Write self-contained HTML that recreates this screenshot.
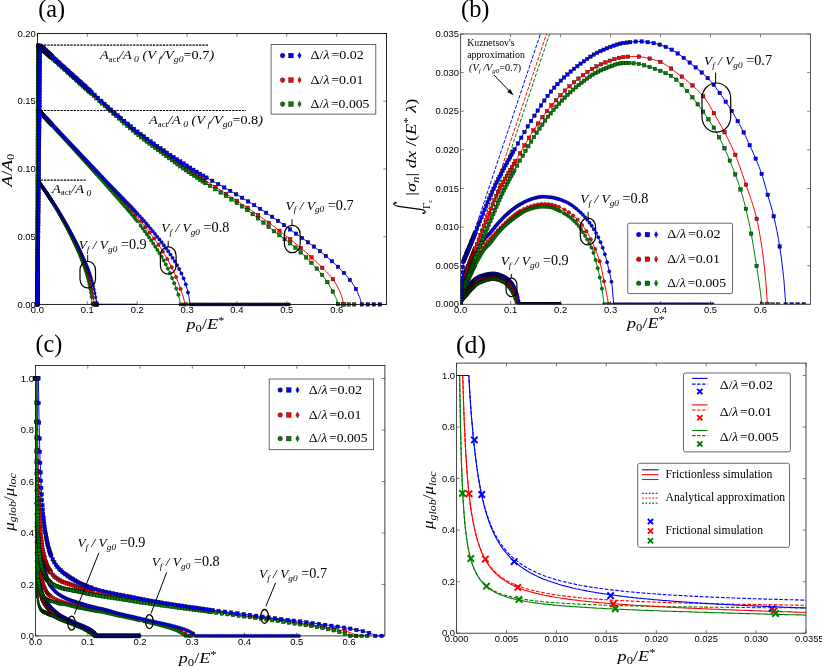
<!DOCTYPE html>
<html><head><meta charset="utf-8"><title>Figure</title>
<style>html,body{margin:0;padding:0;background:#fff;}svg{display:block;will-change:transform;}text{fill:#000;}</style>
</head><body>
<svg width="822" height="667" viewBox="0 0 822 667">
<rect width="822" height="667" fill="#fff"/>
<defs>
<marker id="sb" markerUnits="userSpaceOnUse" markerWidth="6" markerHeight="6" refX="3" refY="3" overflow="visible"><rect x="1.25" y="1.25" width="3.5" height="3.5" fill="#0000ff" stroke="#000" stroke-width="0.38"/></marker>
<marker id="cb" markerUnits="userSpaceOnUse" markerWidth="6" markerHeight="6" refX="3" refY="3" overflow="visible"><circle cx="3" cy="3" r="1.7" fill="#0000ff" stroke="#000" stroke-width="0.38"/></marker>
<marker id="db" markerUnits="userSpaceOnUse" markerWidth="6" markerHeight="6" refX="3" refY="3" overflow="visible"><path d="M3 0.85L4.2 3L3 5.15L1.8 3Z" fill="#0000ff" stroke="#000" stroke-width="0.5"/></marker>
<marker id="sr" markerUnits="userSpaceOnUse" markerWidth="6" markerHeight="6" refX="3" refY="3" overflow="visible"><rect x="1.25" y="1.25" width="3.5" height="3.5" fill="#ff0000" stroke="#000" stroke-width="0.38"/></marker>
<marker id="cr" markerUnits="userSpaceOnUse" markerWidth="6" markerHeight="6" refX="3" refY="3" overflow="visible"><circle cx="3" cy="3" r="1.7" fill="#ff0000" stroke="#000" stroke-width="0.38"/></marker>
<marker id="dr" markerUnits="userSpaceOnUse" markerWidth="6" markerHeight="6" refX="3" refY="3" overflow="visible"><path d="M3 0.85L4.2 3L3 5.15L1.8 3Z" fill="#ff0000" stroke="#000" stroke-width="0.5"/></marker>
<marker id="sg" markerUnits="userSpaceOnUse" markerWidth="6" markerHeight="6" refX="3" refY="3" overflow="visible"><rect x="1.25" y="1.25" width="3.5" height="3.5" fill="#008000" stroke="#000" stroke-width="0.38"/></marker>
<marker id="cg" markerUnits="userSpaceOnUse" markerWidth="6" markerHeight="6" refX="3" refY="3" overflow="visible"><circle cx="3" cy="3" r="1.7" fill="#008000" stroke="#000" stroke-width="0.38"/></marker>
<marker id="dg" markerUnits="userSpaceOnUse" markerWidth="6" markerHeight="6" refX="3" refY="3" overflow="visible"><path d="M3 0.85L4.2 3L3 5.15L1.8 3Z" fill="#008000" stroke="#000" stroke-width="0.5"/></marker>
<clipPath id="clipa"><rect x="37.4" y="33.5" width="349.20000000000005" height="270.9"/></clipPath>
<clipPath id="clipb"><rect x="460.6" y="34.0" width="349.9" height="270.3"/></clipPath>
<clipPath id="clipc"><rect x="35.5" y="365.4" width="349.4" height="270.5"/></clipPath>
<clipPath id="clipd"><rect x="456.6" y="363.1" width="349.4" height="270.1"/></clipPath>
</defs>
<polyline fill="none" stroke="#ff0000" stroke-width="1" stroke-linejoin="round" points="37.4,304.4 37.4,301.4 37.4,298.5 37.4,295.5 37.4,292.6 37.4,289.6 37.4,286.7 37.5,283.7 37.5,280.8 37.5,277.8 37.5,274.9 37.5,271.9 37.5,269 37.5,266 37.5,263.1 37.5,260.1 37.5,257.2 37.5,254.2 37.5,251.3 37.5,248.3 37.6,245.4 37.6,242.4 37.6,239.5 37.6,236.5 37.6,233.6 37.6,230.6 37.6,227.7 37.6,224.7 37.6,221.8 37.6,218.8 37.6,215.9 37.6,212.9 37.6,210 37.7,207 37.7,204.1 37.7,201.1 37.7,198.2 37.7,195.2 37.7,192.3 37.7,189.3 37.7,186.4 37.7,183.4 37.7,180.5 37.9,180.7 38.1,181 38.3,181.3 38.5,181.6 38.7,181.8 38.9,182.1 39.1,182.4 39.3,182.7 39.5,182.9 39.7,183.2 39.9,183.5 40.1,183.8 40.3,184.1 40.5,184.3 40.7,184.6 40.9,184.9 41.1,185.2 41.3,185.5 41.5,185.8 41.7,186 41.9,186.3 42.1,186.6 42.3,186.9 42.5,187.2 42.7,187.5 42.8,187.7 42.9,187.8 43.1,188.1 43.3,188.3 43.5,188.6 43.7,188.9 43.9,189.2 44.1,189.5 44.3,189.8 44.5,190.1 44.7,190.4 44.9,190.7 45.1,191 45.3,191.3 45.5,191.6 45.7,191.9 45.9,192.2 46.1,192.4 46.3,192.7 46.5,193 46.7,193.3 46.9,193.6 47.1,193.9 47.3,194.2 47.5,194.5 47.7,194.8 47.9,195.1 48.1,195.4 48.3,195.7 48.5,196 48.7,196.3 48.7,196.4 48.9,196.7 49.1,197 49.3,197.3 49.5,197.6 49.7,197.9 49.9,198.2 50.1,198.5 50.3,198.8 50.5,199.1 50.7,199.4 50.9,199.7 51,199.8 51.1,200 51.3,200.3 51.5,200.6 51.7,201 51.9,201.3 52.1,201.6 52.3,201.9 52.4,202 53.9,204.4 55.4,206.8 56.4,208.5 56.9,209.2 58.4,211.7 59.8,214.2 61.3,216.8 61.5,217 62.8,219.4 64.3,222.1 65.8,224.9 67.3,227.7 68.8,230.5 70,232.8 70.3,233.4 71.8,236.4 72,236.7 73.3,239.4 74.8,242.4 76.3,245.4 77.8,248.5 79.3,251.8 80.7,254.9 80.8,255.1 82.3,258.7 82.4,259 83.8,262.3 85.3,266 86.8,270.1 87.5,272.3 88.3,274.6 89.3,278 89.8,279.9 91.3,286.5 92.3,291.6 92.5,292.9 92.8,294.2 93.8,300.3 94,302.3 94.3,304.4 94.3,304.4 94.8,304.4 95.8,304.4 97.3,304.4 98.8,304.4 100.3,304.4 101.8,304.4 103.2,304.4 104.7,304.4 106.2,304.4 107.7,304.4 109.2,304.4 110.7,304.4 112.2,304.4 113.7,304.4 115.2,304.4 116.7,304.4 118.2,304.4 119.7,304.4 121.2,304.4 122.7,304.4 124.2,304.4 125.7,304.4 127.2,304.4 128.7,304.4 130.2,304.4 131.7,304.4 133.2,304.4 134.7,304.4 136.2,304.4 137.2,304.4"/>
<polyline fill="none" stroke="none" marker-start="url(#dr)" marker-mid="url(#dr)" marker-end="url(#dr)" points="37.4,304.4 37.4,301.4 37.4,298.5 37.4,295.5 37.4,292.6 37.4,289.6 37.4,286.7 37.5,283.7 37.5,280.8 37.5,277.8 37.5,274.9 37.5,271.9 37.5,269 37.5,266 37.5,263.1 37.5,260.1 37.5,257.2 37.5,254.2 37.5,251.3 37.5,248.3 37.6,245.4 37.6,242.4 37.6,239.5 37.6,236.5 37.6,233.6 37.6,230.6 37.6,227.7 37.6,224.7 37.6,221.8 37.6,218.8 37.6,215.9 37.6,212.9 37.6,210 37.7,207 37.7,204.1 37.7,201.1 37.7,198.2 37.7,195.2 37.7,192.3 37.7,189.3 37.7,186.4 37.7,183.4 37.7,180.5 37.9,180.7 38.1,180.9 38.2,181.2 38.4,181.4 38.6,181.7 38.8,181.9 38.9,182.1 39.1,182.4 39.3,182.6 39.5,182.9 39.6,183.1 39.8,183.4 40,183.6 40.2,183.9 40.3,184.1 40.7,184.6 41,185.1 41.4,185.6 41.7,186.1 42.1,186.6 42.4,187.1 42.8,187.6 43.1,188.1 43.5,188.6 43.8,189.1 44.2,189.6 44.5,190.1 44.9,190.6 45.2,191.2 45.6,191.7 45.9,192.2 46.3,192.7 46.6,193.2 47,193.8 47.3,194.3 47.7,194.8 48,195.3 48.4,195.9 48.7,196.4 49.1,196.9 49.4,197.5 49.8,198 50.1,198.5 50.5,199.1 50.8,199.6 51.2,200.1 51.5,200.7 51.9,201.2 52.2,201.8 53,202.9 53.7,204.1 54.5,205.3 55.2,206.5 56,207.7 56.7,208.9 57.5,210.2 58.2,211.4 59,212.7 59.7,213.9 60.4,215.2 61.2,216.5 61.9,217.8 62.7,219.1 63.4,220.5 64.2,221.8 64.9,223.2 65.7,224.6 66.4,226 67.2,227.4 67.9,228.8 68.7,230.2 69.4,231.7 70.2,233.1 70.9,234.6 71.7,236.1 72.4,237.6 73.2,239.1 73.9,240.6 74.7,242.1 75.4,243.6 76.2,245.1 76.9,246.7 77.7,248.2 78.4,249.8 79.2,251.4 79.9,253.1 80.7,254.8 81.4,256.5 82.1,258.3 82.9,260.1 83.6,261.9 84.4,263.8 85.1,265.7 85.9,267.6 86.6,269.7 87.4,271.8 88.1,274.1 88.9,276.6 89.6,279.3 90.4,282.4 91.1,285.8 91.9,289.5 92.6,293.4 93.4,297.7 94.1,303.1 94.9,304.4 95.6,304.4 96.4,304.4 97.1,304.4 97.9,304.4"/>
<polyline fill="none" stroke="#008000" stroke-width="1" stroke-linejoin="round" points="37.4,304.4 37.4,301.4 37.4,298.5 37.4,295.5 37.4,292.6 37.4,289.6 37.4,286.7 37.4,283.7 37.4,280.8 37.4,277.8 37.4,274.9 37.4,271.9 37.4,269 37.4,266 37.5,263.1 37.5,260.1 37.5,257.2 37.5,254.2 37.5,251.3 37.5,248.3 37.5,245.4 37.5,242.4 37.5,239.5 37.5,236.5 37.5,233.6 37.5,230.6 37.5,227.7 37.5,224.7 37.5,221.8 37.5,218.8 37.5,215.9 37.5,212.9 37.5,210 37.5,207 37.5,204.1 37.5,201.1 37.5,198.2 37.5,195.2 37.5,192.3 37.5,189.3 37.6,186.4 37.6,183.4 37.6,180.5 37.8,180.7 38,181 38.2,181.3 38.4,181.6 38.6,181.8 38.8,182.1 39,182.4 39.2,182.7 39.4,183 39.6,183.2 39.8,183.5 40,183.8 40.2,184.1 40.4,184.4 40.6,184.7 40.8,184.9 41,185.2 41.2,185.5 41.4,185.8 41.6,186.1 41.8,186.4 41.9,186.7 42.1,187 42.3,187.2 42.5,187.5 42.7,187.8 42.8,188 42.9,188.1 43.1,188.4 43.3,188.7 43.5,189 43.7,189.3 43.9,189.6 44.1,189.9 44.3,190.2 44.5,190.5 44.7,190.8 44.9,191.1 45.1,191.4 45.3,191.7 45.5,192 45.7,192.3 45.9,192.6 46.1,192.9 46.3,193.2 46.5,193.5 46.7,193.8 46.9,194.1 47.1,194.4 47.3,194.7 47.5,195 47.7,195.3 47.9,195.6 48.1,195.9 48.3,196.2 48.5,196.6 48.7,196.8 48.7,196.9 48.9,197.2 49.1,197.5 49.3,197.8 49.5,198.1 49.7,198.4 49.9,198.7 50.1,199.1 50.3,199.4 50.5,199.7 50.7,200 50.9,200.3 51,200.4 51.1,200.6 51.3,200.9 51.5,201.3 51.7,201.6 51.9,201.9 52.1,202.2 52.3,202.5 52.4,202.6 53.9,205 55.4,207.5 56.4,209.3 56.9,210 58.4,212.6 59.8,215.2 61.3,217.8 61.5,218.1 62.8,220.6 64.3,223.3 65.8,226.1 67.3,229 68.8,231.9 70,234.3 70.3,234.9 71.8,238 72,238.3 73.3,241.1 74.8,244.3 76.3,247.6 77.8,250.9 79.3,254.4 79.7,255.4 80.8,258.1 82.3,262 82.4,262.4 83.8,266.1 85.3,270.6 86.5,274.7 86.8,275.6 87.8,279.3 88.3,281.4 89.8,288.7 90.5,292.9 91.3,297.3 91.4,298 91.7,300.3 92,304.4 92.8,304.4 92.8,304.4 93.3,304.4 94.3,304.4 95.8,304.4 97.3,304.4 98.8,304.4 100.3,304.4 101.8,304.4 103.2,304.4 104.7,304.4 106.2,304.4 107.7,304.4 109.2,304.4 110.7,304.4 112.2,304.4 113.7,304.4 115.2,304.4 116.7,304.4 118.2,304.4 119.7,304.4 121.2,304.4 122.7,304.4 124.2,304.4 125.7,304.4 127.2,304.4 128.7,304.4 130.2,304.4 131.7,304.4 133.2,304.4 134.7,304.4 136.2,304.4 137.2,304.4"/>
<polyline fill="none" stroke="none" marker-start="url(#dg)" marker-mid="url(#dg)" marker-end="url(#dg)" points="37.4,304.4 37.4,301.4 37.4,298.5 37.4,295.5 37.4,292.6 37.4,289.6 37.4,286.7 37.4,283.7 37.4,280.8 37.4,277.8 37.4,274.9 37.4,271.9 37.4,269 37.4,266 37.5,263.1 37.5,260.1 37.5,257.2 37.5,254.2 37.5,251.3 37.5,248.3 37.5,245.4 37.5,242.4 37.5,239.5 37.5,236.5 37.5,233.6 37.5,230.6 37.5,227.7 37.5,224.7 37.5,221.8 37.5,218.8 37.5,215.9 37.5,212.9 37.5,210 37.5,207 37.5,204.1 37.5,201.1 37.5,198.2 37.5,195.2 37.5,192.3 37.5,189.3 37.6,186.4 37.6,183.4 37.6,180.5 37.6,180.6 37.7,180.7 37.8,180.8 37.9,180.9 38,181.1 38.1,181.2 38.2,181.3 38.3,181.4 38.3,181.5 38.4,181.7 38.5,181.8 38.6,181.9 38.7,182 38.8,182.2 38.9,182.3 39,182.4 39,182.5 39.1,182.6 39.2,182.8 39.3,182.9 39.4,183 39.7,183.5 40.1,184 40.4,184.5 40.8,185 41.1,185.5 41.5,186 41.8,186.5 42.2,187 42.5,187.5 42.9,188 43.2,188.5 43.6,189.1 43.9,189.6 44.3,190.1 44.6,190.6 45,191.1 45.3,191.7 45.7,192.2 46,192.7 46.4,193.2 46.7,193.8 47.1,194.3 47.4,194.8 47.8,195.4 48.1,195.9 48.5,196.5 48.8,197 49.2,197.5 49.5,198.1 49.9,198.6 50.2,199.2 50.6,199.7 50.9,200.3 51.3,200.8 51.6,201.4 52,202 52.3,202.5 53.1,203.7 53.8,204.9 54.6,206.2 55.3,207.4 56.1,208.7 56.8,209.9 57.6,211.2 58.3,212.5 59,213.8 59.8,215.1 60.5,216.4 61.3,217.8 62,219.1 62.8,220.5 63.5,221.8 64.3,223.2 65,224.6 65.8,226 66.5,227.4 67.3,228.9 68,230.3 68.8,231.8 69.5,233.3 70.3,234.8 71,236.3 71.8,237.9 72.5,239.4 73.3,241 74,242.6 74.8,244.2 75.5,245.8 76.3,247.4 77,249.1 77.8,250.8 78.5,252.5 79.3,254.3 80,256.1 80.7,258 81.5,259.9 82.2,261.9 83,263.9 83.7,266 84.5,268.2 85.2,270.4 86,272.8 86.7,275.4 87.5,278.2 88.2,281.2 89,284.6 89.7,288.5 90.5,292.6 91.2,296.9 92,303.7 92.7,304.4 93.5,304.4 94.2,304.4 95,304.4 95.7,304.4 96.5,304.4 97.2,304.4 98,304.4"/>
<polyline fill="none" stroke="#0000ff" stroke-width="1" stroke-linejoin="round" points="37.4,304.4 37.4,301.4 37.4,298.5 37.4,295.5 37.5,292.6 37.5,289.6 37.5,286.7 37.5,283.7 37.5,280.8 37.5,277.8 37.6,274.9 37.6,271.9 37.6,269 37.6,266 37.6,263.1 37.6,260.1 37.6,257.2 37.7,254.2 37.7,251.3 37.7,248.3 37.7,245.4 37.7,242.4 37.7,239.5 37.8,236.5 37.8,233.6 37.8,230.6 37.8,227.7 37.8,224.7 37.8,221.8 37.8,218.8 37.9,215.9 37.9,212.9 37.9,210 37.9,207 37.9,204.1 37.9,201.1 38,198.2 38,195.2 38,192.3 38,189.3 38,186.4 38,183.4 38,180.5 38.2,180.7 38.4,181 38.6,181.3 38.8,181.5 39,181.8 39.2,182.1 39.4,182.4 39.6,182.6 39.8,182.9 40,183.2 40.2,183.5 40.4,183.7 40.6,184 40.8,184.3 41,184.6 41.2,184.9 41.4,185.1 41.6,185.4 41.8,185.7 42,186 42.2,186.3 42.4,186.5 42.6,186.8 42.8,187.1 43,187.4 43.2,187.7 43.4,188 43.6,188.2 43.8,188.5 44,188.8 44.2,189.1 44.4,189.4 44.6,189.7 44.8,190 45,190.2 45.2,190.5 45.4,190.8 45.6,191.1 45.8,191.4 46,191.7 46.2,192 46.4,192.3 46.6,192.6 46.8,192.9 47,193.2 47.2,193.4 47.4,193.7 47.6,194 47.8,194.3 48,194.6 48.2,194.9 48.4,195.2 48.6,195.5 48.7,195.6 48.8,195.8 49,196.1 49.2,196.4 49.4,196.7 49.6,197 49.8,197.3 50,197.6 50.2,197.9 50.4,198.2 50.6,198.5 50.8,198.8 51,199 51,199.1 51.2,199.4 51.4,199.7 51.6,200 51.8,200.3 52,200.6 52.2,200.9 52.4,201.1 53.9,203.4 55.4,205.8 56.4,207.4 56.9,208.1 58.4,210.5 59.8,212.9 61.3,215.4 61.5,215.7 62.8,218 64.3,220.5 65.8,223.2 67.3,225.8 68.8,228.5 70,230.7 70.3,231.3 71.8,234.1 72,234.4 73.3,236.9 74.8,239.8 76.3,242.7 77.8,245.6 79.3,248.6 80.8,251.8 81.6,253.6 82.3,255 82.4,255.4 83.8,258.4 85.3,261.7 86.8,265.2 88.3,268.9 88.5,269.4 89.8,273 90.9,276.4 91.3,277.7 92.8,283.2 93.3,285.4 94.3,289.6 95,293.2 95.5,295.7 95.8,297.2 96.3,300.3 96.8,304.4 97.3,304.4 98.8,304.4 100.3,304.4 101.8,304.4 103.2,304.4 104.7,304.4 106.2,304.4 107.7,304.4 109.2,304.4 110.7,304.4 112.2,304.4 113.7,304.4 115.2,304.4 116.7,304.4 118.2,304.4 119.7,304.4 121.2,304.4 122.7,304.4 124.2,304.4 125.7,304.4 127.2,304.4 128.7,304.4 130.2,304.4 131.7,304.4 133.2,304.4 134.7,304.4 136.2,304.4 137.2,304.4"/>
<polyline fill="none" stroke="none" marker-start="url(#db)" marker-mid="url(#db)" marker-end="url(#db)" points="37.4,304.4 37.4,301.4 37.4,298.5 37.4,295.5 37.5,292.6 37.5,289.6 37.5,286.7 37.5,283.7 37.5,280.8 37.5,277.8 37.6,274.9 37.6,271.9 37.6,269 37.6,266 37.6,263.1 37.6,260.1 37.6,257.2 37.7,254.2 37.7,251.3 37.7,248.3 37.7,245.4 37.7,242.4 37.7,239.5 37.8,236.5 37.8,233.6 37.8,230.6 37.8,227.7 37.8,224.7 37.8,221.8 37.8,218.8 37.9,215.9 37.9,212.9 37.9,210 37.9,207 37.9,204.1 37.9,201.1 38,198.2 38,195.2 38,192.3 38,189.3 38,186.4 38,183.4 38,180.5 38.4,180.9 38.7,181.4 39.1,181.9 39.4,182.4 39.8,182.9 40.1,183.3 40.5,183.8 40.8,184.3 41.2,184.8 41.5,185.3 41.9,185.8 42.2,186.3 42.6,186.8 42.9,187.2 43.3,187.7 43.6,188.2 44,188.7 44.3,189.2 44.7,189.7 45,190.2 45.4,190.8 45.7,191.3 46.1,191.8 46.4,192.3 46.8,192.8 47.1,193.3 47.5,193.8 47.8,194.3 48.2,194.8 48.5,195.4 48.9,195.9 49.2,196.4 49.6,196.9 49.9,197.4 50.3,198 50.6,198.5 51,199 51.3,199.5 51.7,200.1 52,200.6 52.4,201.1 53.1,202.3 53.9,203.4 54.6,204.6 55.4,205.8 56.1,206.9 56.9,208.1 57.6,209.3 58.4,210.5 59.1,211.7 59.8,212.9 60.6,214.2 61.3,215.4 62.1,216.7 62.8,218 63.6,219.2 64.3,220.5 65.1,221.8 65.8,223.2 66.6,224.5 67.3,225.8 68.1,227.2 68.8,228.5 69.6,229.9 70.3,231.3 71.1,232.7 71.8,234.1 72.6,235.5 73.3,236.9 74.1,238.3 74.8,239.8 75.6,241.2 76.3,242.7 77.1,244.1 77.8,245.6 78.6,247.1 79.3,248.6 80.1,250.2 80.8,251.8 81.5,253.4 82.3,255 83,256.7 83.8,258.4 84.5,260 85.3,261.7 86,263.4 86.8,265.2 87.5,267 88.3,268.9 89,270.9 89.8,273 90.5,275.3 91.3,277.7 92,280.3 92.8,283.2 93.5,286.3 94.3,289.6 95,293.2 95.8,297.2 96.5,302.2 97.3,304.4"/>
<polyline fill="none" stroke="#ff0000" stroke-width="1" stroke-linejoin="round" points="37.4,304.4 37.4,301.4 37.4,298.4 37.4,295.4 37.4,292.5 37.5,289.5 37.5,286.5 37.5,283.5 37.5,280.5 37.5,277.5 37.5,274.5 37.5,271.6 37.5,268.6 37.6,265.6 37.6,262.6 37.6,259.6 37.6,256.6 37.6,253.6 37.6,250.6 37.6,247.7 37.6,244.7 37.7,241.7 37.7,238.7 37.7,235.7 37.7,232.7 37.7,229.7 37.7,226.8 37.7,223.8 37.7,220.8 37.7,217.8 37.8,214.8 37.8,211.8 37.8,208.8 37.8,205.9 37.8,202.9 37.8,199.9 37.8,196.9 37.8,193.9 37.9,190.9 37.9,187.9 37.9,185 37.9,182 37.9,179 37.9,176 37.9,173 37.9,170 38,167 38,164.1 38,161.1 38,158.1 38,155.1 38,152.1 38,149.1 38,146.1 38.1,143.1 38.1,140.2 38.1,137.2 38.1,134.2 38.1,131.2 38.1,128.2 38.1,125.2 38.1,122.2 38.1,119.3 38.2,116.3 38.2,113.3 38.2,110.3 38.4,110.5 38.6,110.7 38.8,110.9 39,111.1 39.2,111.4 39.4,111.6 39.6,111.8 39.8,112 40,112.2 40.2,112.4 40.4,112.6 40.6,112.8 40.8,113 41,113.2 41.2,113.5 41.4,113.7 41.6,113.9 41.8,114.1 42,114.3 42.2,114.5 42.4,114.7 42.6,114.9 42.8,115.1 43,115.4 43.2,115.6 43.4,115.8 43.4,115.8 43.6,116 43.8,116.2 44,116.4 44.2,116.6 44.4,116.8 44.6,117 44.8,117.2 45,117.5 45.2,117.7 45.4,117.9 45.6,118.1 45.8,118.3 46,118.5 46.2,118.7 46.4,118.9 46.6,119.1 46.8,119.4 47,119.6 47.2,119.8 47.4,120 47.6,120.2 47.8,120.4 48,120.6 48.2,120.8 48.4,121 48.6,121.3 48.8,121.5 49,121.7 49.2,121.9 49.3,122.1 49.4,122.1 49.6,122.3 49.8,122.5 50,122.7 50.2,122.9 50.4,123.2 50.6,123.4 50.8,123.6 51,123.8 51.2,124 51.4,124.2 51.6,124.4 51.8,124.6 52,124.9 52.2,125.1 52.4,125.3 52.4,125.3 53.9,126.9 55.4,128.5 56.4,129.5 56.9,130.1 58.4,131.7 59.8,133.2 61.2,134.7 61.3,134.8 62.3,135.9 62.8,136.4 64.3,138 65.8,139.6 66.8,140.7 67.3,141.2 68.8,142.8 70.3,144.4 71.8,146 73.3,147.6 74.3,148.7 74.8,149.2 76.3,150.9 77.8,152.5 79.3,154.1 80.8,155.7 81.8,156.8 82.3,157.3 83.8,158.9 85.3,160.5 86.8,162.1 88.3,163.7 89.3,164.8 89.8,165.3 90.9,166.5 91.3,166.9 92.8,168.5 94.3,170.2 95.8,171.8 96.8,172.8 97.3,173.4 98.8,175 100.3,176.6 101.8,178.2 103.2,179.8 104.2,180.9 104.7,181.4 106.2,183 107.7,184.6 109.2,186.2 110.7,187.8 111.7,188.9 112.2,189.5 113.7,191.1 113.9,191.3 115.2,192.7 116.7,194.3 118.2,195.9 119.2,197 119.7,197.5 121.2,199.1 122.7,200.7 124.2,202.3 125.7,203.9 126.7,205 127.2,205.6 128.7,207.2 130.2,208.9 131.7,210.6 133.2,212.3 134.1,213.4 134.7,214 134.9,214.3 136.2,215.8 137.7,217.6 139.2,219.4 140.7,221.2 142.2,223 143.7,224.8 143.8,225 145.2,226.7 146.6,228.6 148.1,230.5 149.6,232.5 151.1,234.4 152.6,236.5 153.5,237.7 154.1,238.5 155.6,240.6 155.9,241 157.1,242.7 158.6,244.9 160.1,247.1 161.6,249.5 163.1,251.9 163.2,252 164.3,253.9 164.6,254.4 166.1,257 167.6,259.6 169.1,262.3 170.6,265.2 171,266 172.1,268.2 173.6,271.3 174.8,273.9 175.1,274.6 176.6,278.2 176.8,278.9 178.1,282.2 179.6,286.3 180.9,290.2 181.1,290.6 181.1,290.6 182.6,294.7 183.8,299 184.1,300.1 184.9,304.4 185.6,304.4 187.1,304.4"/>
<polyline fill="none" stroke="none" marker-start="url(#cr)" marker-mid="url(#cr)" marker-end="url(#cr)" points="37.4,304.4 37.4,301.4 37.4,298.4 37.4,295.4 37.4,292.5 37.5,289.5 37.5,286.5 37.5,283.5 37.5,280.5 37.5,277.5 37.5,274.5 37.5,271.6 37.5,268.6 37.6,265.6 37.6,262.6 37.6,259.6 37.6,256.6 37.6,253.6 37.6,250.6 37.6,247.7 37.6,244.7 37.7,241.7 37.7,238.7 37.7,235.7 37.7,232.7 37.7,229.7 37.7,226.8 37.7,223.8 37.7,220.8 37.7,217.8 37.8,214.8 37.8,211.8 37.8,208.8 37.8,205.9 37.8,202.9 37.8,199.9 37.8,196.9 37.8,193.9 37.9,190.9 37.9,187.9 37.9,185 37.9,182 37.9,179 37.9,176 37.9,173 37.9,170 38,167 38,164.1 38,161.1 38,158.1 38,155.1 38,152.1 38,149.1 38,146.1 38.1,143.1 38.1,140.2 38.1,137.2 38.1,134.2 38.1,131.2 38.1,128.2 38.1,125.2 38.1,122.2 38.1,119.3 38.2,116.3 38.2,113.3 38.2,110.3 38.4,110.5 38.5,110.7 38.7,110.9 38.9,111 39.1,111.2 39.2,111.4 39.4,111.6 39.6,111.8 39.8,112 39.9,112.1 40.1,112.3 40.3,112.5 40.5,112.7 40.6,112.9 40.8,113.1 41,113.2 41.2,113.4 41.3,113.6 41.7,114 42,114.4 42.4,114.7 42.7,115.1 43.1,115.5 43.4,115.8 43.8,116.2 44.1,116.6 44.5,116.9 44.8,117.3 45.2,117.7 45.5,118 45.9,118.4 46.2,118.8 46.6,119.1 46.9,119.5 47.3,119.9 47.6,120.3 48,120.6 48.3,121 48.7,121.4 49,121.7 49.4,122.1 49.7,122.5 50.1,122.8 50.4,123.2 50.8,123.6 51.1,124 51.5,124.3 51.8,124.7 52.2,125.1 54.6,127.7 57.1,130.4 59.6,133 62.1,135.7 64.6,138.3 67.1,141 69.6,143.7 72.1,146.3 74.6,149 77.1,151.7 79.6,154.4 82.1,157.1 84.6,159.7 87.1,162.4 89.6,165.1 92.1,167.8 94.6,170.5 97,173.1 100.5,176.9 104,180.6 107.5,184.4 111,188.1 114.5,191.9 118,195.7 121.5,199.4 125,203.2 128.5,207 132,210.9 135.5,215 141,221.5 145.4,227 149.7,232.6 154.1,238.5 158.5,244.7 162.9,251.6 167.3,259.1 171.7,267.3 176.1,277 180.5,288.9 184.9,304.4"/>
<polyline fill="none" stroke="#008000" stroke-width="1" stroke-linejoin="round" points="37.4,304.4 37.4,301.4 37.4,298.4 37.4,295.4 37.4,292.5 37.4,289.5 37.4,286.5 37.4,283.5 37.4,280.5 37.5,277.5 37.5,274.5 37.5,271.6 37.5,268.6 37.5,265.6 37.5,262.6 37.5,259.6 37.5,256.6 37.5,253.6 37.5,250.6 37.5,247.7 37.5,244.7 37.5,241.7 37.5,238.7 37.5,235.7 37.5,232.7 37.5,229.7 37.6,226.8 37.6,223.8 37.6,220.8 37.6,217.8 37.6,214.8 37.6,211.8 37.6,208.8 37.6,205.9 37.6,202.9 37.6,199.9 37.6,196.9 37.6,193.9 37.6,190.9 37.6,187.9 37.6,185 37.6,182 37.7,179 37.7,176 37.7,173 37.7,170 37.7,167 37.7,164.1 37.7,161.1 37.7,158.1 37.7,155.1 37.7,152.1 37.7,149.1 37.7,146.1 37.7,143.1 37.7,140.2 37.7,137.2 37.7,134.2 37.7,131.2 37.8,128.2 37.8,125.2 37.8,122.2 37.8,119.3 37.8,116.3 37.8,113.3 37.8,110.3 38,110.5 38.2,110.7 38.4,110.9 38.6,111.1 38.8,111.3 39,111.6 39.2,111.8 39.4,112 39.6,112.2 39.8,112.4 40,112.6 40.2,112.8 40.4,113 40.6,113.2 40.8,113.4 41,113.7 41.2,113.9 41.4,114.1 41.6,114.3 41.8,114.5 42,114.7 42.2,114.9 42.4,115.1 42.6,115.3 42.8,115.5 43,115.8 43.2,116 43.4,116.2 43.4,116.2 43.6,116.4 43.8,116.6 44,116.8 44.2,117 44.4,117.2 44.6,117.4 44.8,117.7 45,117.9 45.2,118.1 45.4,118.3 45.6,118.5 45.8,118.7 46,118.9 46.2,119.1 46.4,119.3 46.6,119.6 46.8,119.8 47,120 47.2,120.2 47.4,120.4 47.6,120.6 47.8,120.8 48,121 48.2,121.2 48.4,121.5 48.6,121.7 48.8,121.9 49,122.1 49.2,122.3 49.3,122.5 49.4,122.5 49.6,122.7 49.8,122.9 50,123.2 50.2,123.4 50.4,123.6 50.6,123.8 50.8,124 51,124.2 51.2,124.4 51.4,124.6 51.6,124.9 51.8,125.1 52,125.3 52.2,125.5 52.4,125.7 52.4,125.7 53.9,127.3 55.4,128.9 56.4,130 56.9,130.5 58.4,132.1 59.8,133.7 61.2,135.3 61.3,135.4 62.3,136.4 62.8,137 64.3,138.6 65.8,140.2 66.8,141.3 67.3,141.9 68.8,143.5 70.3,145.1 71.8,146.8 73.3,148.4 74.3,149.5 74.8,150.1 76.3,151.7 77.8,153.4 79.3,155 80.8,156.7 81.8,157.8 82.3,158.3 83.8,160 85.3,161.6 86.8,163.3 88.3,165 89.3,166.1 89.8,166.6 90.9,167.9 91.3,168.3 92.8,170 94.3,171.7 95.8,173.3 96.8,174.4 97.3,175 98.8,176.7 100.3,178.4 101.8,180.1 103.2,181.7 104.2,182.9 104.7,183.4 106.2,185.1 107.7,186.8 109.2,188.5 110.7,190.2 111.7,191.4 112.2,191.9 113.7,193.6 113.9,193.9 115.2,195.4 116.7,197 118.2,198.7 119.2,199.9 119.7,200.4 121.2,202.1 122.7,203.8 124.2,205.5 125.7,207.2 126.7,208.3 127.2,208.9 128.7,210.7 130.2,212.4 131.7,214.2 133.2,216.1 134.1,217.2 134.7,217.9 134.9,218.3 136.2,219.8 137.7,221.8 139.2,223.7 140.7,225.7 142.2,227.7 143.7,229.8 143.8,230 145.2,231.8 146.6,233.9 148.1,236 149.6,238.2 151.1,240.4 152.6,242.6 153.5,244 154.1,244.9 155.6,247.2 155.9,247.6 157.1,249.5 158.6,251.9 160.1,254.3 161.6,256.8 163.1,259.4 163.2,259.6 164.6,262.1 166.1,264.9 166.4,265.5 167.6,267.9 169,271 169.1,271.1 170.6,274.5 172.1,278.1 173.6,281.7 174.3,283.5 174.8,284.8 175.1,285.5 176.6,289.4 178.1,293.7 178.6,295.5 178.8,296.2 179.6,299.8 179.8,301 180,301.8 180.5,304.4 181.1,304.4 182.6,304.4 184.1,304.4 185.6,304.4 187.1,304.4"/>
<polyline fill="none" stroke="none" marker-start="url(#cg)" marker-mid="url(#cg)" marker-end="url(#cg)" points="37.4,304.4 37.4,301.4 37.4,298.4 37.4,295.4 37.4,292.5 37.4,289.5 37.4,286.5 37.4,283.5 37.4,280.5 37.5,277.5 37.5,274.5 37.5,271.6 37.5,268.6 37.5,265.6 37.5,262.6 37.5,259.6 37.5,256.6 37.5,253.6 37.5,250.6 37.5,247.7 37.5,244.7 37.5,241.7 37.5,238.7 37.5,235.7 37.5,232.7 37.5,229.7 37.6,226.8 37.6,223.8 37.6,220.8 37.6,217.8 37.6,214.8 37.6,211.8 37.6,208.8 37.6,205.9 37.6,202.9 37.6,199.9 37.6,196.9 37.6,193.9 37.6,190.9 37.6,187.9 37.6,185 37.6,182 37.7,179 37.7,176 37.7,173 37.7,170 37.7,167 37.7,164.1 37.7,161.1 37.7,158.1 37.7,155.1 37.7,152.1 37.7,149.1 37.7,146.1 37.7,143.1 37.7,140.2 37.7,137.2 37.7,134.2 37.7,131.2 37.8,128.2 37.8,125.2 37.8,122.2 37.8,119.3 37.8,116.3 37.8,113.3 37.8,110.3 37.9,110.4 38,110.5 38.1,110.6 38.1,110.7 38.2,110.8 38.3,110.8 38.4,110.9 38.5,111 38.6,111.1 38.7,111.2 38.7,111.3 38.8,111.4 38.9,111.5 39,111.6 39.1,111.7 39.2,111.8 39.3,111.9 39.4,111.9 39.4,112 39.5,112.1 39.6,112.2 39.7,112.3 39.8,112.4 39.9,112.5 40.2,112.9 40.6,113.2 40.9,113.6 41.3,114 41.6,114.3 42,114.7 42.3,115.1 42.7,115.4 43,115.8 43.4,116.2 43.7,116.5 44.1,116.9 44.4,117.3 44.8,117.7 45.1,118 45.5,118.4 45.8,118.8 46.2,119.1 46.5,119.5 46.9,119.9 47.2,120.2 47.6,120.6 47.9,121 48.3,121.4 48.6,121.7 49,122.1 49.3,122.5 49.7,122.8 50,123.2 50.4,123.6 50.7,124 51.1,124.3 51.4,124.7 51.8,125.1 52.1,125.4 53.4,126.8 54.6,128.1 55.8,129.4 57.1,130.8 58.3,132.1 59.6,133.5 60.8,134.8 62.1,136.2 63.3,137.5 64.6,138.9 65.8,140.2 67.1,141.6 68.3,142.9 69.6,144.3 70.8,145.7 72.1,147 73.3,148.4 74.6,149.8 75.8,151.1 77,152.5 78.3,153.9 79.5,155.3 80.8,156.7 82,158 83.3,159.4 84.5,160.8 85.8,162.2 87,163.6 88.3,165 89.5,166.4 90.8,167.7 92,169.1 93.3,170.5 94.5,171.9 95.8,173.3 97,174.7 98.7,176.7 100.5,178.6 102.2,180.6 104,182.6 105.7,184.5 107.5,186.5 109.2,188.5 111,190.5 112.7,192.5 114.5,194.5 116.2,196.5 118,198.4 119.7,200.4 121.4,202.4 123.2,204.3 124.9,206.3 126.7,208.3 128.4,210.4 130.2,212.4 131.9,214.5 133.7,216.7 135.4,218.9 137.2,221.1 140.7,225.7 142.8,228.5 144.9,231.4 146.9,234.3 149,237.3 151.1,240.4 153.2,243.5 155.3,246.7 157.4,250 159.5,253.3 161.6,256.8 163.7,260.5 165.8,264.4 167.9,268.6 170,273.1 172.1,278.1 174.2,283.2 176.3,288.6 178.4,294.8 180.5,304.4 182.6,304.4 184.7,304.4 186.8,304.4"/>
<polyline fill="none" stroke="#0000ff" stroke-width="1" stroke-linejoin="round" points="37.4,304.4 37.4,301.4 37.4,298.4 37.5,295.4 37.5,292.5 37.5,289.5 37.5,286.5 37.6,283.5 37.6,280.5 37.6,277.5 37.6,274.5 37.7,271.6 37.7,268.6 37.7,265.6 37.7,262.6 37.8,259.6 37.8,256.6 37.8,253.6 37.8,250.6 37.9,247.7 37.9,244.7 37.9,241.7 37.9,238.7 37.9,235.7 38,232.7 38,229.7 38,226.8 38,223.8 38.1,220.8 38.1,217.8 38.1,214.8 38.1,211.8 38.2,208.8 38.2,205.9 38.2,202.9 38.2,199.9 38.3,196.9 38.3,193.9 38.3,190.9 38.3,187.9 38.4,185 38.4,182 38.4,179 38.4,176 38.4,173 38.5,170 38.5,167 38.5,164.1 38.5,161.1 38.6,158.1 38.6,155.1 38.6,152.1 38.6,149.1 38.7,146.1 38.7,143.1 38.7,140.2 38.7,137.2 38.8,134.2 38.8,131.2 38.8,128.2 38.8,125.2 38.9,122.2 38.9,119.3 38.9,116.3 38.9,113.3 38.9,110.3 39.1,110.5 39.3,110.7 39.5,110.9 39.7,111.1 39.9,111.4 40.1,111.6 40.3,111.8 40.5,112 40.7,112.2 40.9,112.4 41.1,112.6 41.3,112.8 41.5,113.1 41.7,113.3 41.9,113.5 42.1,113.7 42.3,113.9 42.5,114.1 42.7,114.3 42.9,114.5 43.1,114.7 43.3,115 43.4,115 43.5,115.2 43.7,115.4 43.9,115.6 44.1,115.8 44.3,116 44.5,116.2 44.7,116.4 44.9,116.7 45.1,116.9 45.3,117.1 45.5,117.3 45.7,117.5 45.9,117.7 46.1,117.9 46.3,118.1 46.5,118.3 46.7,118.6 46.9,118.8 47.1,119 47.3,119.2 47.5,119.4 47.7,119.6 47.9,119.8 48.1,120 48.3,120.3 48.5,120.5 48.7,120.7 48.9,120.9 49.1,121.1 49.3,121.3 49.3,121.3 49.5,121.5 49.7,121.7 49.9,121.9 50.1,122.2 50.3,122.4 50.5,122.6 50.7,122.8 50.9,123 51.1,123.2 51.3,123.4 51.5,123.6 51.7,123.8 51.9,124.1 52.1,124.3 52.3,124.5 52.4,124.5 53.9,126.1 55.4,127.7 56.4,128.8 56.9,129.3 58.4,130.9 59.8,132.5 61.2,133.9 61.3,134 62.3,135.1 62.8,135.6 64.3,137.2 65.8,138.8 66.8,139.8 67.3,140.4 68.8,141.9 70.3,143.5 71.8,145.1 73.3,146.7 74.3,147.7 74.8,148.3 76.3,149.8 77.8,151.4 79.3,153 80.8,154.6 81.8,155.6 82.3,156.1 83.8,157.7 85.3,159.3 86.8,160.9 88.3,162.4 89.3,163.5 89.8,164 90.9,165.2 91.3,165.6 92.8,167.1 94.3,168.7 95.8,170.3 96.8,171.3 97.3,171.9 98.8,173.4 100.3,175 101.8,176.6 103.2,178.1 104.2,179.2 104.7,179.7 106.2,181.3 107.7,182.8 109.2,184.4 110.7,185.9 111.7,187 112.2,187.5 113.7,189.1 113.9,189.3 115.2,190.6 116.7,192.1 118.2,193.7 119.2,194.7 119.7,195.2 121.2,196.7 122.7,198.2 124.2,199.7 125.7,201.3 126.7,202.3 127.2,202.8 128.7,204.3 130.2,205.9 131.7,207.5 133.2,209.1 134.1,210.1 134.7,210.7 134.9,210.9 136.2,212.3 137.7,213.9 139.2,215.6 140.7,217.2 142.2,218.9 143.7,220.6 143.8,220.7 145.2,222.2 146.6,223.9 148.1,225.7 149.6,227.4 151.1,229.2 152.6,231 153.5,232.1 154.1,232.8 155.6,234.7 155.9,235 157.1,236.6 158.6,238.5 160.1,240.4 161.6,242.3 163.1,244.3 163.2,244.4 164.6,246.3 166.1,248.4 167.6,250.5 169.1,252.6 170.6,254.9 172.1,257.1 172.7,258.1 172.9,258.5 173.6,259.5 175.1,261.9 176.6,264.4 178.1,267 179.6,269.8 180.7,272.1 181.1,272.8 181.1,272.8 182.6,276.1 184.1,279.7 185.6,283.8 185.6,283.8 186.3,286.1 187.1,288.8 188.5,295.1 188.6,295.3 188.8,296.5 190.1,303.8 190.2,304.4 191.5,304.4 193,304.4 194.5,304.4 196,304.4 197.5,304.4 199,304.4 200.5,304.4 202,304.4 203.5,304.4 205,304.4 206.5,304.4 208,304.4 209.5,304.4 211,304.4 212.5,304.4 214,304.4 215.5,304.4 217,304.4 218.5,304.4 220,304.4 221.5,304.4 223,304.4 224.5,304.4 226,304.4 227.5,304.4 229,304.4 230.5,304.4 232,304.4 233.5,304.4 234.9,304.4 236.4,304.4 237.9,304.4 239.4,304.4 240.9,304.4 242.4,304.4 243.9,304.4 245.4,304.4 246.9,304.4 248.4,304.4 249.9,304.4 251.4,304.4 252.9,304.4 254.4,304.4 255.9,304.4 257.4,304.4 258.9,304.4 260.4,304.4 261.9,304.4 263.4,304.4 264.9,304.4 266.4,304.4 267.9,304.4 269.4,304.4 270.9,304.4 272.4,304.4 273.9,304.4 275.4,304.4 276.9,304.4 278.3,304.4 279.8,304.4 281.3,304.4 282.8,304.4 284.3,304.4 285.8,304.4 287.3,304.4 288.8,304.4 289.3,304.4"/>
<polyline fill="none" stroke="none" marker-start="url(#cb)" marker-mid="url(#cb)" marker-end="url(#cb)" points="37.4,304.4 37.4,301.4 37.4,298.4 37.5,295.4 37.5,292.5 37.5,289.5 37.5,286.5 37.6,283.5 37.6,280.5 37.6,277.5 37.6,274.5 37.7,271.6 37.7,268.6 37.7,265.6 37.7,262.6 37.8,259.6 37.8,256.6 37.8,253.6 37.8,250.6 37.9,247.7 37.9,244.7 37.9,241.7 37.9,238.7 37.9,235.7 38,232.7 38,229.7 38,226.8 38,223.8 38.1,220.8 38.1,217.8 38.1,214.8 38.1,211.8 38.2,208.8 38.2,205.9 38.2,202.9 38.2,199.9 38.3,196.9 38.3,193.9 38.3,190.9 38.3,187.9 38.4,185 38.4,182 38.4,179 38.4,176 38.4,173 38.5,170 38.5,167 38.5,164.1 38.5,161.1 38.6,158.1 38.6,155.1 38.6,152.1 38.6,149.1 38.7,146.1 38.7,143.1 38.7,140.2 38.7,137.2 38.8,134.2 38.8,131.2 38.8,128.2 38.8,125.2 38.9,122.2 38.9,119.3 38.9,116.3 38.9,113.3 38.9,110.3 39.3,110.7 39.6,111 40,111.4 40.3,111.8 40.7,112.2 41,112.5 41.4,112.9 41.7,113.3 42.1,113.6 42.4,114 42.8,114.4 43.1,114.7 43.5,115.1 43.8,115.5 44.2,115.9 44.5,116.2 44.9,116.6 45.2,117 45.6,117.3 45.9,117.7 46.3,118.1 46.6,118.5 47,118.8 47.3,119.2 47.7,119.6 48,119.9 48.4,120.3 48.7,120.7 49.1,121 49.4,121.4 49.8,121.8 50.1,122.2 50.5,122.5 50.8,122.9 51.2,123.3 51.5,123.6 51.9,124 52.2,124.4 53.5,125.7 54.7,127 56,128.3 57.2,129.7 58.5,131 59.7,132.3 60.9,133.6 62.2,134.9 63.4,136.2 64.7,137.6 65.9,138.9 67.2,140.2 68.4,141.5 69.7,142.8 70.9,144.1 72.2,145.5 73.4,146.8 74.7,148.1 75.9,149.4 77.2,150.7 78.4,152 79.7,153.4 80.9,154.7 82.1,156 83.4,157.3 84.6,158.6 85.9,159.9 87.1,161.2 88.4,162.5 89.6,163.8 90.9,165.2 92.1,166.5 93.4,167.8 94.6,169.1 95.9,170.4 97.1,171.7 98.9,173.5 100.6,175.4 102.4,177.2 104.1,179 105.8,180.8 107.6,182.7 109.3,184.5 111.1,186.3 112.8,188.1 114.6,189.9 116.3,191.7 118.1,193.5 119.8,195.3 121.6,197.1 123.3,198.8 125,200.6 126.8,202.4 128.5,204.2 130.3,206 132,207.8 133.8,209.7 135.5,211.6 137.5,213.7 139.7,216.1 141.9,218.5 144.1,221 146.3,223.5 148.4,226 150.6,228.6 152.8,231.2 155,233.9 157.2,236.7 159.4,239.5 161.6,242.3 163.8,245.2 166,248.2 168.2,251.3 170.4,254.6 172.6,257.9 174.8,261.4 177,265.1 179.2,269 181.4,273.5 183.6,278.4 185.8,284.4 188,292.5 190.2,304.4 192.3,304.4 194.5,304.4 196.7,304.4 198.9,304.4 201.1,304.4 203.3,304.4 205.5,304.4 207.7,304.4 209.9,304.4 212.1,304.4 214.3,304.4 216.5,304.4 218.7,304.4 220.9,304.4 223.1,304.4 225.3,304.4 227.5,304.4 229.7,304.4 231.9,304.4 234,304.4 236.2,304.4 238.4,304.4 240.6,304.4 242.8,304.4 245,304.4 247.2,304.4 249.4,304.4 251.6,304.4 253.8,304.4 256,304.4 258.2,304.4 260.4,304.4 262.6,304.4 264.8,304.4 267,304.4 269.2,304.4 271.4,304.4 273.6,304.4 275.8,304.4 277.9,304.4 280.1,304.4 282.3,304.4 284.5,304.4 286.7,304.4 288.9,304.4"/>
<polyline fill="none" stroke="#ff0000" stroke-width="1" stroke-linejoin="round" points="37.4,304.4 37.4,301.4 37.4,298.5 37.4,295.5 37.5,292.5 37.5,289.5 37.5,286.6 37.5,283.6 37.5,280.6 37.5,277.6 37.6,274.7 37.6,271.7 37.6,268.7 37.6,265.7 37.6,262.8 37.6,259.8 37.7,256.8 37.7,253.8 37.7,250.9 37.7,247.9 37.7,244.9 37.7,242 37.7,239 37.8,236 37.8,233 37.8,230.1 37.8,227.1 37.8,224.1 37.8,221.1 37.9,218.2 37.9,215.2 37.9,212.2 37.9,209.2 37.9,206.3 37.9,203.3 38,200.3 38,197.3 38,194.4 38,191.4 38,188.4 38,185.5 38,182.5 38.1,179.5 38.1,176.5 38.1,173.6 38.1,170.6 38.1,167.6 38.1,164.6 38.2,161.7 38.2,158.7 38.2,155.7 38.2,152.7 38.2,149.8 38.2,146.8 38.3,143.8 38.3,140.8 38.3,137.9 38.3,134.9 38.3,131.9 38.3,129 38.3,126 38.4,123 38.4,120 38.4,117.1 38.4,114.1 38.4,111.1 38.4,108.1 38.5,105.2 38.5,102.2 38.5,99.2 38.5,96.2 38.5,93.3 38.5,90.3 38.6,87.3 38.6,84.3 38.6,81.4 38.6,78.4 38.6,75.4 38.6,72.5 38.6,69.5 38.7,66.5 38.7,63.5 38.7,60.6 38.7,57.6 38.7,54.6 38.7,51.6 38.8,48.7 38.8,45.7 39,45.9 39.2,46 39.4,46.2 39.6,46.4 39.8,46.6 40,46.7 40.2,46.9 40.4,47.1 40.6,47.3 40.8,47.4 41,47.6 41.2,47.8 41.4,48 41.6,48.1 41.8,48.3 42,48.5 42.2,48.7 42.4,48.8 42.6,49 42.8,49.2 43,49.4 43.2,49.5 43.4,49.7 43.6,49.9 43.8,50.1 44,50.2 44.2,50.4 44.4,50.6 44.6,50.8 44.8,50.9 45,51.1 45.2,51.3 45.4,51.5 45.6,51.6 45.8,51.8 46,52 46.2,52.2 46.4,52.3 46.6,52.5 46.8,52.7 47,52.9 47.2,53 47.4,53.2 47.6,53.4 47.8,53.6 48,53.8 48.2,53.9 48.3,54.1 48.5,54.3 48.7,54.5 48.9,54.6 49.1,54.8 49.3,55 49.5,55.2 49.7,55.3 49.9,55.5 50.1,55.7 50.3,55.9 50.5,56 50.7,56.2 50.9,56.4 51.1,56.6 51.3,56.8 51.5,56.9 51.7,57.1 51.9,57.3 52.1,57.5 52.3,57.6 52.4,57.7 53.9,59 55.4,60.3 56.9,61.6 58.4,63 59.3,63.9 59.8,64.3 61.3,65.7 62.3,66.5 62.8,67 64.3,68.3 65.8,69.7 67.3,71 68.8,72.4 70.3,73.8 71.8,75.1 73.3,76.5 74.8,77.8 75.7,78.7 76.3,79.2 77.8,80.6 79.3,81.9 80.8,83.3 82.3,84.6 83.8,86 85.3,87.4 86.8,88.7 87.3,89.2 88.3,90.1 89.8,91.4 91.3,92.8 92.7,94.1 92.8,94.2 94.3,95.5 95.8,96.9 97.3,98.2 98.8,99.6 100.3,101 101.8,102.3 103.2,103.7 104.7,105 106.2,106.4 107.7,107.7 109.2,109 110.7,110.3 111.5,111 112.1,111.5 112.2,111.6 113.7,112.9 115.2,114.2 116.7,115.5 118.2,116.8 119.7,118.1 121.2,119.4 122.7,120.7 124.2,122 125.7,123.2 127.2,124.5 128.7,125.7 129.1,126.1 130.2,127 131.7,128.2 133.2,129.4 134.7,130.7 136.2,131.9 137.2,132.6 137.7,133 139.2,134.2 140.7,135.4 142.2,136.6 143.7,137.7 145.2,138.8 146.6,140 148.1,141.1 149.6,142.2 151.1,143.3 152.6,144.5 153.4,145 154.1,145.6 155.6,146.6 157.1,147.7 158.6,148.8 160.1,149.9 161.6,151 162.1,151.3 163.1,152.1 164.6,153.1 166.1,154.2 167.6,155.2 169.1,156.3 170.6,157.3 172.1,158.4 173.6,159.4 175.1,160.4 176.6,161.5 177.7,162.2 178.1,162.5 179.6,163.5 181.1,164.5 182.6,165.5 184.1,166.5 185.6,167.5 187.1,168.5 187.1,168.5 188.6,169.5 190.1,170.5 191.5,171.5 193,172.5 194.5,173.5 196,174.5 197.5,175.5 199,176.4 200,177.1 200.5,177.4 201.9,178.3 202,178.4 203.5,179.3 205,180.3 206.5,181.3 208,182.2 209.5,183.2 211,184.1 211.6,184.5 212.5,185.1 214,186.1 215.5,187 217,188 218.5,188.9 220,189.9 221.5,190.9 223,191.8 224.5,192.8 224.5,192.8 226,193.8 227.5,194.7 229,195.7 230.5,196.7 232,197.6 233.1,198.3 233.5,198.6 234.9,199.6 236.4,200.5 237.9,201.5 239.4,202.5 240.9,203.5 242.4,204.5 243.9,205.4 245.4,206.4 246.9,207.5 248.4,208.5 248.7,208.6 249.9,209.5 251.4,210.5 252.9,211.5 254.4,212.6 255.9,213.6 256.1,213.7 257.4,214.6 258.9,215.7 260.4,216.7 261.9,217.8 263.4,218.9 264.9,219.9 266.4,221 267.9,222.1 269.4,223.2 270.9,224.3 272.4,225.4 273,225.8 273.9,226.5 273.9,226.5 275.4,227.6 276.9,228.8 278.3,229.9 279.8,231.1 281.3,232.2 282.8,233.4 282.8,233.4 284.3,234.6 285.8,235.8 287.3,237 288.8,238.2 290.3,239.4 291.8,240.6 292,240.7 292,240.8 293.3,241.8 294.8,243.1 296.3,244.3 297.8,245.5 299.3,246.8 300.8,248 301.5,248.6 302.3,249.3 303.8,250.5 305.3,251.8 306.8,253.1 308.3,254.4 309.8,255.8 311.3,257.1 311.3,257.1 312,257.8 312.8,258.5 314.3,259.9 315.8,261.4 317.3,262.8 318.8,264.3 320.3,265.8 321.7,267.3 322,267.6 322.4,268 323.2,268.8 324.7,270.3 326.2,271.7 327.7,273.2 329.2,274.7 330.7,276.4 332.2,278.2 332.9,279.1 333.1,279.3 333.7,280.3 335.2,282.6 336.7,285.2 338.2,288.1 338.7,289.1 339.2,290.2 339.7,291.3 341.2,295.1 342,297.5 342.2,298.3 342.7,300.3 343.5,304.4 343.9,304.4"/>
<polyline fill="none" stroke="none" marker-start="url(#sr)" marker-mid="url(#sr)" marker-end="url(#sr)" points="37.4,304.4 37.4,301.4 37.4,298.5 37.4,295.5 37.5,292.5 37.5,289.5 37.5,286.6 37.5,283.6 37.5,280.6 37.5,277.6 37.6,274.7 37.6,271.7 37.6,268.7 37.6,265.7 37.6,262.8 37.6,259.8 37.7,256.8 37.7,253.8 37.7,250.9 37.7,247.9 37.7,244.9 37.7,242 37.7,239 37.8,236 37.8,233 37.8,230.1 37.8,227.1 37.8,224.1 37.8,221.1 37.9,218.2 37.9,215.2 37.9,212.2 37.9,209.2 37.9,206.3 37.9,203.3 38,200.3 38,197.3 38,194.4 38,191.4 38,188.4 38,185.5 38,182.5 38.1,179.5 38.1,176.5 38.1,173.6 38.1,170.6 38.1,167.6 38.1,164.6 38.2,161.7 38.2,158.7 38.2,155.7 38.2,152.7 38.2,149.8 38.2,146.8 38.3,143.8 38.3,140.8 38.3,137.9 38.3,134.9 38.3,131.9 38.3,129 38.3,126 38.4,123 38.4,120 38.4,117.1 38.4,114.1 38.4,111.1 38.4,108.1 38.5,105.2 38.5,102.2 38.5,99.2 38.5,96.2 38.5,93.3 38.5,90.3 38.6,87.3 38.6,84.3 38.6,81.4 38.6,78.4 38.6,75.4 38.6,72.5 38.6,69.5 38.7,66.5 38.7,63.5 38.7,60.6 38.7,57.6 38.7,54.6 38.7,51.6 38.8,48.7 38.8,45.7 38.9,45.8 39.1,46 39.3,46.1 39.5,46.3 39.6,46.5 39.8,46.6 40,46.8 40.2,46.9 40.3,47.1 40.5,47.2 40.7,47.4 40.9,47.5 41,47.7 41.2,47.8 41.4,48 41.6,48.1 41.7,48.3 41.9,48.4 42.1,48.6 42.3,48.7 42.6,49.1 43,49.4 43.3,49.7 43.7,50 44,50.3 44.4,50.6 44.7,50.9 45.1,51.2 45.4,51.5 45.8,51.8 46.1,52.1 46.5,52.4 46.8,52.7 47.2,53 47.5,53.4 47.9,53.7 48.2,54 48.5,54.3 48.9,54.6 49.2,54.9 49.6,55.2 49.9,55.5 50.3,55.8 50.6,56.1 51,56.4 51.3,56.8 51.7,57.1 52,57.4 53.8,58.9 55.5,60.5 57.3,62 59,63.6 60.8,65.1 62.5,66.7 64.3,68.3 66,69.8 67.8,71.4 69.5,73 71.2,74.6 73,76.2 74.7,77.8 76.5,79.4 78.2,80.9 80,82.5 81.7,84.1 83.5,85.7 85.2,87.3 87,88.9 88.7,90.5 90.5,92 92.2,93.6 96.7,97.7 101.2,101.8 105.7,105.8 110.2,109.8 114.6,113.7 119.1,117.6 123.6,121.5 128.1,125.3 132.6,129 137.1,132.6 141.6,136.1 146.1,139.5 150.6,142.9 155.1,146.2 159.5,149.5 164,152.7 168.5,155.9 173,159 177.5,162.1 182,165.1 186.5,168.2 191,171.2 195.5,174.1 200,177 204.4,179.9 215.4,187 226.1,193.9 236.8,200.8 247.5,207.8 258.1,215.2 268.8,222.8 279.5,230.8 290.2,239.3 300.8,248 311.5,257.4 322.2,267.8 332.9,279.1 343.5,304.4"/>
<polyline fill="none" stroke="#008000" stroke-width="1" stroke-linejoin="round" points="37.4,304.4 37.4,301.4 37.4,298.5 37.4,295.5 37.4,292.5 37.4,289.5 37.4,286.6 37.5,283.6 37.5,280.6 37.5,277.6 37.5,274.7 37.5,271.7 37.5,268.7 37.5,265.7 37.5,262.8 37.5,259.8 37.5,256.8 37.5,253.8 37.5,250.9 37.5,247.9 37.6,244.9 37.6,242 37.6,239 37.6,236 37.6,233 37.6,230.1 37.6,227.1 37.6,224.1 37.6,221.1 37.6,218.2 37.6,215.2 37.6,212.2 37.7,209.2 37.7,206.3 37.7,203.3 37.7,200.3 37.7,197.3 37.7,194.4 37.7,191.4 37.7,188.4 37.7,185.5 37.7,182.5 37.7,179.5 37.7,176.5 37.7,173.6 37.8,170.6 37.8,167.6 37.8,164.6 37.8,161.7 37.8,158.7 37.8,155.7 37.8,152.7 37.8,149.8 37.8,146.8 37.8,143.8 37.8,140.8 37.8,137.9 37.8,134.9 37.9,131.9 37.9,129 37.9,126 37.9,123 37.9,120 37.9,117.1 37.9,114.1 37.9,111.1 37.9,108.1 37.9,105.2 37.9,102.2 37.9,99.2 37.9,96.2 38,93.3 38,90.3 38,87.3 38,84.3 38,81.4 38,78.4 38,75.4 38,72.5 38,69.5 38,66.5 38,63.5 38,60.6 38.1,57.6 38.1,54.6 38.1,51.6 38.1,48.7 38.1,45.7 38.3,45.9 38.5,46 38.7,46.2 38.9,46.4 39.1,46.6 39.3,46.7 39.5,46.9 39.7,47.1 39.9,47.3 40.1,47.4 40.3,47.6 40.5,47.8 40.7,47.9 40.9,48.1 41.1,48.3 41.3,48.5 41.5,48.6 41.7,48.8 41.9,49 42.1,49.2 42.3,49.3 42.5,49.5 42.7,49.7 42.9,49.9 43.1,50 43.3,50.2 43.5,50.4 43.7,50.6 43.9,50.7 44.1,50.9 44.3,51.1 44.5,51.3 44.7,51.4 44.9,51.6 45.1,51.8 45.3,52 45.5,52.1 45.7,52.3 45.9,52.5 46.1,52.7 46.3,52.8 46.5,53 46.7,53.2 46.9,53.4 47.1,53.5 47.3,53.7 47.5,53.9 47.7,54.1 47.9,54.2 48.1,54.4 48.3,54.6 48.5,54.8 48.7,54.9 48.9,55.1 49.1,55.3 49.3,55.5 49.5,55.6 49.7,55.8 49.9,56 50.1,56.2 50.3,56.3 50.5,56.5 50.7,56.7 50.9,56.9 51.1,57 51.3,57.2 51.5,57.4 51.7,57.6 51.9,57.7 52.1,57.9 52.3,58.1 52.4,58.2 53.9,59.5 55.4,60.9 56.9,62.2 58.4,63.5 59.8,64.9 61.3,66.2 62.3,67.1 62.8,67.5 63.3,68 64.3,68.9 65.8,70.2 67.3,71.6 68.8,73 70.3,74.3 71.8,75.7 73.3,77.1 74.8,78.4 76.3,79.8 77.8,81.2 79.3,82.5 80.6,83.7 80.8,83.9 82.3,85.3 83.8,86.7 85.3,88 86.8,89.4 87.3,89.8 88.3,90.8 89.8,92.1 91.3,93.5 92.7,94.8 92.8,94.9 94.3,96.2 95.8,97.6 97.3,99 98.8,100.3 100.3,101.7 101.8,103 103.2,104.4 104.7,105.8 106.2,107.1 107.7,108.5 109.2,109.8 110.7,111.1 111.5,111.8 112.1,112.4 112.2,112.5 113.7,113.8 115.2,115.1 116.7,116.4 118.2,117.8 119.7,119.1 121.2,120.4 122.7,121.7 124.2,123 125.7,124.3 127.2,125.6 128.7,126.9 129.1,127.3 130.2,128.2 131.7,129.5 133.2,130.7 134.7,132 136.2,133.2 137.2,134 137.7,134.4 139.2,135.6 140.7,136.8 142.2,138 143.7,139.1 145.2,140.3 146.6,141.4 148.1,142.6 149.6,143.7 151.1,144.8 152.6,145.9 153.4,146.5 154.1,147.1 155.6,148.2 157.1,149.3 158.6,150.4 160.1,151.5 161.6,152.6 162.1,153 163.1,153.7 164.6,154.8 166.1,155.9 167.6,157 169.1,158.1 170.6,159.2 172.1,160.3 173.6,161.4 175.1,162.5 176.6,163.6 177.7,164.4 178.1,164.6 179.6,165.7 181.1,166.8 182.6,167.8 184.1,168.9 185.6,169.9 187.1,171 187.1,171 188.6,172 190.1,173 191.5,174 193,175.1 194.5,176 196,177 197.5,178 199,179 200,179.7 200.5,180 201.9,180.9 202,180.9 203.5,181.9 205,182.8 206.5,183.8 208,184.7 209.5,185.6 211,186.5 211.6,186.9 212.5,187.5 214,188.4 215.5,189.3 217,190.2 218.5,191.2 220,192.1 221.5,193 223,194 224.5,195 224.5,195 226,195.9 227.5,196.9 229,197.8 230.5,198.8 232,199.8 233.1,200.5 233.5,200.7 234.9,201.7 236.4,202.7 237.9,203.7 239.4,204.7 240.9,205.7 242.4,206.7 243.9,207.7 245.4,208.8 246.9,209.8 248.4,210.9 248.7,211.1 248.8,211.2 249.9,212 251.4,213.1 252.9,214.2 254.4,215.4 255.9,216.6 257.4,217.8 258.9,219 260.4,220.2 261.9,221.4 263.4,222.6 264.9,223.8 265.8,224.5 266.4,225 267.9,226.2 269.4,227.5 270.9,228.7 272.4,229.8 273,230.3 273.9,231 275.4,232.2 276.9,233.3 277.9,234.1 278.3,234.4 279.8,235.6 281.3,236.7 282.8,237.8 284.3,238.9 285.8,240 287.3,241.2 287.6,241.4 288.8,242.3 290.3,243.5 291.8,244.7 293.3,245.9 294.8,247.1 296.3,248.4 296.6,248.7 297.3,249.3 297.8,249.7 299.3,251 300.8,252.4 302.3,253.8 303.8,255.2 305.3,256.6 306.4,257.7 306.8,258.1 308.3,259.6 309.8,261.1 311.3,262.7 311.5,262.9 312.8,264.3 314.3,265.9 315.8,267.5 316.8,268.6 317.3,269.2 318.8,270.9 320.3,272.7 321.7,274.5 322,274.8 323.2,276.3 324.7,278.3 326.2,280.4 327.2,281.8 327.7,282.6 327.7,282.6 329.2,285 330.7,287.7 332.2,290.6 332.9,291.9 333.1,292.2 333.7,293.4 335.2,296.3 336.2,298.4 336.7,299.7 336.7,299.7 338.1,304.1 338.2,304.4 338.2,304.4 339.7,304.4 341.2,304.4 342.7,304.4 344.2,304.4 345.7,304.4 347.2,304.4 348.7,304.4 350.2,304.4 351.7,304.4 353.2,304.4 354.7,304.4 356.2,304.4 357.2,304.4"/>
<polyline fill="none" stroke="none" marker-start="url(#sg)" marker-mid="url(#sg)" marker-end="url(#sg)" points="37.4,304.4 37.4,301.4 37.4,298.5 37.4,295.5 37.4,292.5 37.4,289.5 37.4,286.6 37.5,283.6 37.5,280.6 37.5,277.6 37.5,274.7 37.5,271.7 37.5,268.7 37.5,265.7 37.5,262.8 37.5,259.8 37.5,256.8 37.5,253.8 37.5,250.9 37.5,247.9 37.6,244.9 37.6,242 37.6,239 37.6,236 37.6,233 37.6,230.1 37.6,227.1 37.6,224.1 37.6,221.1 37.6,218.2 37.6,215.2 37.6,212.2 37.7,209.2 37.7,206.3 37.7,203.3 37.7,200.3 37.7,197.3 37.7,194.4 37.7,191.4 37.7,188.4 37.7,185.5 37.7,182.5 37.7,179.5 37.7,176.5 37.7,173.6 37.8,170.6 37.8,167.6 37.8,164.6 37.8,161.7 37.8,158.7 37.8,155.7 37.8,152.7 37.8,149.8 37.8,146.8 37.8,143.8 37.8,140.8 37.8,137.9 37.8,134.9 37.9,131.9 37.9,129 37.9,126 37.9,123 37.9,120 37.9,117.1 37.9,114.1 37.9,111.1 37.9,108.1 37.9,105.2 37.9,102.2 37.9,99.2 37.9,96.2 38,93.3 38,90.3 38,87.3 38,84.3 38,81.4 38,78.4 38,75.4 38,72.5 38,69.5 38,66.5 38,63.5 38,60.6 38.1,57.6 38.1,54.6 38.1,51.6 38.1,48.7 38.1,45.7 38.2,45.8 38.3,45.8 38.3,45.9 38.4,46 38.5,46.1 38.6,46.1 38.7,46.2 38.8,46.3 38.9,46.4 39,46.4 39,46.5 39.1,46.6 39.2,46.7 39.3,46.8 39.4,46.8 39.5,46.9 39.6,47 39.7,47.1 39.7,47.1 39.8,47.2 39.9,47.3 40,47.4 40.1,47.4 40.2,47.5 40.3,47.6 40.4,47.7 40.4,47.7 40.5,47.8 40.6,47.9 40.7,48 40.8,48 40.9,48.1 41.2,48.4 41.6,48.7 41.9,49 42.3,49.3 42.6,49.6 43,49.9 43.3,50.3 43.7,50.6 44,50.9 44.4,51.2 44.7,51.5 45.1,51.8 45.4,52.1 45.8,52.4 46.1,52.7 46.5,53 46.8,53.3 47.2,53.6 47.5,53.9 47.9,54.2 48.2,54.5 48.6,54.8 48.9,55.2 49.3,55.5 49.6,55.8 50,56.1 50.3,56.4 50.7,56.7 51,57 51.4,57.3 51.7,57.6 52.1,57.9 53.5,59.3 55,60.6 56.5,61.9 58,63.2 59.5,64.6 61,65.9 62.5,67.3 64,68.6 65.5,70 67,71.3 68.5,72.7 70,74 71.5,75.4 73,76.8 74.5,78.1 76,79.5 77.5,80.9 79,82.3 80.5,83.6 82,85 83.5,86.4 85,87.7 86.5,89.1 88,90.5 89.5,91.8 91,93.2 93.8,95.8 96.5,98.3 99.3,100.9 102.1,103.4 104.9,105.9 107.7,108.4 110.5,110.9 113.3,113.4 116.1,115.9 118.9,118.4 121.7,120.8 124.5,123.3 127.3,125.7 130.1,128.1 132.9,130.5 135.7,132.8 138.5,135 141.2,137.3 144,139.4 146.8,141.6 149.6,143.7 152.4,145.8 155.2,147.9 158,149.9 160.8,152 163.6,154.1 166.4,156.1 169.2,158.2 172,160.2 174.8,162.3 177.6,164.3 180.4,166.3 183.2,168.3 185.9,170.2 188.7,172.1 191.5,174 194.3,175.9 197.1,177.8 199.9,179.6 202.7,181.4 205.5,183.1 210,185.9 215.3,189.2 220.7,192.5 226,196 231.4,199.4 236.7,202.9 242,206.4 247.4,210.1 252.7,214.1 258,218.3 263.4,222.6 268.7,226.9 274.1,231.2 279.4,235.2 284.7,239.2 290.1,243.3 295.4,247.6 300.7,252.4 306.1,257.4 311.4,262.8 316.8,268.6 322.1,274.9 327.4,282.1 332.8,291.6 338.1,304.1 343.4,304.4 348.8,304.4 354.1,304.4"/>
<polyline fill="none" stroke="#0000ff" stroke-width="1" stroke-linejoin="round" points="37.4,304.4 37.4,301.4 37.5,298.5 37.5,295.5 37.5,292.5 37.6,289.5 37.6,286.6 37.6,283.6 37.7,280.6 37.7,277.6 37.7,274.7 37.7,271.7 37.8,268.7 37.8,265.7 37.8,262.8 37.9,259.8 37.9,256.8 37.9,253.8 38,250.9 38,247.9 38,244.9 38.1,242 38.1,239 38.1,236 38.2,233 38.2,230.1 38.2,227.1 38.3,224.1 38.3,221.1 38.3,218.2 38.3,215.2 38.4,212.2 38.4,209.2 38.4,206.3 38.5,203.3 38.5,200.3 38.5,197.3 38.6,194.4 38.6,191.4 38.6,188.4 38.7,185.5 38.7,182.5 38.7,179.5 38.8,176.5 38.8,173.6 38.8,170.6 38.9,167.6 38.9,164.6 38.9,161.7 38.9,158.7 39,155.7 39,152.7 39,149.8 39.1,146.8 39.1,143.8 39.1,140.8 39.2,137.9 39.2,134.9 39.2,131.9 39.3,129 39.3,126 39.3,123 39.4,120 39.4,117.1 39.4,114.1 39.4,111.1 39.5,108.1 39.5,105.2 39.5,102.2 39.6,99.2 39.6,96.2 39.6,93.3 39.7,90.3 39.7,87.3 39.7,84.3 39.8,81.4 39.8,78.4 39.8,75.4 39.9,72.5 39.9,69.5 39.9,66.5 40,63.5 40,60.6 40,57.6 40,54.6 40.1,51.6 40.1,48.7 40.1,45.7 40.3,45.9 40.5,46.1 40.7,46.2 40.9,46.4 41.1,46.6 41.3,46.8 41.5,47 41.7,47.1 41.9,47.3 42.1,47.5 42.3,47.7 42.5,47.9 42.7,48 42.9,48.2 43.1,48.4 43.3,48.6 43.5,48.8 43.7,48.9 43.9,49.1 44.1,49.3 44.3,49.5 44.5,49.7 44.7,49.8 44.9,50 45.1,50.2 45.3,50.4 45.5,50.6 45.7,50.7 45.9,50.9 46.1,51.1 46.3,51.3 46.5,51.5 46.7,51.6 46.9,51.8 47.1,52 47.3,52.2 47.5,52.4 47.7,52.5 47.9,52.7 48.1,52.9 48.3,53.1 48.5,53.3 48.7,53.4 48.9,53.6 49.1,53.8 49.3,54 49.5,54.2 49.7,54.3 49.9,54.5 50.1,54.7 50.3,54.9 50.5,55.1 50.7,55.2 50.9,55.4 51.1,55.6 51.3,55.8 51.5,56 51.7,56.1 51.9,56.3 52.1,56.5 52.3,56.7 52.4,56.7 53.3,57.5 53.9,58.1 55.4,59.4 56.9,60.8 58.4,62.1 59.8,63.5 61.3,64.8 62.3,65.7 62.8,66.2 64.3,67.5 65.8,68.9 67.3,70.2 68.8,71.6 69.6,72.3 70.3,72.9 71.8,74.3 73.3,75.6 74.8,77 76.3,78.3 77.8,79.7 79.3,81 80.8,82.4 82.3,83.7 83.8,85.1 85.3,86.4 86.8,87.8 87.3,88.2 88.3,89.1 89.8,90.5 91.3,91.8 92.7,93.1 92.8,93.2 94.3,94.6 95.8,95.9 97.3,97.3 98.8,98.7 100.3,100 101.8,101.4 103.2,102.7 104.7,104.1 106.2,105.4 107.7,106.8 109.2,108.1 110.7,109.4 111.5,110 112.1,110.6 112.2,110.7 113.7,112 115.2,113.3 116.7,114.6 118.2,115.8 119.7,117.1 121.2,118.4 122.7,119.7 124.2,120.9 125.7,122.2 127.2,123.4 128.7,124.7 129.1,125 130.2,125.9 131.7,127.1 133.2,128.3 134.7,129.5 136.2,130.7 137.2,131.4 137.7,131.8 139.2,133 140.7,134.1 142.2,135.2 143.7,136.3 145.2,137.4 146.6,138.5 148.1,139.6 149.6,140.6 151.1,141.7 152.6,142.7 153.4,143.3 154.1,143.8 155.6,144.8 157.1,145.9 158.6,146.9 160.1,147.9 161.6,149 162.1,149.3 163.1,150 164.6,151 166.1,152 167.6,153.1 169.1,154.1 170.6,155.1 172.1,156.1 173.6,157.1 175.1,158.1 176.6,159.1 177.7,159.8 178.1,160 179.6,161 181.1,162 182.6,163 184.1,163.9 185.6,164.9 187.1,165.8 187.1,165.8 188.6,166.8 190.1,167.7 191.5,168.7 193,169.6 194.5,170.5 196,171.4 197.5,172.3 199,173.2 200,173.8 200.5,174.1 201.9,174.9 202,175 203.5,175.9 205,176.7 206.5,177.6 208,178.4 209.5,179.3 211,180.1 212.5,180.9 214,181.8 215.5,182.6 216.5,183.1 217,183.4 218.5,184.3 220,185.1 221.5,185.9 223,186.8 224.5,187.6 224.5,187.6 226,188.5 227.5,189.4 229,190.2 230.5,191.1 231.6,191.7 232,191.9 233.5,192.8 234.9,193.6 236.4,194.5 237.9,195.4 239.4,196.2 240.9,197.1 242.4,198 243.9,198.9 245.2,199.6 245.4,199.8 246.9,200.7 248.4,201.6 248.7,201.7 249.9,202.5 251.4,203.4 252.9,204.4 254.4,205.3 255.9,206.2 257.4,207.2 258.9,208.2 260.4,209.1 261.9,210.1 263.4,211.1 264.9,212.1 266.4,213 267.9,214 269.4,215 269.5,215.1 270.9,216 272.4,217 273,217.4 273.9,218 275.4,219.1 276.9,220.1 278.3,221.1 279.8,222.2 281.3,223.2 282.8,224.3 284.3,225.3 285.8,226.4 286.4,226.8 287.3,227.5 288.8,228.5 290.3,229.6 291.8,230.7 293.3,231.8 294.8,232.8 296.3,233.9 297.3,234.6 297.8,235 299.3,236.1 300.8,237.1 301,237.3 302.3,238.2 303.8,239.3 305.3,240.3 306.8,241.4 308.3,242.5 309.8,243.6 311.3,244.7 312.8,245.8 314.3,246.9 315.8,248 316.8,248.8 317.3,249.1 318.8,250.3 320.3,251.5 321.7,252.7 321.7,252.7 323.2,253.9 324.7,255.1 326.2,256.3 327.7,257.6 327.7,257.6 329.2,258.9 330.7,260.2 332.2,261.5 333.7,262.8 335.2,264.2 336.7,265.6 338.2,267.1 338.4,267.2 338.7,267.6 339.7,268.5 341.2,270.1 342.7,271.6 344,273 344.2,273.2 345.7,274.8 347.2,276.6 348.7,278.4 349.9,279.9 350.1,280.2 350.2,280.3 351.7,282.3 353.2,284.5 354.7,286.9 356,289.2 356.2,289.6 357.7,292.7 359.2,296.3 359.7,297.6 359.9,298.3 360.7,300.7 361.7,304.4 361.9,304.4 362.2,304.4 363.7,304.4 365.1,304.4 366.6,304.4 368.1,304.4 369.6,304.4 371.1,304.4 372.6,304.4 374.1,304.4 375.6,304.4 377.1,304.4 378.6,304.4 380.1,304.4 381.6,304.4 383.1,304.4"/>
<polyline fill="none" stroke="none" marker-start="url(#sb)" marker-mid="url(#sb)" marker-end="url(#sb)" points="37.4,304.4 37.4,301.4 37.5,298.5 37.5,295.5 37.5,292.5 37.6,289.5 37.6,286.6 37.6,283.6 37.7,280.6 37.7,277.6 37.7,274.7 37.7,271.7 37.8,268.7 37.8,265.7 37.8,262.8 37.9,259.8 37.9,256.8 37.9,253.8 38,250.9 38,247.9 38,244.9 38.1,242 38.1,239 38.1,236 38.2,233 38.2,230.1 38.2,227.1 38.3,224.1 38.3,221.1 38.3,218.2 38.3,215.2 38.4,212.2 38.4,209.2 38.4,206.3 38.5,203.3 38.5,200.3 38.5,197.3 38.6,194.4 38.6,191.4 38.6,188.4 38.7,185.5 38.7,182.5 38.7,179.5 38.8,176.5 38.8,173.6 38.8,170.6 38.9,167.6 38.9,164.6 38.9,161.7 38.9,158.7 39,155.7 39,152.7 39,149.8 39.1,146.8 39.1,143.8 39.1,140.8 39.2,137.9 39.2,134.9 39.2,131.9 39.3,129 39.3,126 39.3,123 39.4,120 39.4,117.1 39.4,114.1 39.4,111.1 39.5,108.1 39.5,105.2 39.5,102.2 39.6,99.2 39.6,96.2 39.6,93.3 39.7,90.3 39.7,87.3 39.7,84.3 39.8,81.4 39.8,78.4 39.8,75.4 39.9,72.5 39.9,69.5 39.9,66.5 40,63.5 40,60.6 40,57.6 40,54.6 40.1,51.6 40.1,48.7 40.1,45.7 40.5,46 40.8,46.3 41.2,46.6 41.5,47 41.9,47.3 42.2,47.6 42.6,47.9 42.9,48.2 43.3,48.5 43.6,48.8 44,49.2 44.3,49.5 44.7,49.8 45,50.1 45.4,50.4 45.7,50.7 46.1,51.1 46.4,51.4 46.8,51.7 47.1,52 47.5,52.3 47.8,52.6 48.2,52.9 48.5,53.3 48.9,53.6 49.2,53.9 49.6,54.2 49.9,54.5 50.3,54.8 50.6,55.2 51,55.5 51.3,55.8 51.7,56.1 52,56.4 52.4,56.7 53.9,58.1 55.4,59.4 56.9,60.8 58.4,62.1 59.8,63.5 61.3,64.8 62.8,66.2 64.3,67.5 65.8,68.9 67.3,70.2 68.8,71.6 70.3,72.9 71.8,74.3 73.3,75.6 74.8,77 76.3,78.3 77.8,79.7 79.3,81 80.8,82.4 82.3,83.7 83.8,85.1 85.3,86.4 86.8,87.8 88.3,89.1 89.8,90.5 91.3,91.8 94.6,94.8 97.9,97.8 101.2,100.8 104.4,103.8 107.7,106.8 111,109.6 114.3,112.5 117.6,115.3 120.9,118.1 124.2,120.9 127.5,123.7 130.8,126.4 134.1,129 137.4,131.6 140.7,134.1 144,136.5 147.2,138.9 150.5,141.3 153.8,143.6 157.1,145.9 160.4,148.1 163.7,150.4 167,152.7 170.3,154.9 173.6,157.1 176.9,159.3 180.2,161.4 183.5,163.5 186.8,165.6 190.1,167.7 193.3,169.8 196.6,171.8 199.9,173.8 203.2,175.7 206.5,177.6 212.2,180.8 218.2,184.1 224.2,187.5 230.2,190.9 236.1,194.3 242.1,197.8 248.1,201.4 254.1,205.1 260.1,208.9 266.1,212.8 272.1,216.8 278,220.9 284,225.1 290,229.4 296,233.7 302,238 308,242.3 314,246.6 320,251.2 325.9,256.1 331.9,261.2 337.9,266.8 343.9,272.9 349.9,279.9 355.9,289 361.9,304.4 367.8,304.4 373.8,304.4 379.8,304.4"/>
<polyline fill="none" stroke="#0000ff" stroke-width="1" stroke-dasharray="3.7,1.6" points="463.3,264.4 545.4,19" clip-path="url(#clipb)"/>
<polyline fill="none" stroke="#ff0000" stroke-width="1" stroke-dasharray="3.7,1.6" points="462,286.8 551.5,19" clip-path="url(#clipb)"/>
<polyline fill="none" stroke="#008000" stroke-width="1" stroke-dasharray="3.7,1.6" points="461.3,298.2 554.6,19" clip-path="url(#clipb)"/>
<polyline fill="none" stroke="#ff0000" stroke-width="1" stroke-linejoin="round" points="460.6,304.3 460.8,301.8 460.9,299.3 461.1,299 461.3,298.7 461.5,298.3 461.7,298 461.9,297.7 462.1,297.4 462.3,297.1 462.5,296.8 462.7,296.5 462.9,296.2 463.1,295.9 463.3,295.6 463.5,295.4 463.7,295.1 463.9,294.8 464.1,294.5 464.3,294.2 464.5,294 464.7,293.7 464.9,293.4 465.1,293.1 465.3,292.9 465.5,292.6 465.7,292.4 465.9,292.1 466,291.9 466.1,291.8 466.3,291.6 466.5,291.3 466.7,291.1 466.9,290.8 467.1,290.6 467.3,290.4 467.5,290.1 467.7,289.9 467.9,289.6 468.1,289.4 468.3,289.2 468.5,288.9 468.7,288.7 468.9,288.5 469.1,288.2 469.3,288 469.5,287.8 469.7,287.6 469.9,287.3 470.1,287.1 470.3,286.9 470.5,286.7 470.7,286.5 470.9,286.3 471.1,286.1 471.3,285.9 471.5,285.7 471.7,285.5 471.9,285.4 471.9,285.4 472.1,285.2 472.3,285 472.5,284.8 472.7,284.6 472.9,284.4 473.1,284.3 473.3,284.1 473.5,283.9 473.7,283.7 473.9,283.6 474.1,283.4 474.2,283.3 474.3,283.2 474.5,283 474.7,282.9 474.9,282.7 475.1,282.5 475.3,282.4 475.5,282.2 475.6,282.1 477.1,281 478.6,280.1 479.6,279.6 480.1,279.4 481.6,278.8 483.1,278.3 484.6,277.7 484.7,277.7 486.1,277.3 487.6,276.9 489.1,276.5 490.6,276.3 492.1,276.1 493.3,276.1 493.6,276.1 495.1,276.2 495.2,276.3 496.6,276.5 498.1,276.9 499.6,277.5 501.1,278.1 502.6,278.8 504,279.4 504.1,279.5 505.6,280.4 505.7,280.5 507.1,281.6 508.6,283.1 510.1,284.8 510.8,285.8 511.6,286.8 512.6,288.4 513.1,289.4 514.6,292.5 515.6,295 515.8,295.7 516.1,296.5 517.1,300.2 517.3,301.2 517.6,302.2 517.6,302.2 518.1,304.3 519.1,304.3 520.6,304.3 522.1,304.3 523.6,304.3 525.1,304.3 526.6,304.3 528.1,304.3 529.6,304.3 531.1,304.3 532.6,304.3 534.1,304.3 535.6,304.3 537.1,304.3 538.6,304.3 540.1,304.3 541.6,304.3 543.1,304.3 544.6,304.3 546.1,304.3 547.6,304.3 549.1,304.3 550.6,304.3 552.1,304.3 553.6,304.3 555.1,304.3 556.6,304.3 558.1,304.3 559.6,304.3 560.6,304.3" clip-path="url(#clipb)"/>
<polyline fill="none" stroke="none" marker-start="url(#dr)" marker-mid="url(#dr)" marker-end="url(#dr)" points="460.6,304.3 460.8,301.8 460.9,299.3 461.1,299 461.3,298.7 461.4,298.5 461.6,298.2 461.8,297.9 462,297.7 462.1,297.4 462.3,297.1 462.5,296.9 462.7,296.6 462.8,296.3 463,296.1 463.2,295.8 463.4,295.6 463.5,295.3 463.9,294.8 464.2,294.3 464.6,293.8 464.9,293.4 465.3,292.9 465.6,292.5 466,292 466.3,291.6 466.7,291.1 467,290.7 467.4,290.3 467.7,289.8 468.1,289.4 468.4,289 468.8,288.6 469.1,288.2 469.5,287.8 469.8,287.4 470.2,287.1 470.5,286.7 470.9,286.3 471.2,286 471.6,285.7 471.9,285.3 472.3,285 472.6,284.7 473,284.4 473.3,284.1 473.7,283.8 474,283.4 474.4,283.1 474.7,282.8 475.1,282.5 475.4,282.3 476.2,281.7 476.9,281.1 477.7,280.6 478.4,280.2 479.2,279.8 479.9,279.5 480.7,279.2 481.4,278.9 482.2,278.6 482.9,278.3 483.7,278.1 484.4,277.8 485.2,277.6 485.9,277.3 486.7,277.1 487.4,276.9 488.2,276.7 488.9,276.6 489.7,276.4 490.4,276.3 491.2,276.2 491.9,276.2 492.7,276.1 493.4,276.1 494.2,276.1 494.9,276.2 495.7,276.3 496.4,276.5 497.2,276.7 497.9,276.9 498.7,277.1 499.4,277.4 500.2,277.7 500.9,278 501.7,278.4 502.4,278.7 503.2,279 503.9,279.4 504.7,279.8 505.4,280.3 506.2,280.8 506.9,281.5 507.7,282.2 508.4,282.9 509.2,283.8 509.9,284.6 510.7,285.6 511.4,286.6 512.2,287.7 512.9,289.1 513.7,290.6 514.4,292.2 515.2,294 515.9,296 516.7,298.7 517.4,301.6 518.2,304.3 518.9,304.3 519.7,304.3 520.4,304.3 521.2,304.3 521.9,304.3 522.7,304.3 523.4,304.3 524.2,304.3 524.9,304.3 525.7,304.3 526.4,304.3 527.2,304.3 527.9,304.3 528.7,304.3 529.4,304.3 530.2,304.3 530.9,304.3 531.7,304.3 532.4,304.3 533.2,304.3 533.9,304.3 534.7,304.3 535.4,304.3 536.2,304.3 536.9,304.3 537.7,304.3 538.4,304.3 539.2,304.3 539.9,304.3 540.7,304.3 541.4,304.3 542.2,304.3 542.9,304.3 543.7,304.3 544.4,304.3 545.2,304.3 545.9,304.3 546.7,304.3 547.4,304.3 548.2,304.3 548.9,304.3 549.7,304.3 550.4,304.3 551.2,304.3 551.9,304.3 552.7,304.3 553.4,304.3 554.2,304.3 554.9,304.3 555.7,304.3 556.4,304.3 557.2,304.3 557.9,304.3 558.7,304.3 559.4,304.3 560.2,304.3" clip-path="url(#clipb)"/>
<polyline fill="none" stroke="#008000" stroke-width="1" stroke-linejoin="round" points="460.6,304.3 460.7,303.1 460.8,301.8 461,301.6 461.2,301.4 461.4,301.1 461.6,300.9 461.8,300.7 462,300.5 462.2,300.2 462.4,300 462.6,299.8 462.8,299.6 463,299.3 463.2,299.1 463.4,298.9 463.6,298.6 463.8,298.4 464,298.2 464.2,298 464.4,297.7 464.6,297.5 464.8,297.3 465,297.1 465.2,296.8 465.4,296.6 465.6,296.4 465.8,296.1 466,295.9 466,295.8 466.2,295.7 466.4,295.4 466.6,295.2 466.8,295 467,294.7 467.2,294.5 467.4,294.3 467.6,294 467.8,293.8 468,293.5 468.2,293.3 468.4,293.1 468.6,292.8 468.8,292.6 469,292.3 469.2,292.1 469.4,291.9 469.6,291.6 469.8,291.4 470,291.2 470.2,290.9 470.4,290.7 470.6,290.5 470.8,290.3 471,290 471.2,289.8 471.4,289.6 471.6,289.4 471.8,289.2 471.9,289.1 472,289 472.2,288.8 472.4,288.6 472.6,288.4 472.8,288.2 473,288 473.2,287.9 473.4,287.7 473.6,287.5 473.8,287.3 474,287.1 474.2,286.9 474.2,286.8 474.4,286.7 474.6,286.5 474.8,286.3 475,286.1 475.2,285.9 475.4,285.7 475.6,285.6 475.6,285.5 477.1,284.3 478.6,283.2 479.6,282.7 480.1,282.5 481.6,281.8 483.1,281.2 484.6,280.6 484.7,280.6 486.1,280.1 487.6,279.7 489.1,279.3 490.6,279 492.1,278.9 493.3,278.8 493.6,278.8 495.1,278.9 495.2,279 496.6,279.2 498.1,279.7 499.6,280.2 501.1,280.8 502.6,281.5 503,281.7 504.1,282.3 505.6,283.5 505.7,283.7 507.1,285.1 508.6,287 509.8,288.6 510.1,289 511.1,290.5 511.6,291.4 513.1,294.5 513.8,296.2 514.6,298 514.7,298.3 515,299.1 515.3,300.3 516.1,302.8 516.1,302.8 516.6,304.3 517.6,304.3 519.1,304.3 520.6,304.3 522.1,304.3 523.6,304.3 525.1,304.3 526.6,304.3 528.1,304.3 529.6,304.3 531.1,304.3 532.6,304.3 534.1,304.3 535.6,304.3 537.1,304.3 538.6,304.3 540.1,304.3 541.6,304.3 543.1,304.3 544.6,304.3 546.1,304.3 547.6,304.3 549.1,304.3 550.6,304.3 552.1,304.3 553.6,304.3 555.1,304.3 556.6,304.3 558.1,304.3 559.6,304.3 560.6,304.3" clip-path="url(#clipb)"/>
<polyline fill="none" stroke="none" marker-start="url(#dg)" marker-mid="url(#dg)" marker-end="url(#dg)" points="460.6,304.3 460.7,303.1 460.8,301.8 460.8,301.7 460.9,301.6 461,301.5 461.1,301.4 461.2,301.3 461.3,301.2 461.4,301.1 461.5,301 461.5,300.9 461.6,300.8 461.7,300.7 461.8,300.6 461.9,300.5 462,300.4 462.1,300.3 462.2,300.2 462.2,300.1 462.3,300 462.4,299.9 462.5,299.8 462.6,299.7 462.9,299.3 463.3,298.9 463.6,298.5 464,298.1 464.3,297.7 464.7,297.3 465,297 465.4,296.6 465.7,296.2 466.1,295.8 466.4,295.3 466.8,294.9 467.1,294.5 467.5,294.1 467.8,293.7 468.2,293.3 468.5,292.8 468.9,292.4 469.2,292 469.6,291.6 469.9,291.2 470.3,290.8 470.6,290.4 471,290 471.3,289.6 471.7,289.3 472,288.9 472.4,288.6 472.7,288.3 473.1,287.9 473.4,287.6 473.8,287.2 474.1,286.9 474.5,286.6 474.8,286.2 475.2,285.9 475.5,285.6 476.3,284.9 477,284.3 477.8,283.7 478.5,283.3 479.3,282.8 480,282.5 480.8,282.2 481.5,281.9 482.3,281.5 483,281.2 483.8,280.9 484.5,280.7 485.3,280.4 486,280.1 486.8,279.9 487.5,279.7 488.3,279.5 489,279.3 489.8,279.2 490.5,279 491.3,278.9 492,278.9 492.8,278.8 493.5,278.8 494.3,278.9 495,278.9 495.8,279.1 496.5,279.2 497.3,279.4 498,279.6 498.8,279.9 499.5,280.2 500.3,280.5 501,280.8 501.8,281.1 502.5,281.5 503.3,281.8 504,282.3 504.8,282.8 505.5,283.5 506.3,284.2 507,285.1 507.8,285.9 508.5,286.9 509.3,287.9 510,288.9 510.8,290 511.5,291.3 512.3,292.8 513,294.3 513.8,296.1 514.5,297.9 515.3,300.1 516,302.6 516.8,304.3 517.5,304.3 518.3,304.3 519,304.3 519.8,304.3 520.5,304.3 521.3,304.3 522,304.3 522.8,304.3 523.5,304.3 524.3,304.3 525,304.3 525.8,304.3 526.5,304.3 527.3,304.3 528,304.3 528.8,304.3 529.5,304.3 530.3,304.3 531,304.3 531.8,304.3 532.5,304.3 533.3,304.3 534,304.3 534.8,304.3 535.5,304.3 536.3,304.3 537,304.3 537.8,304.3 538.5,304.3 539.3,304.3 540,304.3 540.8,304.3 541.5,304.3 542.3,304.3 543,304.3 543.8,304.3 544.5,304.3 545.3,304.3 546,304.3 546.8,304.3 547.5,304.3 548.3,304.3 549,304.3 549.8,304.3 550.5,304.3 551.3,304.3 552,304.3 552.8,304.3 553.5,304.3 554.3,304.3 555,304.3 555.8,304.3 556.5,304.3 557.3,304.3 558,304.3 558.8,304.3 559.5,304.3 560.3,304.3" clip-path="url(#clipb)"/>
<polyline fill="none" stroke="#0000ff" stroke-width="1" stroke-linejoin="round" points="460.6,304.3 460.9,299.3 461.2,294.3 461.4,294 461.6,293.8 461.8,293.5 462,293.3 462.2,293 462.4,292.8 462.6,292.5 462.8,292.3 463,292 463.2,291.8 463.4,291.6 463.6,291.3 463.8,291.1 464,290.8 464.2,290.6 464.4,290.4 464.6,290.1 464.8,289.9 465,289.6 465.2,289.4 465.4,289.2 465.6,288.9 465.8,288.7 466,288.5 466.2,288.2 466.4,288 466.6,287.8 466.8,287.5 467,287.3 467.2,287 467.4,286.8 467.6,286.6 467.8,286.3 468,286.1 468.2,285.8 468.4,285.6 468.6,285.4 468.8,285.1 469,284.9 469.2,284.6 469.4,284.4 469.6,284.2 469.8,284 470,283.7 470.2,283.5 470.4,283.3 470.6,283.1 470.8,282.9 471,282.7 471.2,282.5 471.4,282.3 471.6,282.1 471.8,281.9 471.9,281.9 472,281.8 472.2,281.6 472.4,281.4 472.6,281.3 472.8,281.1 473,280.9 473.2,280.7 473.4,280.6 473.6,280.4 473.8,280.2 474,280.1 474.2,279.9 474.2,279.9 474.4,279.7 474.6,279.6 474.8,279.4 475,279.2 475.2,279.1 475.4,278.9 475.6,278.8 477.1,277.8 478.6,276.9 479.6,276.5 480.1,276.4 481.6,275.9 483.1,275.4 484.6,275 484.7,275 486.1,274.7 487.6,274.4 489.1,274.1 490.6,273.9 492.1,273.8 493.3,273.8 493.6,273.8 495.1,273.9 495.2,273.9 496.6,274.1 498.1,274.5 499.6,275 501.1,275.5 502.6,276.1 504.1,276.7 504.9,277.1 505.6,277.4 505.7,277.5 507.1,278.4 508.6,279.6 510.1,281 511.6,282.7 511.8,282.9 513.1,284.6 514.2,286.5 514.6,287.2 516.1,290.4 516.6,291.7 517.6,294.5 518.3,297.4 518.8,299.7 519.1,301 519.6,304.3 520.1,304.3 520.6,304.3 522.1,304.3 523.6,304.3 525.1,304.3 526.6,304.3 528.1,304.3 529.6,304.3 531.1,304.3 532.6,304.3 534.1,304.3 535.6,304.3 537.1,304.3 538.6,304.3 540.1,304.3 541.6,304.3 543.1,304.3 544.6,304.3 546.1,304.3 547.6,304.3 549.1,304.3 550.6,304.3 552.1,304.3 553.6,304.3 555.1,304.3 556.6,304.3 558.1,304.3 559.6,304.3 560.6,304.3" clip-path="url(#clipb)"/>
<polyline fill="none" stroke="none" marker-start="url(#db)" marker-mid="url(#db)" marker-end="url(#db)" points="460.6,304.3 460.9,299.3 461.2,294.3 461.6,293.8 461.9,293.4 462.3,293 462.6,292.5 463,292.1 463.3,291.7 463.7,291.3 464,290.8 464.4,290.4 464.7,290 465.1,289.6 465.4,289.2 465.8,288.8 466.1,288.4 466.5,287.9 466.8,287.5 467.2,287.1 467.5,286.7 467.9,286.3 468.2,285.8 468.6,285.4 468.9,285 469.3,284.6 469.6,284.2 470,283.8 470.3,283.4 470.7,283.1 471,282.7 471.4,282.4 471.7,282 472.1,281.7 472.4,281.4 472.8,281.1 473.1,280.8 473.5,280.5 473.8,280.2 474.2,279.9 474.5,279.6 474.9,279.4 475.2,279.1 475.6,278.8 476.3,278.3 477.1,277.8 477.8,277.3 478.6,276.9 479.3,276.6 480.1,276.4 480.8,276.1 481.6,275.9 482.3,275.7 483.1,275.4 483.8,275.2 484.6,275 485.3,274.8 486.1,274.7 486.8,274.5 487.6,274.4 488.3,274.2 489.1,274.1 489.8,274 490.6,273.9 491.3,273.9 492.1,273.8 492.8,273.8 493.6,273.8 494.3,273.8 495.1,273.9 495.8,274 496.6,274.1 497.3,274.3 498.1,274.5 498.8,274.7 499.6,275 500.3,275.2 501.1,275.5 501.8,275.8 502.6,276.1 503.3,276.4 504.1,276.7 504.8,277.1 505.6,277.4 506.3,277.9 507.1,278.4 507.8,278.9 508.6,279.6 509.3,280.3 510.1,281 510.8,281.8 511.6,282.7 512.3,283.6 513.1,284.6 513.8,285.8 514.6,287.2 515.3,288.7 516.1,290.4 516.8,292.2 517.6,294.5 518.3,297.4 519.1,301 519.8,304.3 520.6,304.3 521.3,304.3 522.1,304.3 522.8,304.3 523.6,304.3 524.3,304.3 525.1,304.3 525.8,304.3 526.6,304.3 527.3,304.3 528.1,304.3 528.8,304.3 529.6,304.3 530.3,304.3 531.1,304.3 531.8,304.3 532.6,304.3 533.3,304.3 534.1,304.3 534.8,304.3 535.6,304.3 536.3,304.3 537.1,304.3 537.8,304.3 538.6,304.3 539.3,304.3 540.1,304.3 540.8,304.3 541.6,304.3 542.3,304.3 543.1,304.3 543.8,304.3 544.6,304.3 545.3,304.3 546.1,304.3 546.8,304.3 547.6,304.3 548.3,304.3 549.1,304.3 549.8,304.3 550.6,304.3 551.3,304.3 552.1,304.3 552.8,304.3 553.6,304.3 554.3,304.3 555.1,304.3 555.8,304.3 556.6,304.3 557.3,304.3 558.1,304.3 558.8,304.3 559.6,304.3 560.3,304.3" clip-path="url(#clipb)"/>
<polyline fill="none" stroke="#ff0000" stroke-width="1" stroke-linejoin="round" points="460.6,304.3 461,298.2 461.4,292.2 461.6,291.7 461.8,291.2 462,290.7 462.2,290.2 462.4,289.7 462.6,289.2 462.8,288.7 463,288.2 463.2,287.7 463.4,287.2 463.6,286.7 463.8,286.3 464,285.8 464.2,285.3 464.4,284.8 464.6,284.3 464.8,283.8 465,283.4 465.2,282.9 465.4,282.4 465.6,282 465.8,281.5 466,281 466.2,280.5 466.4,280.1 466.6,279.6 466.6,279.6 466.8,279.2 467,278.7 467.2,278.2 467.4,277.8 467.6,277.3 467.8,276.9 468,276.4 468.2,275.9 468.4,275.5 468.6,275 468.8,274.6 469,274.1 469.2,273.7 469.4,273.2 469.6,272.8 469.8,272.3 470,271.9 470.2,271.5 470.4,271 470.6,270.6 470.8,270.2 471,269.7 471.2,269.3 471.4,268.9 471.6,268.5 471.8,268 472,267.6 472.2,267.2 472.4,266.8 472.5,266.5 472.6,266.4 472.8,266 473,265.6 473.2,265.2 473.4,264.8 473.6,264.4 473.8,264 474,263.6 474.2,263.2 474.4,262.8 474.6,262.4 474.8,262.1 475,261.7 475.2,261.3 475.4,260.9 475.6,260.5 475.6,260.5 477.1,257.7 478.6,255.1 479.6,253.3 480.1,252.5 481.6,249.9 483.1,247.5 484.5,245.5 484.6,245.3 485.6,244 486.1,243.4 487.6,241.6 489.1,239.9 490.1,238.8 490.6,238.2 492.1,236.5 493.6,234.9 495.1,233.2 496.6,231.6 497.6,230.5 498.1,230 499.6,228.5 501.1,227 502.6,225.5 504.1,224 505.1,223.1 505.6,222.6 507.1,221.2 508.6,219.8 510.1,218.4 511.6,217.1 512.6,216.3 513.1,215.9 514.2,215.1 514.6,214.8 516.1,213.7 517.6,212.6 519.1,211.6 520.1,211 520.6,210.7 522.1,209.9 523.6,209.1 525.1,208.4 526.6,207.7 527.6,207.3 528.1,207.1 529.6,206.6 531.1,206.1 532.6,205.7 534.1,205.3 535.1,205.1 535.6,205 537.1,204.6 537.3,204.6 538.6,204.3 540.1,204.1 541.6,203.9 542.6,203.9 543.1,203.9 544.6,203.9 546.1,204 547.6,204.1 549.1,204.2 550.1,204.3 550.6,204.3 552.1,204.6 553.6,205 555.1,205.5 556.6,206.1 557.5,206.5 558.1,206.7 558.3,206.8 559.6,207.3 561.1,207.9 562.6,208.7 564.1,209.5 565.6,210.3 567.1,211.2 567.2,211.3 568.6,212.2 570.1,213.2 571.6,214.3 573.1,215.6 574.6,216.9 576.1,218.2 577,219.1 577.6,219.7 579.1,221.3 579.4,221.7 580.6,223.1 582.1,225 583.6,227.1 585.1,229.2 586.6,231.5 586.7,231.7 587.8,233.5 588.1,234 589.6,236.8 591.1,239.8 592.6,243 594.1,246.4 594.5,247.3 595.6,249.9 597.1,253.8 598.3,257.1 598.6,258 600.1,262.9 600.3,263.8 601.6,269.1 603.1,276.7 604.4,283.6 604.6,284.3 604.6,284.3 606.1,291.1 607.3,297.3 607.6,298.8 608.4,304.3 609.1,304.3 610.6,304.3" clip-path="url(#clipb)"/>
<polyline fill="none" stroke="none" marker-start="url(#cr)" marker-mid="url(#cr)" marker-end="url(#cr)" points="460.6,304.3 461,298.2 461.4,292.2 461.6,291.7 461.7,291.3 461.9,290.9 462.1,290.4 462.3,290 462.4,289.6 462.6,289.1 462.8,288.7 463,288.3 463.1,287.8 463.3,287.4 463.5,287 463.7,286.6 463.8,286.1 464,285.7 464.2,285.3 464.4,284.9 464.5,284.4 464.9,283.6 465.2,282.8 465.6,282 465.9,281.1 466.3,280.3 466.6,279.5 467,278.7 467.3,277.9 467.7,277.1 468,276.3 468.4,275.5 468.7,274.7 469.1,273.9 469.4,273.1 469.8,272.3 470.1,271.6 470.5,270.8 470.8,270 471.2,269.3 471.5,268.6 471.9,267.8 472.2,267.1 472.6,266.4 472.9,265.7 473.3,265 473.6,264.3 474,263.6 474.3,262.9 474.7,262.2 475,261.6 475.4,260.9 477.9,256.3 480.4,252 482.9,247.8 485.4,244.3 487.9,241.3 490.4,238.5 492.9,235.7 495.4,232.9 497.9,230.2 500.4,227.7 502.9,225.2 505.4,222.8 507.9,220.4 510.4,218.2 512.9,216.1 515.4,214.2 517.9,212.4 520.4,210.8 523.9,208.9 527.4,207.4 530.9,206.2 534.4,205.2 537.9,204.5 541.4,204 544.9,203.9 548.4,204.1 551.9,204.6 555.4,205.7 558.9,207 564.4,209.6 568.8,212.3 573.2,215.6 577.6,219.7 582,224.9 586.4,231.2 590.8,239.2 595.2,249 599.6,261.2 604,281.3 608.4,304.3" clip-path="url(#clipb)"/>
<polyline fill="none" stroke="#008000" stroke-width="1" stroke-linejoin="round" points="460.6,304.3 460.8,301.3 461,298.3 461.2,297.8 461.4,297.2 461.6,296.7 461.8,296.2 462,295.7 462.2,295.2 462.4,294.7 462.6,294.2 462.8,293.7 463,293.2 463.2,292.7 463.4,292.1 463.6,291.6 463.8,291.1 464,290.6 464.2,290.1 464.4,289.6 464.6,289.1 464.8,288.7 465,288.2 465.2,287.7 465.4,287.2 465.6,286.7 465.8,286.2 466,285.7 466.2,285.2 466.4,284.7 466.6,284.2 466.6,284.2 466.8,283.8 467,283.3 467.2,282.8 467.4,282.3 467.6,281.8 467.8,281.3 468,280.8 468.2,280.4 468.4,279.9 468.6,279.4 468.8,278.9 469,278.4 469.2,277.9 469.4,277.5 469.6,277 469.8,276.5 470,276 470.2,275.6 470.4,275.1 470.6,274.6 470.8,274.2 471,273.7 471.2,273.3 471.4,272.8 471.6,272.4 471.8,271.9 472,271.5 472.2,271.1 472.4,270.7 472.5,270.3 472.6,270.2 472.8,269.8 473,269.4 473.2,269 473.4,268.6 473.6,268.2 473.8,267.8 474,267.4 474.2,267 474.4,266.6 474.6,266.2 474.8,265.9 475,265.5 475.2,265.1 475.4,264.7 475.6,264.4 475.6,264.3 477.1,261.6 478.6,258.9 479.6,257.2 480.1,256.3 481.6,253.6 483.1,251.1 484.5,249.1 484.6,249 485.6,247.8 486.1,247.3 487.6,245.8 489.1,244.4 490.1,243.3 490.6,242.7 492.1,240.8 493.6,238.8 495.1,236.7 496.6,234.8 497.6,233.6 498.1,233 499.6,231.3 501.1,229.6 502.6,228.1 504.1,226.6 505.1,225.6 505.6,225.1 507.1,223.8 508.6,222.5 510.1,221.3 511.6,220.1 512.6,219.3 513.1,219 514.2,218.1 514.6,217.8 516.1,216.7 517.6,215.7 519.1,214.7 520.1,214 520.6,213.7 522.1,212.8 523.6,211.9 525.1,211.1 526.6,210.4 527.6,209.9 528.1,209.7 529.6,209.2 531.1,208.6 532.6,208.2 534.1,207.8 535.1,207.6 535.6,207.5 537.1,207.3 537.3,207.2 538.6,207 540.1,206.8 541.6,206.7 542.6,206.7 543.1,206.7 544.6,206.7 546.1,206.8 547.6,206.9 549.1,207 550.1,207.1 550.6,207.2 552.1,207.6 553.6,208.1 555.1,208.8 556.6,209.5 557.5,209.9 558.1,210.2 558.3,210.3 559.6,210.9 561.1,211.6 562.6,212.4 564.1,213.3 565.6,214.2 567.1,215.2 567.2,215.3 568.6,216.2 570.1,217.4 571.6,218.6 573.1,219.9 574.6,221.4 576.1,222.9 577,223.9 577.6,224.6 579.1,226.5 579.4,226.9 580.6,228.6 582.1,230.8 583.6,233.2 585.1,235.7 586.6,238.3 586.7,238.5 588.1,241 589.6,243.7 589.9,244.3 591.1,246.8 592.5,250.2 592.6,250.4 594.1,254.8 595.6,260 597.1,265.8 597.8,268.7 598.3,270.8 598.6,272.1 600.1,278.9 601.6,286.9 602.1,289.8 602.3,291.1 603.1,297.2 603.3,299.3 603.5,300.4 604,304.3 604.6,304.3 606.1,304.3 607.6,304.3 609.1,304.3 610.6,304.3" clip-path="url(#clipb)"/>
<polyline fill="none" stroke="none" marker-start="url(#cg)" marker-mid="url(#cg)" marker-end="url(#cg)" points="460.6,304.3 460.8,301.3 461,298.3 461.1,298 461.2,297.8 461.3,297.6 461.3,297.4 461.4,297.1 461.5,296.9 461.6,296.7 461.7,296.5 461.8,296.2 461.9,296 462,295.8 462,295.6 462.1,295.4 462.2,295.1 462.3,294.9 462.4,294.7 462.5,294.5 462.6,294.2 462.7,294 462.7,293.8 462.8,293.6 462.9,293.3 463,293.1 463.1,292.9 463.4,292 463.8,291.1 464.1,290.3 464.5,289.4 464.8,288.5 465.2,287.7 465.5,286.8 465.9,285.9 466.2,285.1 466.6,284.2 466.9,283.4 467.3,282.5 467.6,281.7 468,280.8 468.3,280 468.7,279.1 469,278.3 469.4,277.5 469.7,276.6 470.1,275.8 470.4,275 470.8,274.2 471.1,273.4 471.5,272.6 471.8,271.8 472.2,271.1 472.5,270.3 472.9,269.6 473.2,268.9 473.6,268.2 473.9,267.5 474.3,266.8 474.6,266.2 475,265.5 475.3,264.8 476.6,262.5 477.8,260.3 479.1,258.1 480.3,255.9 481.6,253.7 482.8,251.5 484.1,249.6 485.3,248.1 486.6,246.8 487.8,245.6 489.1,244.4 490.3,243 491.6,241.5 492.8,239.8 494.1,238.1 495.3,236.4 496.6,234.8 497.8,233.3 499.1,231.8 500.3,230.5 501.6,229.1 502.8,227.8 504.1,226.6 505.3,225.4 506.6,224.3 507.8,223.2 509.1,222.1 510.3,221.1 511.6,220.1 512.8,219.2 514.1,218.2 515.3,217.3 516.6,216.4 517.8,215.5 519.1,214.7 520.3,213.9 522.1,212.8 523.8,211.8 525.6,210.8 527.3,210 529.1,209.4 530.8,208.7 532.6,208.2 534.3,207.8 536.1,207.4 537.8,207.1 539.6,206.9 541.3,206.7 543.1,206.7 544.8,206.7 546.6,206.8 548.3,207 550.1,207.1 551.8,207.5 553.6,208.1 555.3,208.9 557.1,209.7 558.8,210.5 560.6,211.4 564.1,213.3 566.2,214.6 568.3,216 570.4,217.6 572.5,219.4 574.6,221.4 576.7,223.6 578.8,226.1 580.9,229 583,232.3 585.1,235.7 587.2,239.4 589.3,243.1 591.4,247.5 593.5,252.9 595.6,260 597.7,268.3 599.8,277.5 601.9,288.6 604,304.3 606.1,304.3 608.2,304.3 610.3,304.3" clip-path="url(#clipb)"/>
<polyline fill="none" stroke="#0000ff" stroke-width="1" stroke-linejoin="round" points="460.6,304.3 461,298.3 461.4,292.3 461.8,286.3 462.1,280.4 462.3,279.9 462.5,279.4 462.7,278.9 462.9,278.5 463.1,278 463.3,277.5 463.5,277.1 463.7,276.6 463.9,276.1 464.1,275.7 464.3,275.2 464.5,274.8 464.7,274.3 464.9,273.9 465.1,273.4 465.3,273 465.5,272.6 465.7,272.1 465.9,271.7 466.1,271.3 466.3,270.8 466.5,270.4 466.6,270.3 466.7,270 466.9,269.6 467.1,269.2 467.3,268.8 467.5,268.4 467.7,267.9 467.9,267.5 468.1,267.1 468.3,266.7 468.5,266.3 468.7,265.9 468.9,265.5 469.1,265.1 469.3,264.7 469.5,264.4 469.7,264 469.9,263.6 470.1,263.2 470.3,262.8 470.5,262.4 470.7,262.1 470.9,261.7 471.1,261.3 471.3,260.9 471.5,260.6 471.7,260.2 471.9,259.8 472.1,259.5 472.3,259.1 472.5,258.7 472.5,258.7 472.7,258.4 472.9,258 473.1,257.7 473.3,257.3 473.5,257 473.7,256.6 473.9,256.3 474.1,255.9 474.3,255.6 474.5,255.2 474.7,254.9 474.9,254.6 475.1,254.2 475.3,253.9 475.5,253.5 475.6,253.5 477.1,251 478.6,248.5 479.6,246.9 480.1,246.1 481.6,243.6 483.1,241.1 484.5,239.1 484.6,239 485.6,237.8 486.1,237.2 487.6,235.6 489.1,234 490.1,232.9 490.6,232.3 492.1,230.5 493.6,228.6 495.1,226.8 496.6,225 497.6,223.8 498.1,223.3 499.6,221.6 501.1,220 502.6,218.4 504.1,216.9 505.1,216 505.6,215.5 507.1,214.1 508.6,212.8 510.1,211.5 511.6,210.3 512.6,209.5 513.1,209.2 514.2,208.3 514.6,208 516.1,207 517.6,205.9 519.1,205 520.1,204.4 520.6,204.1 522.1,203.2 523.6,202.4 525.1,201.7 526.6,201 527.6,200.6 528.1,200.4 529.6,199.8 531.1,199.2 532.6,198.6 534.1,198.2 535.1,198 535.6,197.8 537.1,197.5 537.3,197.5 538.6,197.2 540.1,197 541.6,196.8 542.6,196.8 543.1,196.8 544.6,196.8 546.1,196.9 547.6,197 549.1,197.1 550.1,197.2 550.6,197.2 552.1,197.5 553.6,197.8 555.1,198.1 556.6,198.5 557.5,198.8 558.1,199 558.3,199 559.6,199.4 561.1,199.9 562.6,200.5 564.1,201.1 565.6,201.7 567.1,202.4 567.2,202.5 568.6,203.2 570.1,204.1 571.6,205.1 573.1,206.2 574.6,207.4 576.1,208.6 577,209.3 577.6,209.8 579.1,211.1 579.4,211.4 580.6,212.5 582.1,214 583.6,215.6 585.1,217.2 586.6,219 586.7,219.1 588.1,220.9 589.6,222.8 591.1,224.9 592.6,227.2 594.1,229.6 595.6,232.2 596.2,233.3 596.4,233.7 597.1,234.9 598.6,238 600.1,241.3 601.6,244.9 603.1,248.9 604.2,252.2 604.6,253.3 604.6,253.3 606.1,258.4 607.6,264.3 609.1,270.6 609.1,270.6 609.8,273.8 610.6,277.1 612,285.4 612.1,285.7 612.3,287.9 613.6,302.9 613.7,304.3 615.1,304.3 616.6,304.3 618.1,304.3 619.6,304.3 621.1,304.3 622.6,304.3 624.1,304.3 625.6,304.3 627.1,304.3 628.6,304.3 630.1,304.3 631.6,304.3 633.1,304.3 634.6,304.3 636,304.3 637.5,304.3 639,304.3 640.5,304.3 642,304.3 643.5,304.3 645,304.3 646.5,304.3 648,304.3 649.5,304.3 651,304.3 652.5,304.3 654,304.3 655.5,304.3 657,304.3 658.5,304.3 660,304.3 661.5,304.3 663,304.3 664.5,304.3 666,304.3 667.5,304.3 669,304.3 670.5,304.3 672,304.3 673.5,304.3 675,304.3 676.5,304.3 678,304.3 679.5,304.3 681,304.3 682.5,304.3 684,304.3 685.5,304.3 687,304.3 688.5,304.3 690,304.3 691.5,304.3 693,304.3 694.5,304.3 696,304.3 697.5,304.3 699,304.3 700.5,304.3 702,304.3 703.5,304.3 705,304.3 706.5,304.3 708,304.3 709.5,304.3 711,304.3 712.5,304.3 713,304.3" clip-path="url(#clipb)"/>
<polyline fill="none" stroke="none" marker-start="url(#cb)" marker-mid="url(#cb)" marker-end="url(#cb)" points="460.6,304.3 461,298.3 461.4,292.3 461.8,286.3 462.1,280.4 462.5,279.5 462.8,278.7 463.2,277.9 463.5,277.1 463.9,276.3 464.2,275.5 464.6,274.7 464.9,273.9 465.3,273.1 465.6,272.3 466,271.6 466.3,270.8 466.7,270.1 467,269.4 467.4,268.7 467.7,267.9 468.1,267.2 468.4,266.5 468.8,265.8 469.1,265.1 469.5,264.5 469.8,263.8 470.2,263.1 470.5,262.4 470.9,261.8 471.2,261.1 471.6,260.5 471.9,259.8 472.3,259.2 472.6,258.6 473,257.9 473.3,257.3 473.7,256.7 474,256.1 474.4,255.5 474.7,254.9 475.1,254.3 475.4,253.7 476.7,251.6 477.9,249.6 479.2,247.6 480.4,245.5 481.7,243.4 482.9,241.4 484.2,239.5 485.4,237.9 486.7,236.5 487.9,235.2 489.2,233.9 490.4,232.5 491.7,231 492.9,229.4 494.2,227.9 495.4,226.3 496.7,224.9 497.9,223.4 499.2,222 500.4,220.7 501.7,219.4 502.9,218.1 504.2,216.8 505.4,215.6 506.7,214.5 507.9,213.4 509.2,212.3 510.4,211.2 511.7,210.2 512.9,209.3 514.2,208.3 515.4,207.4 516.7,206.5 517.9,205.7 519.2,204.9 520.4,204.2 522.2,203.2 523.9,202.3 525.7,201.4 527.4,200.6 529.2,199.9 530.9,199.2 532.7,198.6 534.4,198.1 536.2,197.7 537.9,197.3 539.7,197 541.4,196.8 543.2,196.8 544.9,196.8 546.7,196.9 548.4,197.1 550.2,197.2 551.9,197.4 553.7,197.8 555.4,198.2 557.2,198.7 558.9,199.2 560.9,199.8 563.1,200.7 565.3,201.6 567.5,202.6 569.7,203.9 571.9,205.3 574.1,207 576.3,208.7 578.5,210.6 580.7,212.6 582.9,214.8 585.1,217.2 587.3,219.8 589.5,222.7 591.7,225.8 593.9,229.3 596.1,233.1 598.3,237.3 600.5,242.2 602.7,247.8 604.9,254.3 607.1,262.3 609.3,271.5 611.5,281.8 613.7,304.3 615.9,304.3 618.1,304.3 620.3,304.3 622.5,304.3 624.7,304.3 626.9,304.3 629.1,304.3 631.3,304.3 633.5,304.3 635.6,304.3 637.8,304.3 640,304.3 642.2,304.3 644.4,304.3 646.6,304.3 648.8,304.3 651,304.3 653.2,304.3 655.4,304.3 657.6,304.3 659.8,304.3 662,304.3 664.2,304.3 666.4,304.3 668.6,304.3 670.8,304.3 673,304.3 675.2,304.3 677.4,304.3 679.6,304.3 681.8,304.3 684,304.3 686.2,304.3 688.4,304.3 690.6,304.3 692.8,304.3 695,304.3 697.2,304.3 699.4,304.3 701.6,304.3 703.8,304.3 706,304.3 708.2,304.3 710.4,304.3 712.6,304.3" clip-path="url(#clipb)"/>
<polyline fill="none" stroke="#ff0000" stroke-width="1" stroke-linejoin="round" points="460.6,304.3 460.9,299 461.3,293.7 461.6,288.4 462,283.1 462.2,282.5 462.4,282 462.6,281.5 462.8,280.9 463,280.4 463.2,279.9 463.4,279.4 463.6,278.8 463.8,278.3 464,277.8 464.2,277.2 464.4,276.7 464.6,276.2 464.8,275.7 465,275.1 465.2,274.6 465.4,274.1 465.6,273.6 465.8,273 466,272.5 466.2,272 466.4,271.5 466.6,270.9 466.8,270.4 467,269.9 467.2,269.4 467.4,268.9 467.6,268.3 467.8,267.8 468,267.3 468.2,266.8 468.4,266.3 468.6,265.7 468.8,265.2 469,264.7 469.2,264.2 469.4,263.7 469.6,263.1 469.8,262.6 470,262.1 470.2,261.6 470.4,261.1 470.6,260.5 470.8,260 471,259.5 471.2,259 471.4,258.5 471.6,258 471.8,257.5 472,256.9 472.2,256.4 472.4,255.9 472.6,255.4 472.8,254.9 473,254.4 473.2,253.9 473.4,253.3 473.6,252.8 473.8,252.3 474,251.8 474.2,251.3 474.4,250.8 474.6,250.3 474.8,249.8 475,249.2 475.2,248.7 475.4,248.2 475.6,247.7 475.6,247.7 477.1,243.8 478.6,240 480.1,236.3 481.6,232.5 482.6,230 483.1,228.8 484.6,225 485.6,222.4 486.1,221.1 487.6,217.3 489.1,213.5 490.6,209.7 492.1,205.9 493.6,202.3 495.1,198.7 496.6,195.3 498.1,192 499,190.2 499.6,188.9 501.1,186 502.6,183.2 504.1,180.4 505.6,177.8 507.1,175.2 508.6,172.7 510.1,170.2 510.6,169.3 511.6,167.7 513.1,165.2 514.6,162.7 516,160.3 516.1,160.1 517.6,157.5 519.1,154.9 520.6,152.3 522.1,149.6 523.6,147 525.1,144.4 526.6,141.8 528.1,139.3 529.6,136.7 531.1,134.3 532.6,131.9 534.1,129.5 534.8,128.4 535.5,127.4 535.6,127.2 537.1,125 538.6,122.8 540.1,120.6 541.6,118.4 543.1,116.3 544.6,114.3 546.1,112.3 547.6,110.3 549.1,108.4 550.6,106.5 552.1,104.7 552.5,104.3 553.6,103 555.1,101.3 556.6,99.6 558.1,97.9 559.6,96.3 560.6,95.2 561.1,94.7 562.6,93.1 564.1,91.6 565.6,90 567.1,88.6 568.6,87.1 570.1,85.7 571.6,84.4 573.1,83 574.6,81.8 576.1,80.5 576.8,80 577.6,79.4 579.1,78.2 580.6,77 582.1,75.9 583.6,74.8 585.1,73.7 585.6,73.3 586.6,72.6 588.1,71.6 589.6,70.6 591.1,69.6 592.6,68.6 594.1,67.7 595.6,66.9 597.1,66.1 598.6,65.4 600.1,64.7 601.2,64.2 601.6,64 603.1,63.4 604.6,62.8 606.1,62.2 607.6,61.6 609.1,61 610.6,60.5 610.6,60.5 612.1,59.9 613.6,59.4 615.1,58.9 616.6,58.5 618.1,58.1 619.6,57.8 621.1,57.4 622.6,57.2 623.6,57.1 624.1,57 625.5,56.9 625.6,56.9 627.1,56.7 628.6,56.6 630.1,56.6 631.6,56.5 633.1,56.4 634.6,56.4 635.2,56.4 636,56.4 637.5,56.5 639,56.6 640.5,56.7 642,57 643.5,57.2 645,57.5 646.5,57.8 648,58.1 648,58.1 649.5,58.5 651,58.9 652.5,59.3 654,59.7 655.5,60.2 656.6,60.5 657,60.6 658.5,61.1 660,61.8 661.5,62.5 663,63.3 664.5,64.1 666,65.1 667.5,66.1 669,67.1 670.5,68.2 672,69.3 672.3,69.5 673.5,70.4 675,71.6 676.5,72.7 678,73.8 679.5,74.9 679.7,75.1 681,76 682.5,77.2 684,78.3 685.5,79.5 687,80.7 688.5,82 690,83.3 691.5,84.6 693,85.9 694.5,87.3 696,88.7 696.6,89.3 697.5,90.2 697.5,90.2 699,91.7 700.5,93.3 702,95 703.5,96.8 705,98.6 706.5,100.6 706.5,100.6 708,102.9 709.5,105.3 711,108 712.5,110.7 714,113.4 715.5,116.1 715.7,116.4 715.7,116.5 717,118.7 718.5,121.3 720,124 721.5,126.6 723,129.3 724.5,132.1 725.2,133.5 726,135 727.5,138 729,141 730.5,144.1 732,147.4 733.5,150.7 735,154.2 735,154.2 735.7,155.9 736.5,157.8 738,161.7 739.5,165.8 741,170.1 742.5,174.5 744,178.9 745.5,183.4 745.8,184.1 746.2,185.3 747,187.8 748.5,192.1 750,196.3 751.5,200.7 753,205.4 754.5,210.5 756,216.1 756.7,219 756.9,219.6 757.5,222.5 759,230 760.5,238.6 762,248.3 762.5,251.8 763,255.5 763.5,259.4 765,273 765.8,281.1 766,284.1 766.5,291 767.4,304.3 767.8,304.3" clip-path="url(#clipb)"/>
<polyline fill="none" stroke="none" marker-start="url(#sr)" marker-mid="url(#sr)" marker-end="url(#sr)" points="460.6,304.3 460.9,299 461.3,293.7 461.6,288.4 462,283.1 462.1,282.6 462.3,282.1 462.5,281.7 462.7,281.2 462.8,280.7 463,280.3 463.2,279.8 463.4,279.4 463.5,278.9 463.7,278.4 463.9,278 464.1,277.5 464.2,277 464.4,276.6 464.6,276.1 464.8,275.7 464.9,275.2 465.1,274.7 465.3,274.3 465.5,273.8 465.8,272.9 466.2,272 466.5,271.1 466.9,270.2 467.2,269.2 467.6,268.3 467.9,267.4 468.3,266.5 468.6,265.6 469,264.7 469.3,263.8 469.7,262.9 470,262 470.4,261.1 470.7,260.2 471.1,259.3 471.4,258.4 471.8,257.5 472.1,256.6 472.5,255.7 472.8,254.8 473.2,253.9 473.5,253 473.9,252.1 474.2,251.2 474.6,250.3 474.9,249.4 475.3,248.5 477,244 478.8,239.6 480.5,235.2 482.3,230.8 484,226.4 485.8,222 487.5,217.5 489.3,213 491,208.6 492.8,204.3 494.5,200.1 496.3,196 498,192.2 499.8,188.6 501.5,185.2 503.3,181.9 505,178.8 506.8,175.8 508.5,172.8 510.3,169.9 512,167 513.8,164 515.5,161.1 520,153.3 524.5,145.4 529,137.7 533.5,130.4 538,123.6 542.5,117.1 547,111 551.5,105.4 556,100.2 560.5,95.3 565,90.6 569.5,86.3 574,82.3 578.5,78.6 583,75.2 587.5,72 592,69 596.5,66.4 601,64.3 605.5,62.4 610,60.7 614.5,59.1 619,57.9 623.5,57.1 628,56.7 639,56.6 649.7,58.6 660.4,61.9 671.1,68.6 681.8,76.6 692.5,85.4 703.2,96.3 713.9,113.2 724.6,132.2 735.3,154.8 746,184.7 756.7,218.8 767.4,304.3" clip-path="url(#clipb)"/>
<polyline fill="none" stroke="#008000" stroke-width="1" stroke-linejoin="round" points="460.6,304.3 460.9,299 461.3,293.7 461.5,293.2 461.7,292.7 461.9,292.1 462.1,291.6 462.3,291.1 462.5,290.6 462.7,290 462.9,289.5 463.1,289 463.3,288.5 463.5,287.9 463.7,287.4 463.9,286.9 464.1,286.4 464.3,285.8 464.5,285.3 464.7,284.8 464.9,284.3 465.1,283.8 465.3,283.2 465.5,282.7 465.7,282.2 465.9,281.7 466.1,281.2 466.3,280.6 466.5,280.1 466.7,279.6 466.9,279.1 467.1,278.6 467.3,278 467.5,277.5 467.7,277 467.9,276.5 468.1,276 468.3,275.5 468.5,275 468.7,274.4 468.9,273.9 469.1,273.4 469.3,272.9 469.5,272.4 469.7,271.9 469.9,271.4 470.1,270.9 470.3,270.4 470.5,269.8 470.7,269.3 470.9,268.8 471.1,268.3 471.3,267.8 471.5,267.3 471.7,266.8 471.9,266.3 472.1,265.8 472.3,265.3 472.5,264.8 472.7,264.3 472.9,263.8 473.1,263.2 473.3,262.7 473.5,262.2 473.7,261.7 473.9,261.2 474.1,260.7 474.3,260.2 474.5,259.7 474.7,259.2 474.9,258.7 475.1,258.2 475.3,257.7 475.5,257.2 475.6,256.9 477.1,253.2 478.6,249.5 480.1,245.8 481.6,242.1 483.1,238.5 484.6,234.8 485.6,232.4 486.1,231.2 486.6,230 487.6,227.6 489.1,224 490.6,220.4 492.1,216.8 493.6,213.2 495.1,209.7 496.6,206.2 498.1,202.7 499.6,199.4 501.1,196.1 502.6,192.9 503.9,190.2 504.1,189.7 505.6,186.7 507.1,183.8 508.6,180.9 510.1,178.2 510.6,177.2 511.6,175.4 513.1,172.7 514.6,170 516,167.5 516.1,167.4 517.6,164.7 519.1,162 520.6,159.4 522.1,156.7 523.6,154.1 525.1,151.5 526.6,149 528.1,146.5 529.6,144 531.1,141.5 532.6,139.1 534.1,136.8 534.8,135.6 535.5,134.6 535.6,134.5 537.1,132.2 538.6,130 540.1,127.7 541.6,125.6 543.1,123.4 544.6,121.3 546.1,119.2 547.6,117.2 549.1,115.3 550.6,113.4 552.1,111.5 552.5,111.1 553.6,109.8 555.1,108 556.6,106.3 558.1,104.7 559.6,103 560.6,101.9 561.1,101.4 562.6,99.8 564.1,98.2 565.6,96.7 567.1,95.2 568.6,93.8 570.1,92.4 571.6,91 573.1,89.7 574.6,88.4 576.1,87.1 576.8,86.5 577.6,85.9 579.1,84.7 580.6,83.5 582.1,82.3 583.6,81.2 585.1,80 585.6,79.7 586.6,78.9 588.1,77.8 589.6,76.8 591.1,75.8 592.6,74.8 594.1,73.9 595.6,73 597.1,72.2 598.6,71.4 600.1,70.7 601.2,70.2 601.6,70.1 603.1,69.4 604.6,68.8 606.1,68.1 607.6,67.5 609.1,66.9 610.6,66.3 610.6,66.3 612.1,65.7 613.6,65.2 615.1,64.7 616.6,64.3 618.1,63.9 619.6,63.5 621.1,63.2 622.6,63 623.6,63 624.1,62.9 625.5,62.9 625.6,62.9 627.1,62.9 628.6,63 630.1,63.1 631.6,63.2 633.1,63.3 634.6,63.4 635.2,63.5 636,63.6 637.5,63.8 639,64.1 640.5,64.4 642,64.7 643.5,65.1 645,65.6 646.5,66 648,66.5 648,66.5 649.5,67 651,67.5 652.5,68.1 654,68.6 655.5,69.1 656.6,69.5 657,69.7 658.5,70.2 660,70.8 661.5,71.4 663,72 664.5,72.6 666,73.3 667.5,74 669,74.8 670.5,75.6 672,76.5 672.3,76.7 672.4,76.8 673.5,77.5 675,78.6 676.5,79.9 678,81.3 679.5,82.7 681,84.3 682.5,85.9 684,87.6 685.5,89.3 687,91 688.5,92.7 689.4,93.8 690,94.5 691.5,96.3 693,98.1 694.5,100.1 696,102 696.6,102.8 697.5,104.1 699,106.1 700.5,108.2 701.6,109.7 702,110.2 703.5,112.3 705,114.4 706.5,116.5 708,118.7 709.5,120.9 711,123.3 711.3,123.7 712.5,125.7 714,128.2 715.5,130.7 717,133.4 718.5,136.1 720,139 720.3,139.6 721,141 721.5,142 723,145.1 724.5,148.4 726,151.8 727.5,155.3 729,158.8 730.1,161.4 730.5,162.4 732,166.1 733.5,170 735,174 735.3,174.6 736.5,178 738,182 739.5,186.3 740.5,189.4 741,191 742.5,196.1 744,201.6 745.5,207.4 745.8,208.5 747,213.7 748.5,220.4 750,227.5 751,232.6 751.5,235.3 751.5,235.3 753,243.9 754.5,253.1 756,262.5 756.7,267 756.9,267.9 757.5,272.1 759,281.8 760,288.9 760.5,292.7 760.5,292.7 761.9,304.3 762,304.3 762,304.3 763.5,304.3 765,304.3 766.5,304.3 768,304.3 769.5,304.3 771,304.3 772.5,304.3 774,304.3 775.5,304.3 777,304.3 778.5,304.3 780,304.3 781,304.3" clip-path="url(#clipb)"/>
<polyline fill="none" stroke="none" marker-start="url(#sg)" marker-mid="url(#sg)" marker-end="url(#sg)" points="460.6,304.3 460.9,299 461.3,293.7 461.4,293.5 461.5,293.3 461.5,293 461.6,292.8 461.7,292.6 461.8,292.3 461.9,292.1 462,291.9 462.1,291.6 462.2,291.4 462.2,291.2 462.3,290.9 462.4,290.7 462.5,290.5 462.6,290.3 462.7,290 462.8,289.8 462.9,289.6 462.9,289.3 463,289.1 463.1,288.9 463.2,288.7 463.3,288.4 463.4,288.2 463.5,288 463.6,287.7 463.6,287.5 463.7,287.3 463.8,287 463.9,286.8 464,286.6 464.1,286.4 464.4,285.4 464.8,284.5 465.1,283.6 465.5,282.7 465.8,281.8 466.2,280.9 466.5,280 466.9,279.1 467.2,278.2 467.6,277.3 467.9,276.4 468.3,275.5 468.6,274.6 469,273.7 469.3,272.8 469.7,271.9 470,271 470.4,270.1 470.7,269.2 471.1,268.3 471.4,267.4 471.8,266.5 472.1,265.6 472.5,264.8 472.8,263.9 473.2,263 473.5,262.1 473.9,261.2 474.2,260.4 474.6,259.5 474.9,258.6 475.3,257.7 476.8,254 478.3,250.3 479.8,246.6 481.3,242.9 482.8,239.2 484.3,235.6 485.8,232 487.3,228.4 488.8,224.8 490.3,221.1 491.8,217.5 493.3,214 494.8,210.4 496.3,206.9 497.8,203.5 499.3,200.1 500.8,196.8 502.3,193.5 503.8,190.4 505.3,187.4 506.8,184.4 508.3,181.5 509.8,178.7 511.3,176 512.8,173.3 514.3,170.6 517.1,165.6 519.9,160.6 522.7,155.7 525.5,150.9 528.3,146.2 531.1,141.6 533.9,137.1 536.7,132.8 539.5,128.6 542.3,124.6 545.1,120.6 547.9,116.8 550.7,113.3 553.5,109.9 556.3,106.7 559.1,103.6 561.9,100.6 564.7,97.6 567.5,94.9 570.3,92.2 573.1,89.7 575.9,87.3 578.7,85 581.5,82.8 584.2,80.7 587,78.6 589.8,76.6 592.6,74.7 595.4,73.1 598.2,71.6 601,70.3 603.8,69.1 606.6,67.9 609.4,66.7 612.2,65.7 615,64.7 617.8,63.9 620.6,63.3 623.4,63 626.2,62.9 629,63 633.6,63.3 638.9,64 644.2,65.3 649.6,67 654.9,68.9 660.3,70.9 665.6,73.1 671,75.9 676.3,79.7 681.7,85 687,91 692.4,97.3 697.7,104.3 703.1,111.7 708.4,119.3 713.8,127.7 719.1,137.3 724.5,148.3 729.8,160.7 735.2,174.4 740.5,189.4 745.9,208.9 751.2,233.7 756.6,266 761.9,304.3 767.3,304.3 772.6,304.3 778,304.3" clip-path="url(#clipb)"/>
<polyline fill="none" stroke="#0000ff" stroke-width="1" stroke-linejoin="round" points="460.6,304.3 460.9,299 461.3,293.7 461.6,288.4 462,283.1 462.3,277.8 462.7,272.4 463,267.1 463.3,261.8 463.5,261.3 463.7,260.9 463.9,260.4 464.1,259.9 464.3,259.4 464.5,258.9 464.7,258.4 464.9,258 465.1,257.5 465.3,257 465.5,256.5 465.7,256 465.9,255.5 466.1,255.1 466.3,254.6 466.5,254.1 466.7,253.6 466.9,253.1 467.1,252.6 467.3,252.2 467.5,251.7 467.7,251.2 467.9,250.7 468.1,250.2 468.3,249.7 468.5,249.3 468.7,248.8 468.9,248.3 469.1,247.8 469.3,247.3 469.5,246.8 469.7,246.4 469.9,245.9 470.1,245.4 470.3,244.9 470.5,244.4 470.7,243.9 470.9,243.5 471.1,243 471.3,242.5 471.5,242 471.7,241.5 471.9,241 472.1,240.5 472.3,240.1 472.5,239.6 472.7,239.1 472.9,238.6 473.1,238.1 473.3,237.6 473.5,237.2 473.7,236.7 473.9,236.2 474.1,235.7 474.3,235.2 474.5,234.7 474.7,234.2 474.9,233.8 475.1,233.3 475.3,232.8 475.5,232.3 475.6,232.2 476.5,230 477.1,228.5 478.6,224.8 480.1,221.1 481.6,217.3 483.1,213.5 484.6,209.7 485.6,207.2 486.1,206 487.6,202.3 489.1,198.7 490.6,195.2 492.1,191.9 492.9,190.2 493.6,188.7 495.1,185.5 496.6,182.5 498.1,179.5 499.6,176.6 501.1,173.7 502.6,170.9 504.1,168.1 505.6,165.3 507.1,162.6 508.6,159.9 510.1,157.3 510.6,156.4 511.6,154.6 513.1,152 514.6,149.3 516,146.8 516.1,146.7 517.6,144 519.1,141.4 520.6,138.7 522.1,136.1 523.6,133.5 525.1,131 526.6,128.4 528.1,125.9 529.6,123.4 531.1,121 532.6,118.6 534.1,116.2 534.8,115 535.5,114 535.6,113.9 537.1,111.5 538.6,109.2 540.1,106.9 541.6,104.6 543.1,102.4 544.6,100.1 546.1,98 547.6,95.9 549.1,93.9 550.6,92 552.1,90.1 552.5,89.7 553.6,88.4 555.1,86.7 556.6,85.1 558.1,83.5 559.6,82 560.6,80.9 561.1,80.4 562.6,79 564.1,77.5 565.6,76.1 567.1,74.7 568.6,73.4 570.1,72.1 571.6,70.8 573.1,69.6 574.6,68.4 576.1,67.2 576.8,66.6 577.6,66 579.1,64.9 580.6,63.7 582.1,62.6 583.6,61.5 585.1,60.4 585.6,60 586.6,59.3 588.1,58.3 589.6,57.3 591.1,56.3 592.6,55.3 594.1,54.4 595.6,53.6 597.1,52.8 598.6,52 600.1,51.3 601.2,50.8 601.6,50.6 603.1,49.9 604.6,49.3 606.1,48.6 607.6,48 609.1,47.4 610.6,46.8 610.6,46.8 612.1,46.3 613.6,45.7 615.1,45.2 616.6,44.7 618.1,44.3 619.6,43.9 621.1,43.5 622.6,43.2 623.6,43 624.1,42.9 625.5,42.7 625.6,42.7 627.1,42.5 628.6,42.3 630.1,42.2 631.6,42 633.1,41.8 634.6,41.7 636,41.6 637.5,41.5 639,41.5 640,41.5 640.5,41.5 642,41.5 643.5,41.6 645,41.8 646.5,42 648,42.2 648,42.2 649.5,42.4 651,42.7 652.5,43 654,43.3 655.1,43.5 655.5,43.6 657,43.9 658.5,44.3 660,44.8 661.5,45.3 663,45.8 664.5,46.4 666,47.1 667.5,47.7 668.8,48.3 669,48.4 670.5,49.1 672,49.9 672.3,50 673.5,50.8 675,51.7 676.5,52.6 678,53.7 679.5,54.7 681,55.8 682.5,56.9 684,58.1 685.5,59.3 687,60.5 688.5,61.7 690,62.9 691.5,64.1 693,65.3 693.1,65.4 694.5,66.5 696,67.7 696.6,68.2 697.5,68.9 699,70.2 700.5,71.4 702,72.7 703.5,74.1 705,75.5 706.5,76.9 708,78.4 709.5,80 710.1,80.6 711,81.6 712.5,83.4 714,85.2 715.5,87.2 717,89.2 718.5,91.2 720,93.3 721,94.8 721.5,95.5 723,97.7 724.5,99.9 724.7,100.2 726,102.1 727.5,104.4 729,106.7 730.5,109 732,111.4 733.5,113.9 735,116.4 736.5,119 738,121.6 739.5,124.3 740.5,126.1 741,127.1 742.5,130 744,133 745.5,136.1 745.5,136.1 747,139.3 748.5,142.5 750,145.9 751.5,149.2 751.5,149.2 753,152.6 754.5,156 756,159.4 757.5,163 759,166.7 760.5,170.7 762,174.9 762.2,175.3 762.5,176.4 763.5,179.6 765,185 766.5,190.5 767.8,195.3 768,196 769.5,201.1 771,206.1 772.5,211.5 773.7,216.3 773.9,217.1 774,217.5 775.5,224.1 777,231.3 778.5,239.4 779.8,247.2 780,248.4 781.5,259 783,271.7 783.5,276.5 783.8,279.1 784.5,287.9 785.5,301.4 785.7,304.3 786,304.3 787.5,304.3 789,304.3 790.5,304.3 792,304.3 793.5,304.3 795,304.3 796.5,304.3 798,304.3 799.5,304.3 801,304.3 802.5,304.3 804,304.3 805.5,304.3 807,304.3" clip-path="url(#clipb)"/>
<polyline fill="none" stroke="none" marker-start="url(#sb)" marker-mid="url(#sb)" marker-end="url(#sb)" points="460.6,304.3 460.9,299 461.3,293.7 461.6,288.4 462,283.1 462.3,277.8 462.7,272.4 463,267.1 463.3,261.8 463.7,261 464,260.1 464.4,259.3 464.7,258.4 465.1,257.6 465.4,256.8 465.8,255.9 466.1,255.1 466.5,254.2 466.8,253.4 467.2,252.5 467.5,251.7 467.9,250.8 468.2,250 468.6,249.1 468.9,248.3 469.3,247.4 469.6,246.6 470,245.7 470.3,244.9 470.7,244.1 471,243.2 471.4,242.4 471.7,241.5 472.1,240.7 472.4,239.8 472.8,239 473.1,238.1 473.5,237.3 473.8,236.4 474.2,235.6 474.5,234.7 474.9,233.9 475.2,233 475.6,232.2 477.1,228.5 478.6,224.8 480.1,221.1 481.6,217.3 483.1,213.5 484.6,209.7 486.1,206 487.6,202.3 489.1,198.7 490.6,195.2 492.1,191.9 493.6,188.7 495.1,185.5 496.6,182.5 498.1,179.5 499.6,176.6 501.1,173.7 502.6,170.9 504.1,168.1 505.6,165.3 507.1,162.6 508.6,159.9 510.1,157.3 511.6,154.6 513.1,152 514.6,149.3 517.9,143.5 521.2,137.7 524.5,132 527.8,126.4 531.1,121 534.4,115.7 537.7,110.6 541,105.5 544.3,100.6 547.6,95.9 550.9,91.6 554.2,87.7 557.5,84.1 560.8,80.7 564.1,77.5 567.4,74.5 570.7,71.6 574,68.8 577.3,66.2 580.6,63.7 583.9,61.3 587.2,58.9 590.5,56.7 593.8,54.6 597.1,52.8 600.4,51.1 603.7,49.7 607,48.3 610.3,46.9 613.6,45.7 616.9,44.6 620.2,43.7 623.5,43 626.8,42.6 630.1,42.2 635.7,41.6 641.7,41.5 647.7,42.2 653.7,43.2 659.7,44.7 665.7,46.9 671.7,49.7 677.7,53.5 683.7,57.9 689.7,62.6 695.7,67.4 701.7,72.5 707.7,78.1 713.7,84.8 719.7,92.9 725.7,101.7 731.7,110.9 737.7,121.1 743.7,132.4 749.7,145.2 755.7,158.7 761.7,174 767.7,194.9 773.7,216.3 779.7,246.5 785.7,304.3 791.7,304.3 797.7,304.3 803.7,304.3" clip-path="url(#clipb)"/>
<polyline fill="none" stroke="#ff0000" stroke-width="1" stroke-linejoin="round" points="35.5,378.5 35.8,378.5 36,466.6 36.3,506.1 36.5,528.6 36.7,543.1 36.9,553.2 37.1,560.8 37.3,566.6 37.5,571.2 37.7,574.9 37.9,578 38.1,580.7 38.3,583 38.6,584.9 38.8,586.7 39,588.2 39.2,589.6 39.4,590.8 39.6,592 39.8,593 40,593.9 40.2,594.8 40.4,595.6 40.6,596.4 40.9,597.1 41.1,597.7 41.2,598.1 41.3,598.3 41.5,598.9 41.7,599.5 41.9,600 42.1,600.5 42.3,600.9 42.5,601.3 42.7,601.8 42.9,602.2 43.2,602.5 43.4,602.9 43.6,603.2 43.8,603.6 44,603.9 44.2,604.2 44.4,604.5 44.6,604.8 44.8,605.1 45,605.3 45.2,605.6 45.5,605.9 45.7,606.1 45.9,606.4 46.1,606.6 46.3,606.9 46.5,607.1 46.7,607.3 46.9,607.6 47.1,607.8 47.3,608 47.3,608 47.5,608.2 47.8,608.5 48,608.7 48.2,608.9 48.4,609.1 48.6,609.2 48.8,609.4 49,609.6 49.2,609.8 49.4,610 49.6,610.1 49.7,610.2 49.8,610.3 50.1,610.4 50.3,610.6 50.5,610.8 50.7,610.9 50.9,611.1 51.1,611.2 51.2,611.3 52.7,612.4 54.3,613.5 55.4,614.3 55.9,614.6 57.4,615.7 59,616.6 60.6,617.5 60.7,617.5 62.1,618.2 63.7,619 65.3,619.7 66.9,620.3 68.4,621 69.7,621.5 70,621.7 71.6,622.3 71.7,622.4 73.1,623 74.7,623.7 76.3,624.4 77.8,625.1 79.4,625.8 80.9,626.4 81,626.4 82.5,627 82.7,627.1 84.1,627.8 85.7,628.5 87.2,629.3 88,629.8 88.8,630.2 89.8,630.8 90.4,631.2 91.9,632.3 93,633.1 93.2,633.3 93.5,633.6 94.5,634.7 94.8,635 95.1,635.3 95.1,635.3 95.6,635.9 96.6,635.9 98.2,635.9 99.8,635.9 101.3,635.9 102.9,635.9 104.5,635.9 106,635.9 107.6,635.9 109.2,635.9 110.7,635.9 112.3,635.9 113.9,635.9 115.4,635.9 117,635.9 118.6,635.9 120.1,635.9 121.7,635.9 123.3,635.9 124.8,635.9 126.4,635.9 128,635.9 129.6,635.9 131.1,635.9 132.7,635.9 134.3,635.9 135.8,635.9 137.4,635.9 139,635.9 140,635.9"/>
<polyline fill="none" stroke="none" marker-start="url(#dr)" marker-mid="url(#dr)" marker-end="url(#dr)" points="35.5,378.5 35.8,378.5 36,459.4 36.2,498.4 36.4,521.4 36.6,536.5 36.8,547.3 36.9,555.3 37.1,561.6 37.3,566.6 37.5,570.6 37.7,574 37.9,576.9 38,579.4 38.2,581.6 38.4,583.5 38.6,585.2 38.9,588 39.3,590.4 39.7,592.4 40,594.1 40.4,595.5 40.8,596.8 41.1,598 41.5,599 41.9,599.9 42.2,600.7 42.6,601.5 43,602.2 43.3,602.8 43.7,603.4 44.1,604 44.4,604.5 44.8,605 45.2,605.5 45.5,606 45.9,606.4 46.3,606.8 46.6,607.2 47,607.7 47.4,608.1 47.7,608.4 48.1,608.8 48.5,609.1 48.8,609.5 49.2,609.8 49.6,610.1 49.9,610.3 50.3,610.6 50.7,610.9 51,611.2 51.8,611.7 52.6,612.3 53.4,612.8 54.2,613.4 54.9,613.9 55.7,614.5 56.5,615.1 57.3,615.6 58.1,616.1 58.9,616.5 59.6,617 60.4,617.4 61.2,617.8 62,618.2 62.8,618.5 63.6,618.9 64.3,619.3 65.1,619.6 65.9,619.9 66.7,620.3 67.5,620.6 68.3,620.9 69,621.3 69.8,621.6 70.6,621.9 71.4,622.3 72.2,622.6 73,623 73.7,623.3 74.5,623.7 75.3,624 76.1,624.4 76.9,624.7 77.7,625 78.5,625.4 79.2,625.7 80,626 80.8,626.3 81.6,626.6 82.4,627 83.2,627.3 83.9,627.7 84.7,628.1 85.5,628.5 86.3,628.9 87.1,629.3 87.9,629.7 88.6,630.1 89.4,630.6 90.2,631.1 91,631.6 91.8,632.2 92.6,632.8 93.3,633.4 94.1,634.2 94.9,635.1 95.7,635.9 96.5,635.9 97.3,635.9 98,635.9 98.8,635.9 99.6,635.9 100.4,635.9 101.2,635.9 102,635.9 102.7,635.9 103.5,635.9 104.3,635.9 105.1,635.9 105.9,635.9 106.7,635.9 107.4,635.9 108.2,635.9 109,635.9 109.8,635.9 110.6,635.9 111.4,635.9 112.2,635.9 112.9,635.9 113.7,635.9 114.5,635.9 115.3,635.9 116.1,635.9 116.9,635.9 117.6,635.9 118.4,635.9 119.2,635.9 120,635.9 120.8,635.9 121.6,635.9 122.3,635.9 123.1,635.9 123.9,635.9 124.7,635.9 125.5,635.9 126.3,635.9 127,635.9 127.8,635.9 128.6,635.9 129.4,635.9 130.2,635.9 131,635.9 131.7,635.9 132.5,635.9 133.3,635.9 134.1,635.9 134.9,635.9 135.7,635.9 136.4,635.9 137.2,635.9 138,635.9 138.8,635.9 139.6,635.9"/>
<polyline fill="none" stroke="#008000" stroke-width="1" stroke-linejoin="round" points="35.5,378.5 35.7,378.5 35.9,511 36.1,548.9 36.3,566.8 36.5,577.2 36.7,584.1 36.9,588.9 37.1,592.5 37.3,595.3 37.5,597.5 37.8,599.3 38,600.8 38.2,602.1 38.4,603.1 38.6,604.1 38.8,604.9 39,605.6 39.2,606.2 39.4,606.8 39.6,607.3 39.8,607.8 40.1,608.2 40.3,608.6 40.5,608.9 40.7,609.2 40.9,609.5 41.1,609.8 41.2,609.9 41.3,610.1 41.5,610.3 41.7,610.5 41.9,610.7 42.1,610.9 42.4,611 42.6,611.2 42.8,611.3 43,611.4 43.2,611.5 43.4,611.6 43.6,611.8 43.8,611.9 44,612 44.2,612.1 44.4,612.1 44.7,612.2 44.9,612.3 45.1,612.4 45.3,612.5 45.5,612.6 45.7,612.7 45.9,612.8 46.1,612.9 46.3,613 46.5,613.1 46.7,613.2 47,613.3 47.2,613.4 47.3,613.5 47.4,613.5 47.6,613.6 47.8,613.7 48,613.8 48.2,613.9 48.4,614 48.6,614.1 48.8,614.2 49,614.2 49.3,614.3 49.5,614.4 49.7,614.5 49.7,614.5 49.9,614.6 50.1,614.6 50.3,614.7 50.5,614.8 50.7,614.9 50.9,614.9 51.1,615 51.2,615 52.7,615.7 54.3,616.4 55.4,617 55.9,617.3 57.4,618.1 59,618.8 60.6,619.5 60.7,619.5 62.1,620.1 63.7,620.7 65.3,621.3 66.9,621.9 68.4,622.4 69.7,622.9 70,623 71.6,623.7 71.7,623.7 73.1,624.3 74.7,624.9 76.3,625.6 77.8,626.2 79.4,626.8 79.8,627 81,627.5 82.5,628.2 82.7,628.3 84.1,629 85.7,629.9 87,630.6 87.2,630.7 88.3,631.4 88.8,631.7 90.4,632.8 91.1,633.4 91.9,634 92,634 92.3,634.3 92.7,634.7 93.5,635.4 93.5,635.4 94.1,635.9 95.1,635.9 96.6,635.9 98.2,635.9 99.8,635.9 101.3,635.9 102.9,635.9 104.5,635.9 106,635.9 107.6,635.9 109.2,635.9 110.7,635.9 112.3,635.9 113.9,635.9 115.4,635.9 117,635.9 118.6,635.9 120.1,635.9 121.7,635.9 123.3,635.9 124.8,635.9 126.4,635.9 128,635.9 129.6,635.9 131.1,635.9 132.7,635.9 134.3,635.9 135.8,635.9 137.4,635.9 139,635.9 140,635.9"/>
<polyline fill="none" stroke="none" marker-start="url(#dg)" marker-mid="url(#dg)" marker-end="url(#dg)" points="35.5,378.5 35.7,378.5 35.8,462.8 35.9,503.1 35.9,526.7 36,542.2 36.1,553.1 36.2,561.3 36.3,567.6 36.4,572.6 36.5,576.7 36.6,580.1 36.7,583 36.8,585.5 36.9,587.6 36.9,589.4 37,591.1 37.1,592.5 37.2,593.8 37.3,595 37.4,596 37.5,597 37.6,597.9 38,600.7 38.3,602.8 38.7,604.4 39.1,605.7 39.4,606.8 39.8,607.6 40.1,608.4 40.5,609 40.9,609.5 41.2,610 41.6,610.4 42,610.7 42.3,611 42.7,611.3 43.1,611.5 43.4,611.7 43.8,611.9 44.2,612 44.5,612.2 44.9,612.3 45.3,612.5 45.6,612.7 46,612.8 46.4,613 46.7,613.2 47.1,613.4 47.5,613.5 47.8,613.7 48.2,613.9 48.6,614 48.9,614.2 49.3,614.3 49.7,614.5 50,614.6 50.4,614.8 50.8,614.9 51.1,615 51.9,615.3 52.7,615.6 53.5,616 54.3,616.4 55,616.8 55.8,617.2 56.6,617.6 57.4,618 58.2,618.4 59,618.8 59.7,619.1 60.5,619.4 61.3,619.8 62.1,620.1 62.9,620.4 63.7,620.7 64.4,621 65.2,621.3 66,621.5 66.8,621.8 67.6,622.1 68.4,622.4 69.1,622.7 69.9,623 70.7,623.3 71.5,623.6 72.3,623.9 73.1,624.3 73.8,624.6 74.6,624.9 75.4,625.3 76.2,625.6 77,625.9 77.8,626.2 78.6,626.5 79.3,626.8 80.1,627.1 80.9,627.5 81.7,627.8 82.5,628.2 83.3,628.6 84,629 84.8,629.4 85.6,629.8 86.4,630.3 87.2,630.7 88,631.2 88.7,631.7 89.5,632.2 90.3,632.7 91.1,633.3 91.9,633.9 92.7,634.6 93.4,635.4 94.2,635.9 95,635.9 95.8,635.9 96.6,635.9 97.4,635.9 98.1,635.9 98.9,635.9 99.7,635.9 100.5,635.9 101.3,635.9 102.1,635.9 102.8,635.9 103.6,635.9 104.4,635.9 105.2,635.9 106,635.9 106.8,635.9 107.6,635.9 108.3,635.9 109.1,635.9 109.9,635.9 110.7,635.9 111.5,635.9 112.3,635.9 113,635.9 113.8,635.9 114.6,635.9 115.4,635.9 116.2,635.9 117,635.9 117.7,635.9 118.5,635.9 119.3,635.9 120.1,635.9 120.9,635.9 121.7,635.9 122.4,635.9 123.2,635.9 124,635.9 124.8,635.9 125.6,635.9 126.4,635.9 127.1,635.9 127.9,635.9 128.7,635.9 129.5,635.9 130.3,635.9 131.1,635.9 131.8,635.9 132.6,635.9 133.4,635.9 134.2,635.9 135,635.9 135.8,635.9 136.6,635.9 137.3,635.9 138.1,635.9 138.9,635.9 139.7,635.9"/>
<polyline fill="none" stroke="#0000ff" stroke-width="1" stroke-linejoin="round" points="35.5,378.5 35.8,378.5 36.2,378.5 36.4,434.2 36.6,468.7 36.8,492.1 37,509.1 37.2,522 37.4,532.1 37.6,540.2 37.9,546.9 38.1,552.5 38.3,557.3 38.5,561.4 38.7,565 38.9,568.1 39.1,570.9 39.3,573.3 39.5,575.5 39.7,577.5 39.9,579.4 40.2,581 40.4,582.5 40.6,583.9 40.8,585.2 41,586.4 41.2,587.5 41.4,588.5 41.6,589.5 41.8,590.3 42,591.2 42.2,591.9 42.4,592.6 42.7,593.3 42.9,594 43.1,594.6 43.3,595.1 43.5,595.7 43.7,596.2 43.9,596.7 44.1,597.2 44.3,597.6 44.5,598 44.7,598.5 45,598.9 45.2,599.3 45.4,599.7 45.6,600 45.8,600.4 46,600.8 46.2,601.1 46.4,601.4 46.6,601.8 46.8,602.1 47,602.5 47.3,602.8 47.3,602.9 47.5,603.1 47.7,603.4 47.9,603.7 48.1,604 48.3,604.3 48.5,604.6 48.7,604.9 48.9,605.1 49.1,605.4 49.3,605.6 49.6,605.9 49.7,606 49.8,606.1 50,606.3 50.2,606.5 50.4,606.8 50.6,607 50.8,607.2 51,607.4 51.2,607.6 52.7,609.1 54.3,610.5 55.4,611.6 55.9,612 57.4,613.3 59,614.5 60.6,615.6 60.7,615.7 62.1,616.5 63.7,617.4 65.3,618.2 66.9,619 68.4,619.8 69.7,620.4 70,620.5 71.6,621.2 71.7,621.3 73.1,621.9 74.7,622.7 76.3,623.4 77.8,624 79.4,624.7 81,625.3 81.8,625.7 82.5,626 82.7,626 84.1,626.6 85.7,627.3 87.2,628.1 88.8,628.8 89,628.9 90.4,629.7 91.5,630.4 91.9,630.6 93.5,631.7 94.1,632.2 95.1,633 95.8,633.9 96.4,634.6 96.6,635 97.2,635.9 97.7,635.9 98.2,635.9 99.8,635.9 101.3,635.9 102.9,635.9 104.5,635.9 106,635.9 107.6,635.9 109.2,635.9 110.7,635.9 112.3,635.9 113.9,635.9 115.4,635.9 117,635.9 118.6,635.9 120.1,635.9 121.7,635.9 123.3,635.9 124.8,635.9 126.4,635.9 128,635.9 129.6,635.9 131.1,635.9 132.7,635.9 134.3,635.9 135.8,635.9 137.4,635.9 139,635.9 140,635.9"/>
<polyline fill="none" stroke="none" marker-start="url(#db)" marker-mid="url(#db)" marker-end="url(#db)" points="35.5,378.5 35.8,378.5 36.2,378.5 36.5,461.3 36.9,501.3 37.3,524.7 37.6,540.2 38,551.2 38.4,559.4 38.7,565.8 39.1,570.9 39.5,575 39.8,578.5 40.2,581.4 40.6,583.9 40.9,586.1 41.3,588 41.7,589.7 42,591.2 42.4,592.5 42.8,593.6 43.1,594.7 43.5,595.7 43.9,596.6 44.2,597.4 44.6,598.1 45,598.9 45.3,599.6 45.7,600.2 46.1,600.8 46.4,601.4 46.8,602 47.2,602.6 47.5,603.2 47.9,603.7 48.2,604.2 48.6,604.7 49,605.2 49.3,605.6 49.7,606 50.1,606.4 50.4,606.8 50.8,607.2 51.2,607.6 52,608.3 52.7,609.1 53.5,609.8 54.3,610.5 55.1,611.3 55.9,612 56.7,612.7 57.4,613.3 58.2,614 59,614.5 59.8,615.1 60.6,615.6 61.4,616.1 62.1,616.5 62.9,617 63.7,617.4 64.5,617.8 65.3,618.2 66.1,618.6 66.9,619 67.6,619.4 68.4,619.8 69.2,620.1 70,620.5 70.8,620.9 71.6,621.2 72.3,621.6 73.1,621.9 73.9,622.3 74.7,622.7 75.5,623 76.3,623.4 77,623.7 77.8,624 78.6,624.4 79.4,624.7 80.2,625 81,625.3 81.7,625.6 82.5,626 83.3,626.3 84.1,626.6 84.9,627 85.7,627.3 86.4,627.7 87.2,628.1 88,628.4 88.8,628.8 89.6,629.2 90.4,629.7 91.1,630.1 91.9,630.6 92.7,631.2 93.5,631.7 94.3,632.3 95.1,633 95.8,633.9 96.6,635 97.4,635.9 98.2,635.9 99,635.9 99.8,635.9 100.6,635.9 101.3,635.9 102.1,635.9 102.9,635.9 103.7,635.9 104.5,635.9 105.3,635.9 106,635.9 106.8,635.9 107.6,635.9 108.4,635.9 109.2,635.9 110,635.9 110.7,635.9 111.5,635.9 112.3,635.9 113.1,635.9 113.9,635.9 114.7,635.9 115.4,635.9 116.2,635.9 117,635.9 117.8,635.9 118.6,635.9 119.4,635.9 120.1,635.9 120.9,635.9 121.7,635.9 122.5,635.9 123.3,635.9 124.1,635.9 124.8,635.9 125.6,635.9 126.4,635.9 127.2,635.9 128,635.9 128.8,635.9 129.6,635.9 130.3,635.9 131.1,635.9 131.9,635.9 132.7,635.9 133.5,635.9 134.3,635.9 135,635.9 135.8,635.9 136.6,635.9 137.4,635.9 138.2,635.9 139,635.9 139.7,635.9"/>
<polyline fill="none" stroke="#ff0000" stroke-width="1" stroke-linejoin="round" points="35.5,378.5 35.9,378.5 36.3,378.5 36.5,425 36.7,455.8 36.9,477.7 37.2,494.1 37.4,506.8 37.6,516.9 37.8,525.3 38,532.2 38.2,538 38.4,543.1 38.6,547.4 38.8,551.2 39,554.6 39.2,557.6 39.5,560.2 39.7,562.7 39.9,564.8 40.1,566.8 40.3,568.6 40.5,570.3 40.7,571.9 40.9,573.3 41.1,574.6 41.3,575.8 41.5,577 41.8,578 41.8,578.1 42,579 42.2,580 42.4,580.8 42.6,581.7 42.8,582.5 43,583.2 43.2,583.9 43.4,584.6 43.6,585.2 43.8,585.8 44.1,586.4 44.3,587 44.5,587.5 44.7,588 44.9,588.5 45.1,589 45.3,589.5 45.5,589.9 45.7,590.3 45.9,590.7 46.1,591.1 46.4,591.5 46.6,591.9 46.8,592.2 47,592.5 47.2,592.8 47.4,593.1 47.6,593.4 47.8,593.7 48,593.9 48,593.9 48.2,594.2 48.4,594.4 48.7,594.6 48.9,594.8 49.1,595 49.3,595.2 49.5,595.4 49.7,595.5 49.9,595.7 50.1,595.8 50.3,596 50.5,596.1 50.7,596.3 51,596.4 51.2,596.5 51.2,596.5 52.7,597.4 54.3,598.3 55.4,598.8 55.9,599.1 57.4,599.8 59,600.4 60.5,601 60.6,601.1 61.6,601.4 62.1,601.6 63.7,602.1 65.3,602.6 66.3,602.9 66.9,603.1 68.4,603.5 70,603.9 71.6,604.3 73.1,604.6 74.2,604.9 74.7,605 76.3,605.4 77.8,605.8 79.4,606.2 81,606.6 82,606.8 82.5,607 84.1,607.3 85.7,607.7 87.2,608.1 88.8,608.5 89.8,608.7 90.4,608.8 91.5,609.1 91.9,609.2 93.5,609.5 95.1,609.7 96.6,610 97.7,610.2 98.2,610.2 99.8,610.5 101.3,610.8 102.9,611 104.5,611.3 105.5,611.6 106,611.7 107.6,612.1 109.2,612.5 110.7,612.9 112.3,613.4 113.4,613.6 113.9,613.8 115.4,614.2 115.7,614.3 117,614.6 118.6,615 120.1,615.4 121.2,615.6 121.7,615.7 123.3,616.1 124.8,616.4 126.4,616.7 128,617.1 129,617.3 129.6,617.4 131.1,617.7 132.7,618.1 134.3,618.5 135.8,618.9 136.8,619.1 137.4,619.2 137.6,619.3 139,619.6 140.5,619.9 142.1,620.3 143.7,620.6 145.2,621 146.8,621.3 147,621.4 148.4,621.7 149.9,622 151.5,622.4 153.1,622.8 154.6,623.1 156.2,623.5 157.1,623.7 157.8,623.9 159.3,624.2 159.6,624.3 160.9,624.6 162.5,625 164,625.4 165.6,625.9 167.2,626.3 167.3,626.3 168.4,626.6 168.7,626.7 170.3,627.2 171.9,627.7 173.4,628.2 175,628.7 175.4,628.8 176.6,629.2 178.1,629.7 179.4,630.2 179.7,630.3 181.3,631 181.5,631.1 182.8,631.7 184.4,632.7 185.8,633.5 186,633.6 186,633.6 187.5,634.4 188.9,635.1 189.1,635.3 190,635.9 190.7,635.9 192.3,635.9"/>
<polyline fill="none" stroke="none" marker-start="url(#cr)" marker-mid="url(#cr)" marker-end="url(#cr)" points="35.5,378.5 35.9,378.5 36.3,378.5 36.5,420.2 36.7,449.1 36.9,470.2 37.1,486.4 37.2,499.2 37.4,509.5 37.6,518.1 37.8,525.3 38,531.4 38.1,536.7 38.3,541.3 38.5,545.3 38.7,548.9 38.9,552.1 39.1,555 39.2,557.6 39.4,559.9 39.6,562.1 40,565.9 40.3,569.1 40.7,571.9 41.1,574.3 41.4,576.4 41.8,578.3 42.2,580 42.5,581.5 42.9,582.8 43.3,584.1 43.6,585.2 44,586.3 44.4,587.2 44.7,588.1 45.1,589 45.5,589.8 45.8,590.5 46.2,591.2 46.6,591.9 46.9,592.5 47.3,593 47.7,593.5 48,593.9 48.4,594.3 48.8,594.7 49.1,595.1 49.5,595.4 49.9,595.6 50.2,595.9 50.6,596.2 51,596.4 53.6,597.9 56.2,599.2 58.8,600.4 61.4,601.3 64,602.2 66.6,603 69.2,603.7 71.9,604.3 74.5,605 77.1,605.6 79.7,606.3 82.3,606.9 84.9,607.5 87.5,608.2 90.1,608.8 92.8,609.3 95.4,609.8 98,610.2 101.6,610.8 105.3,611.5 108.9,612.4 112.6,613.4 116.3,614.4 119.9,615.3 123.6,616.1 127.2,616.9 130.9,617.7 134.6,618.5 138.2,619.4 144,620.7 148.6,621.7 153.2,622.8 157.8,623.9 162.4,625 167,626.2 171.6,627.6 176.2,629.1 180.8,630.7 185.4,633.2 190,635.9"/>
<polyline fill="none" stroke="#008000" stroke-width="1" stroke-linejoin="round" points="35.5,378.5 35.9,378.5 36.1,458.8 36.3,498.3 36.5,521.8 36.7,537.3 37,548.3 37.2,556.5 37.4,562.7 37.6,567.7 37.8,571.8 38,575.1 38.2,577.8 38.4,580.2 38.6,582.2 38.8,583.8 39,585.3 39.3,586.5 39.5,587.6 39.7,588.6 39.9,589.4 40.1,590.1 40.3,590.8 40.5,591.4 40.7,592 40.9,592.5 41.1,592.9 41.3,593.3 41.6,593.7 41.8,594.1 41.8,594.1 42,594.5 42.2,594.8 42.4,595.2 42.6,595.5 42.8,595.8 43,596.1 43.2,596.3 43.4,596.6 43.6,596.9 43.8,597.1 44.1,597.3 44.3,597.5 44.5,597.7 44.7,597.9 44.9,598.1 45.1,598.3 45.3,598.5 45.5,598.6 45.7,598.8 45.9,598.9 46.1,599.1 46.4,599.2 46.6,599.3 46.8,599.5 47,599.6 47.2,599.7 47.4,599.8 47.6,599.9 47.8,600 48,600.1 48,600.1 48.2,600.2 48.4,600.3 48.7,600.4 48.9,600.5 49.1,600.6 49.3,600.6 49.5,600.7 49.7,600.8 49.9,600.9 50.1,600.9 50.3,601 50.5,601 50.7,601.1 51,601.1 51.2,601.2 51.2,601.2 52.7,601.4 54.3,601.8 55.4,602.2 55.9,602.4 57.4,603 59,603.6 60.5,603.9 60.6,603.9 61.6,604 62.1,604 63.7,604.1 65.3,604.2 66.3,604.5 66.9,604.6 68.4,605 70,605.4 71.6,605.8 73.1,606.2 74.2,606.5 74.7,606.6 76.3,607 77.8,607.4 79.4,607.7 81,608 82,608.2 82.5,608.3 84.1,608.6 85.7,608.9 87.2,609.2 88.8,609.5 89.8,609.8 90.4,609.9 91.5,610.1 91.9,610.2 93.5,610.5 95.1,610.8 96.6,611 97.7,611.2 98.2,611.3 99.8,611.6 101.3,611.9 102.9,612.2 104.5,612.5 105.5,612.7 106,612.8 107.6,613.1 109.2,613.5 110.7,613.9 112.3,614.3 113.4,614.5 113.9,614.6 115.4,615 115.7,615 117,615.3 118.6,615.7 120.1,616 121.2,616.2 121.7,616.4 123.3,616.7 124.8,617 126.4,617.3 128,617.6 129,617.8 129.6,617.9 131.1,618.3 132.7,618.6 134.3,619 135.8,619.4 136.8,619.7 137.4,619.8 137.6,619.9 139,620.2 140.5,620.5 142.1,620.9 143.7,621.2 145.2,621.6 146.8,622 147,622 148.4,622.3 149.9,622.7 151.5,623 153.1,623.4 154.6,623.8 156.2,624.2 157.1,624.4 157.8,624.5 159.3,625 159.6,625 160.9,625.4 162.5,625.8 164,626.3 165.6,626.7 167.2,627.2 167.3,627.2 168.7,627.6 170.3,628.1 170.6,628.2 171.9,628.6 173.4,629.1 173.4,629.1 175,629.7 176.6,630.4 178.1,631.2 178.9,631.6 179.4,631.8 179.7,632 181.3,632.9 182.8,633.8 183.4,634.2 183.6,634.3 184.4,635.1 184.7,635.3 184.8,635.4 185.4,635.9 186,635.9 187.5,635.9 189.1,635.9 190.7,635.9 192.3,635.9"/>
<polyline fill="none" stroke="none" marker-start="url(#cg)" marker-mid="url(#cg)" marker-end="url(#cg)" points="35.5,378.5 35.9,378.5 36,421.9 36.1,451.9 36.2,473.8 36.3,490.5 36.4,503.6 36.5,514.2 36.5,522.9 36.6,530.3 36.7,536.5 36.8,541.8 36.9,546.5 37,550.5 37.1,554.1 37.2,557.3 37.3,560.2 37.4,562.7 37.5,565.1 37.6,567.2 37.6,569.1 37.7,570.8 37.8,572.4 37.9,573.9 38,575.3 38.1,576.5 38.5,580.7 38.8,583.8 39.2,586.2 39.6,588.1 39.9,589.6 40.3,590.8 40.7,591.8 41,592.7 41.4,593.4 41.8,594.1 42.1,594.7 42.5,595.3 42.9,595.9 43.2,596.3 43.6,596.8 44,597.2 44.3,597.6 44.7,597.9 45.1,598.2 45.4,598.5 45.8,598.8 46.1,599.1 46.5,599.3 46.9,599.5 47.2,599.7 47.6,599.9 48,600.1 48.3,600.3 48.7,600.4 49.1,600.6 49.4,600.7 49.8,600.8 50.2,600.9 50.5,601 50.9,601.1 52.2,601.4 53.5,601.6 54.8,602 56.1,602.5 57.4,603 58.7,603.5 60,603.8 61.4,604 62.7,604 64,604.1 65.3,604.2 66.6,604.5 67.9,604.8 69.2,605.2 70.5,605.5 71.8,605.9 73.1,606.2 74.4,606.5 75.7,606.9 77,607.2 78.3,607.5 79.6,607.8 80.9,608 82.3,608.3 83.6,608.5 84.9,608.8 86.2,609 87.5,609.3 88.8,609.5 90.1,609.8 91.4,610.1 92.7,610.3 94,610.6 95.3,610.8 96.6,611 97.9,611.3 99.8,611.6 101.6,611.9 103.4,612.2 105.2,612.6 107.1,613 108.9,613.4 110.7,613.9 112.6,614.3 114.4,614.8 116.2,615.2 118,615.6 119.9,616 121.7,616.3 123.5,616.7 125.4,617.1 127.2,617.5 129,617.8 130.8,618.2 132.7,618.6 134.5,619.1 136.3,619.6 138.2,620 140,620.4 143.7,621.2 145.9,621.7 148,622.2 150.2,622.7 152.4,623.3 154.6,623.8 156.8,624.3 159,624.9 161.2,625.5 163.4,626.1 165.6,626.7 167.8,627.4 170,628 172.2,628.7 174.4,629.5 176.6,630.4 178.8,631.5 181,632.7 183.2,634.1 185.4,635.9 187.5,635.9 189.7,635.9 191.9,635.9"/>
<polyline fill="none" stroke="#0000ff" stroke-width="1" stroke-linejoin="round" points="35.5,378.5 35.9,378.5 36.3,378.5 36.7,378.5 37.1,378.5 37.3,404.7 37.5,425.6 37.7,442.6 38,456.7 38.2,468.6 38.4,478.8 38.6,487.6 38.8,495.3 39,502.1 39.2,508.1 39.4,513.5 39.6,518.3 39.8,522.7 40,526.7 40.3,530.4 40.5,533.7 40.7,536.8 40.9,539.6 41.1,542.3 41.3,544.7 41.5,547 41.7,549.1 41.8,549.6 41.9,551.1 42.1,553 42.3,554.7 42.6,556.4 42.8,558 43,559.5 43.2,560.9 43.4,562.2 43.6,563.5 43.8,564.7 44,565.8 44.2,566.9 44.4,568 44.6,569 44.9,570 45.1,570.9 45.3,571.8 45.5,572.7 45.7,573.5 45.9,574.3 46.1,575.1 46.3,575.8 46.5,576.6 46.7,577.2 46.9,577.9 47.2,578.5 47.4,579.1 47.6,579.7 47.8,580.2 48,580.8 48,580.8 48.2,581.3 48.4,581.7 48.6,582.2 48.8,582.6 49,583.1 49.2,583.5 49.5,583.9 49.7,584.2 49.9,584.6 50.1,585 50.3,585.3 50.5,585.6 50.7,586 50.9,586.3 51.1,586.6 51.2,586.6 52.7,588.7 54.3,590.4 55.4,591.5 55.9,592 57.4,593.3 59,594.5 60.5,595.5 60.6,595.5 61.6,596.2 62.1,596.5 63.7,597.3 65.3,598.1 66.3,598.6 66.9,598.8 68.4,599.4 70,600 71.6,600.6 73.1,601.1 74.2,601.4 74.7,601.6 76.3,602.1 77.8,602.6 79.4,603.1 81,603.6 82,603.9 82.5,604.1 84.1,604.6 85.7,605 87.2,605.5 88.8,605.9 89.8,606.2 90.4,606.4 91.5,606.7 91.9,606.8 93.5,607.2 95.1,607.5 96.6,607.9 97.7,608.1 98.2,608.2 99.8,608.5 101.3,608.9 102.9,609.2 104.5,609.6 105.5,609.8 106,610 107.6,610.4 109.2,610.8 110.7,611.3 112.3,611.8 113.4,612.1 113.9,612.2 115.4,612.7 115.7,612.7 117,613.1 118.6,613.5 120.1,613.9 121.2,614.2 121.7,614.3 123.3,614.7 124.8,615 126.4,615.4 128,615.7 129,616 129.6,616.1 131.1,616.4 132.7,616.8 134.3,617.2 135.8,617.5 136.8,617.8 137.4,617.9 137.6,618 139,618.2 140.5,618.6 142.1,618.9 143.7,619.3 145.2,619.6 146.8,620 147,620 148.4,620.3 149.9,620.7 151.5,621 153.1,621.4 154.6,621.7 156.2,622.1 157.1,622.3 157.8,622.4 159.3,622.8 159.6,622.9 160.9,623.2 162.5,623.5 164,623.9 165.6,624.2 167.2,624.6 167.3,624.6 168.7,625 170.3,625.4 171.9,625.8 173.4,626.2 175,626.6 176.6,627 177.2,627.2 177.5,627.2 178.1,627.4 179.7,627.9 181.3,628.4 182.8,628.9 184.4,629.4 185.6,629.9 186,630 186,630 187.5,630.6 189.1,631.4 190.7,632.1 190.7,632.1 191.5,632.5 192.3,632.9 193.8,633.8 193.8,633.9 194.1,634.1 195.4,635.8 195.5,635.9 197,635.9 198.5,635.9 200.1,635.9 201.7,635.9 203.2,635.9 204.8,635.9 206.4,635.9 207.9,635.9 209.5,635.9 211.1,635.9 212.6,635.9 214.2,635.9 215.8,635.9 217.3,635.9 218.9,635.9 220.5,635.9 222,635.9 223.6,635.9 225.2,635.9 226.7,635.9 228.3,635.9 229.9,635.9 231.4,635.9 233,635.9 234.6,635.9 236.1,635.9 237.7,635.9 239.3,635.9 240.8,635.9 242.4,635.9 244,635.9 245.5,635.9 247.1,635.9 248.7,635.9 250.3,635.9 251.8,635.9 253.4,635.9 255,635.9 256.5,635.9 258.1,635.9 259.7,635.9 261.2,635.9 262.8,635.9 264.4,635.9 265.9,635.9 267.5,635.9 269.1,635.9 270.6,635.9 272.2,635.9 273.8,635.9 275.3,635.9 276.9,635.9 278.5,635.9 280,635.9 281.6,635.9 283.2,635.9 284.7,635.9 286.3,635.9 287.9,635.9 289.4,635.9 291,635.9 292.6,635.9 294.1,635.9 295.7,635.9 297.3,635.9 298.8,635.9 299.4,635.9"/>
<polyline fill="none" stroke="none" marker-start="url(#cb)" marker-mid="url(#cb)" marker-end="url(#cb)" points="35.5,378.5 35.9,378.5 36.3,378.5 36.7,378.5 37.1,378.5 37.5,420.8 37.9,449.9 38.2,471.3 38.6,487.6 38.9,500.4 39.3,510.9 39.7,519.5 40,526.7 40.4,532.9 40.8,538.2 41.1,542.9 41.5,547 41.9,550.6 42.2,553.9 42.6,556.8 43,559.5 43.3,561.9 43.7,564.1 44.1,566.1 44.4,568 44.8,569.7 45.2,571.4 45.5,572.9 45.9,574.3 46.3,575.7 46.6,576.9 47,578 47.4,579.1 47.7,580.1 48.1,581 48.5,581.9 48.8,582.6 49.2,583.4 49.6,584.1 49.9,584.7 50.3,585.3 50.7,585.9 51,586.4 52.3,588.2 53.6,589.7 54.9,591.1 56.2,592.3 57.5,593.4 58.9,594.4 60.2,595.3 61.5,596.1 62.8,596.8 64.1,597.5 65.4,598.1 66.7,598.7 68,599.3 69.3,599.8 70.6,600.2 71.9,600.7 73.2,601.1 74.5,601.5 75.8,602 77.1,602.4 78.5,602.8 79.8,603.2 81.1,603.6 82.4,604 83.7,604.4 85,604.8 86.3,605.2 87.6,605.6 88.9,606 90.2,606.3 91.5,606.7 92.8,607 94.1,607.3 95.4,607.6 96.7,607.9 98,608.2 99.9,608.5 101.7,608.9 103.5,609.3 105.4,609.8 107.2,610.3 109,610.8 110.8,611.3 112.7,611.9 114.5,612.4 116.3,612.9 118.2,613.4 120,613.9 121.8,614.3 123.6,614.8 125.5,615.2 127.3,615.6 129.1,616 131,616.4 132.8,616.8 134.6,617.3 136.4,617.7 138.3,618.1 140.3,618.5 142.6,619.1 144.9,619.6 147.2,620.1 149.5,620.6 151.8,621.1 154.1,621.6 156.4,622.1 158.7,622.7 161,623.2 163.3,623.7 165.6,624.2 167.9,624.8 170.2,625.3 172.5,625.9 174.8,626.5 177.1,627.1 179.4,627.8 181.7,628.5 184,629.3 186.3,630.1 188.6,631.1 190.9,632.2 193.2,633.4 195.5,635.9 197.8,635.9 200.1,635.9 202.4,635.9 204.7,635.9 207,635.9 209.3,635.9 211.6,635.9 213.9,635.9 216.2,635.9 218.5,635.9 220.8,635.9 223.1,635.9 225.4,635.9 227.7,635.9 230,635.9 232.3,635.9 234.6,635.9 236.9,635.9 239.2,635.9 241.5,635.9 243.8,635.9 246.1,635.9 248.4,635.9 250.7,635.9 253,635.9 255.3,635.9 257.6,635.9 259.9,635.9 262.2,635.9 264.5,635.9 266.8,635.9 269.1,635.9 271.4,635.9 273.7,635.9 276,635.9 278.3,635.9 280.6,635.9 282.9,635.9 285.2,635.9 287.5,635.9 289.8,635.9 292.1,635.9 294.3,635.9 296.6,635.9 298.9,635.9"/>
<polyline fill="none" stroke="#ff0000" stroke-width="1" stroke-linejoin="round" points="35.5,378.5 35.9,378.5 36.2,378.5 36.6,378.5 36.9,378.5 37.1,405.6 37.4,426.6 37.6,443.3 37.8,456.9 38,468.3 38.2,477.9 38.4,486.1 38.6,493.2 38.8,499.4 39,504.9 39.2,509.8 39.4,514.2 39.7,518.1 39.9,521.6 40.1,524.8 40.3,527.8 40.5,530.5 40.7,533 40.9,535.2 41.1,537.4 41.3,539.3 41.5,541.2 41.7,542.9 42,544.5 42.2,546 42.4,547.4 42.6,548.7 42.8,550 43,551.2 43.2,552.3 43.4,553.3 43.6,554.4 43.8,555.3 44,556.2 44.3,557.1 44.5,557.9 44.7,558.7 44.9,559.5 45.1,560.2 45.3,560.9 45.5,561.6 45.7,562.2 45.9,562.8 46.1,563.4 46.3,564 46.6,564.5 46.8,565 47,565.5 47.2,566 47.4,566.5 47.6,567 47.8,567.4 48,567.8 48.2,568.3 48.4,568.7 48.6,569 48.9,569.4 49.1,569.8 49.3,570.1 49.5,570.5 49.7,570.8 49.9,571.2 50.1,571.5 50.3,571.8 50.5,572.1 50.7,572.4 50.9,572.7 51.1,572.9 51.2,573 52.7,574.8 54.3,576.4 55.9,577.8 57.4,578.9 58.5,579.6 59,579.9 60.6,580.8 61.6,581.3 62.1,581.5 63.7,582.2 65.3,582.8 66.9,583.3 68.4,583.8 70,584.4 71.6,584.9 73.1,585.4 74.7,586 75.6,586.4 76.3,586.6 77.8,587.2 79.4,587.8 81,588.5 82.5,589.1 84.1,589.6 85.7,590.2 87.2,590.7 87.8,590.9 88.8,591.3 90.4,591.7 91.9,592.2 93.4,592.6 93.5,592.6 95.1,593 96.6,593.3 98.2,593.7 99.8,594 101.3,594.3 102.9,594.6 104.5,594.9 106,595.2 107.6,595.4 109.2,595.7 110.7,596 112.3,596.3 113.1,596.4 113.8,596.5 113.9,596.6 115.4,596.8 117,597.1 118.6,597.4 120.1,597.7 121.7,597.9 123.3,598.2 124.8,598.5 126.4,598.7 128,599 129.6,599.3 131.1,599.6 131.5,599.6 132.7,599.8 134.3,600.1 135.8,600.4 137.4,600.6 139,600.9 140,601.1 140.5,601.1 142.1,601.4 143.7,601.6 145.2,601.9 146.8,602.1 148.4,602.4 149.9,602.6 151.5,602.9 153.1,603.1 154.6,603.4 156.2,603.6 157,603.7 157.8,603.9 159.3,604.1 160.9,604.3 162.5,604.6 164,604.8 165.6,605 166.1,605.1 167.2,605.3 168.7,605.5 170.3,605.7 171.9,605.9 173.4,606.1 175,606.4 176.6,606.6 178.1,606.8 179.7,607 181.3,607.3 182.4,607.4 182.8,607.5 184.4,607.7 186,608 187.5,608.2 189.1,608.4 190.7,608.6 192.3,608.8 192.3,608.8 193.8,609 195.4,609.2 197,609.4 198.5,609.6 200.1,609.9 201.7,610.1 203.2,610.3 204.8,610.5 205.8,610.6 206.4,610.7 207.8,610.9 207.9,610.9 209.5,611.1 211.1,611.3 212.6,611.5 214.2,611.7 215.8,612 217.3,612.2 218,612.2 218.9,612.4 220.5,612.6 222,612.8 223.6,613 225.2,613.2 226.7,613.4 228.3,613.6 229.9,613.8 231.4,614 231.4,614 233,614.2 234.6,614.4 236.1,614.6 237.7,614.8 239.3,615 240.4,615.2 240.8,615.2 242.4,615.4 244,615.6 245.5,615.8 247.1,616.1 248.7,616.3 250.3,616.5 251.8,616.7 253.4,616.9 255,617.2 256.5,617.4 256.8,617.4 258.1,617.6 259.7,617.8 261.2,618 262.8,618.2 264.4,618.4 264.6,618.5 265.9,618.6 267.5,618.9 269.1,619.1 270.6,619.3 272.2,619.5 273.8,619.6 275.3,619.8 276.9,620 278.5,620.2 280,620.4 281.6,620.6 282.2,620.7 283.2,620.8 283.2,620.8 284.7,621 286.3,621.3 287.9,621.5 289.4,621.7 291,621.9 292.6,622.1 292.6,622.1 294.1,622.3 295.7,622.6 297.3,622.8 298.8,623.1 300.4,623.4 302,623.6 302.1,623.6 302.2,623.6 303.5,623.8 305.1,624.1 306.7,624.3 308.2,624.6 309.8,624.8 311.4,625 312.1,625.1 313,625.3 314.5,625.5 316.1,625.8 317.7,626 319.2,626.3 320.8,626.5 322.4,626.8 322.4,626.8 323.1,626.9 323.9,627.1 325.5,627.3 327.1,627.6 328.6,627.9 330.2,628.2 331.8,628.5 333.3,628.8 333.6,628.9 334,629 334.9,629.1 336.5,629.4 338,629.7 339.6,630 341.2,630.3 342.7,630.6 344.3,630.9 345,631.1 345.2,631.1 345.9,631.3 347.4,631.7 349,632.2 350.6,632.8 351.1,633 351.6,633.2 352.1,633.4 353.7,634.2 354.5,634.6 354.8,634.8 355.3,635.2 356.2,635.9 356.6,635.9"/>
<polyline fill="none" stroke="none" marker-start="url(#sr)" marker-mid="url(#sr)" marker-end="url(#sr)" points="35.5,378.5 35.9,378.5 36.2,378.5 36.6,378.5 36.9,378.5 37.1,402.6 37.3,421.8 37.5,437.4 37.7,450.4 37.9,461.4 38,470.8 38.2,479 38.4,486.1 38.6,492.4 38.8,498 38.9,502.9 39.1,507.4 39.3,511.5 39.5,515.2 39.7,518.5 39.9,521.6 40,524.5 40.2,527.1 40.4,529.5 40.6,531.7 41,535.8 41.3,539.3 41.7,542.5 42.1,545.2 42.4,547.7 42.8,550 43.2,552 43.5,553.9 43.9,555.5 44.3,557.1 44.6,558.5 45,559.8 45.3,561.1 45.7,562.2 46.1,563.3 46.4,564.2 46.8,565.2 47.2,566 47.5,566.9 47.9,567.6 48.3,568.4 48.6,569 49,569.7 49.4,570.3 49.7,570.9 50.1,571.5 50.5,572 50.8,572.5 52.7,574.8 54.5,576.6 56.3,578.1 58.2,579.4 60,580.5 61.8,581.4 63.6,582.2 65.5,582.8 67.3,583.5 69.1,584.1 71,584.7 72.8,585.3 74.6,586 76.4,586.7 78.3,587.4 80.1,588.1 81.9,588.8 83.8,589.5 85.6,590.2 87.4,590.8 89.2,591.4 91.1,591.9 92.9,592.4 97.6,593.5 102.3,594.5 107,595.3 111.7,596.2 116.4,597 121.1,597.8 125.8,598.6 130.5,599.5 135.2,600.3 139.9,601 144.6,601.8 149.3,602.5 154,603.3 158.7,604 163.4,604.7 168.1,605.4 172.8,606.1 177.5,606.7 182.2,607.4 186.9,608.1 191.7,608.7 196.4,609.4 201.1,610 205.8,610.6 210.5,611.3 222,612.8 233.2,614.2 244.3,615.7 255.5,617.2 266.7,618.7 277.9,620.2 289.1,621.6 300.3,623.3 311.4,625 322.6,626.8 333.8,628.9 345,631.1 356.2,635.9"/>
<polyline fill="none" stroke="#008000" stroke-width="1" stroke-linejoin="round" points="35.5,378.5 35.9,378.5 36.2,378.5 36.4,426.7 36.6,457.2 36.8,478.1 37.1,493.5 37.3,505.2 37.5,514.4 37.7,521.8 37.9,528 38.1,533.2 38.3,537.5 38.5,541.3 38.7,544.6 38.9,547.5 39.1,550.1 39.4,552.4 39.6,554.5 39.8,556.3 40,558 40.2,559.5 40.4,561 40.6,562.2 40.8,563.4 41,564.5 41.2,565.6 41.4,566.5 41.6,567.4 41.9,568.3 42.1,569 42.3,569.8 42.5,570.5 42.7,571.1 42.9,571.7 43.1,572.3 43.3,572.9 43.5,573.4 43.7,573.9 43.9,574.4 44.2,574.8 44.4,575.2 44.6,575.7 44.8,576.1 45,576.4 45.2,576.8 45.4,577.1 45.6,577.5 45.8,577.8 46,578.1 46.2,578.4 46.5,578.7 46.7,579 46.9,579.2 47.1,579.5 47.3,579.8 47.5,580 47.7,580.2 47.9,580.5 48.1,580.7 48.3,580.9 48.5,581.1 48.8,581.3 49,581.5 49.2,581.7 49.4,581.9 49.6,582.1 49.8,582.2 50,582.4 50.2,582.6 50.4,582.7 50.6,582.9 50.8,583 51.1,583.2 51.2,583.3 52.7,584.3 54.3,585.1 55.9,585.9 57.4,586.5 59,587.1 60.6,587.7 61.6,588 62.1,588.1 62.7,588.3 63.7,588.6 65.3,588.9 66.9,589.3 68.4,589.6 70,589.9 71.6,590.2 73.1,590.5 74.7,590.8 76.3,591.1 77.8,591.4 79.4,591.7 80.7,592 81,592 82.5,592.4 84.1,592.7 85.7,593.1 87.2,593.4 87.8,593.6 88.8,593.8 90.4,594.1 91.9,594.5 93.4,594.8 93.5,594.8 95.1,595.1 96.6,595.4 98.2,595.6 99.8,595.9 101.3,596.2 102.9,596.4 104.5,596.7 106,596.9 107.6,597.2 109.2,597.4 110.7,597.7 112.3,597.9 113.1,598 113.8,598.1 113.9,598.2 115.4,598.4 117,598.7 118.6,598.9 120.1,599.1 121.7,599.4 123.3,599.6 124.8,599.8 126.4,600.1 128,600.3 129.6,600.5 131.1,600.8 131.5,600.9 132.7,601 134.3,601.3 135.8,601.5 137.4,601.8 139,602 140,602.2 140.5,602.3 142.1,602.5 143.7,602.7 145.2,603 146.8,603.2 148.4,603.4 149.9,603.6 151.5,603.9 153.1,604.1 154.6,604.3 156.2,604.6 157,604.7 157.8,604.8 159.3,605 160.9,605.2 162.5,605.5 164,605.7 165.6,605.9 166.1,606 167.2,606.1 168.7,606.3 170.3,606.5 171.9,606.7 173.4,606.9 175,607.1 176.6,607.3 178.1,607.6 179.7,607.8 181.3,608 182.4,608.2 182.8,608.2 184.4,608.4 186,608.6 187.5,608.9 189.1,609.1 190.7,609.3 192.3,609.5 192.3,609.5 193.8,609.7 195.4,609.9 197,610.1 198.5,610.3 200.1,610.5 201.7,610.7 203.2,610.9 204.8,611.1 205.8,611.2 206.4,611.3 207.8,611.5 207.9,611.5 209.5,611.7 211.1,612 212.6,612.2 214.2,612.4 215.8,612.6 217.3,612.8 218,612.9 218.9,613 220.5,613.3 222,613.5 223.6,613.7 225.2,613.9 226.7,614.1 228.3,614.3 229.9,614.6 231.4,614.8 231.4,614.8 233,615 234.6,615.2 236.1,615.4 237.7,615.6 239.3,615.8 240.4,615.9 240.8,616 242.4,616.2 244,616.4 245.5,616.6 247.1,616.8 248.7,617 250.3,617.2 251.8,617.4 253.4,617.6 255,617.8 256.5,618 256.8,618 256.9,618 258.1,618.2 259.7,618.4 261.2,618.6 262.8,618.8 264.4,619 265.9,619.3 267.5,619.5 269.1,619.7 270.6,620 272.2,620.2 273.8,620.4 274.7,620.6 275.3,620.7 276.9,620.9 278.5,621.1 280,621.4 281.6,621.6 282.2,621.7 283.2,621.8 284.7,622.1 286.3,622.3 287.5,622.4 287.9,622.5 289.4,622.7 291,623 292.6,623.2 294.1,623.4 295.7,623.6 297.3,623.9 297.6,623.9 298.8,624.1 300.4,624.3 302,624.6 303.5,624.8 305.1,625 306.7,625.3 307,625.3 307.7,625.5 308.2,625.5 309.8,625.8 311.4,626.1 313,626.3 314.5,626.6 316.1,626.9 317.2,627.1 317.7,627.1 319.2,627.4 320.8,627.7 322.4,628 322.6,628 323.9,628.3 325.5,628.6 327.1,628.9 328.1,629.1 328.6,629.2 330.2,629.5 331.8,629.9 333.3,630.2 333.6,630.3 334.9,630.6 336.5,631 338,631.5 339.1,631.8 339.6,631.9 339.6,631.9 341.2,632.5 342.7,633 344.3,633.5 345,633.8 345.2,633.9 345.9,634.1 347.4,634.6 348.5,635 349,635.3 349,635.3 350.5,635.9 350.6,635.9 350.6,635.9 352.1,635.9 353.7,635.9 355.3,635.9 356.8,635.9 358.4,635.9 360,635.9 361.5,635.9 363.1,635.9 364.7,635.9 366.2,635.9 367.8,635.9 369.4,635.9 370.4,635.9"/>
<polyline fill="none" stroke="none" marker-start="url(#sg)" marker-mid="url(#sg)" marker-end="url(#sg)" points="35.5,378.5 35.9,378.5 36.2,378.5 36.3,402.7 36.4,421.9 36.5,437.6 36.6,450.7 36.7,461.7 36.8,471.1 36.9,479.2 36.9,486.4 37,492.6 37.1,498.2 37.2,503.2 37.3,507.7 37.4,511.7 37.5,515.4 37.6,518.8 37.7,521.8 37.8,524.7 37.9,527.3 38,529.7 38,531.9 38.1,534 38.2,536 38.3,537.8 38.4,539.5 38.5,541.1 38.6,542.6 38.7,544.1 38.8,545.4 38.9,546.7 39,547.9 39.1,549 39.1,550.1 39.5,554 39.9,557.2 40.2,559.9 40.6,562.2 41,564.3 41.3,566.1 41.7,567.6 42.1,569 42.4,570.3 42.8,571.4 43.2,572.5 43.5,573.4 43.9,574.2 44.3,575 44.6,575.8 45,576.4 45.4,577.1 45.7,577.6 46.1,578.2 46.5,578.7 46.8,579.2 47.2,579.6 47.6,580.1 47.9,580.5 48.3,580.8 48.7,581.2 49,581.5 49.4,581.9 49.7,582.2 50.1,582.5 50.5,582.8 50.8,583 52.4,584.1 54,585 55.5,585.7 57.1,586.4 58.7,587 60.3,587.6 61.8,588 63.4,588.5 65,588.9 66.5,589.2 68.1,589.5 69.7,589.8 71.2,590.1 72.8,590.4 74.4,590.7 75.9,591 77.5,591.3 79.1,591.6 80.6,591.9 82.2,592.3 83.8,592.6 85.3,593 86.9,593.4 88.5,593.7 90,594.1 91.6,594.4 94.5,595 97.5,595.5 100.4,596 103.3,596.5 106.2,597 109.2,597.4 112.1,597.9 115,598.3 117.9,598.8 120.9,599.2 123.8,599.7 126.7,600.1 129.6,600.6 132.6,601 135.5,601.5 138.4,601.9 141.3,602.4 144.3,602.8 147.2,603.2 150.1,603.7 153,604.1 156,604.5 158.9,605 161.8,605.4 164.8,605.8 167.7,606.2 170.6,606.5 173.5,606.9 176.5,607.3 179.4,607.7 182.3,608.1 185.2,608.5 188.2,608.9 191.1,609.3 194,609.7 196.9,610.1 199.9,610.4 202.8,610.8 205.7,611.2 208.6,611.6 211.6,612 216.3,612.7 221.9,613.5 227.5,614.2 233.1,615 238.7,615.7 244.2,616.4 249.8,617.1 255.4,617.8 261,618.6 266.6,619.4 272.2,620.2 277.8,621 283.4,621.9 289,622.7 294.6,623.5 300.1,624.3 305.7,625.1 311.3,626 316.9,627 322.5,628 328.1,629.1 333.7,630.3 339.3,631.9 344.9,633.7 350.5,635.9 356.1,635.9 361.6,635.9 367.2,635.9"/>
<polyline fill="none" stroke="#0000ff" stroke-width="1" stroke-linejoin="round" points="35.5,378.5 35.9,378.5 36.2,378.5 36.6,378.5 36.9,378.5 37.3,378.5 37.7,378.5 38,378.5 38.4,378.5 38.6,393.2 38.8,406.1 39,417.4 39.2,427.4 39.4,436.4 39.6,444.5 39.8,451.8 40,458.4 40.3,464.4 40.5,469.9 40.7,475 40.9,479.7 41.1,484 41.3,488 41.5,491.8 41.7,495.3 41.9,498.5 42.1,501.6 42.3,504.5 42.6,507.2 42.8,509.7 43,512.1 43.2,514.4 43.4,516.5 43.6,518.6 43.8,520.5 44,522.4 44.2,524.1 44.4,525.8 44.6,527.4 44.9,528.9 45.1,530.4 45.3,531.8 45.5,533.1 45.7,534.4 45.9,535.6 46.1,536.8 46.3,537.9 46.5,539 46.7,540.1 46.9,541.1 47.2,542.1 47.4,543 47.6,543.9 47.8,544.8 48,545.6 48.2,546.5 48.4,547.3 48.6,548 48.8,548.8 49,549.5 49.2,550.2 49.5,550.9 49.7,551.5 49.9,552.2 50.1,552.8 50.3,553.4 50.5,554 50.7,554.6 50.9,555.1 51.1,555.7 51.2,555.8 52.1,558 52.7,559.4 54.3,562.3 55.9,564.8 57.4,566.9 59,568.7 60.6,570.2 61.6,571.2 62.1,571.7 63.7,573 65.3,574.2 66.9,575.3 68.4,576.4 69.3,577 70,577.5 71.6,578.5 73.1,579.5 74.7,580.4 76.3,581.3 77.8,582.2 79.4,583 81,583.7 82.5,584.4 84.1,585.1 85.7,585.8 87.2,586.4 87.8,586.6 88.8,587 90.4,587.5 91.9,588.1 93.4,588.5 93.5,588.6 95.1,589 96.6,589.5 98.2,589.9 99.8,590.3 101.3,590.7 102.9,591.1 104.5,591.5 106,591.9 107.6,592.2 109.2,592.6 110.7,592.9 112.3,593.2 113.1,593.4 113.8,593.6 113.9,593.6 115.4,593.9 117,594.2 118.6,594.5 120.1,594.8 121.7,595.1 123.3,595.4 124.8,595.7 126.4,596 128,596.3 129.6,596.6 131.1,596.9 131.5,597 132.7,597.2 134.3,597.5 135.8,597.9 137.4,598.2 139,598.5 140,598.7 140.5,598.8 142.1,599.1 143.7,599.4 145.2,599.7 146.8,600 148.4,600.3 149.9,600.6 151.5,600.8 153.1,601.1 154.6,601.4 156.2,601.7 157,601.8 157.8,602 159.3,602.2 160.9,602.5 162.5,602.7 164,603 165.6,603.3 166.1,603.3 167.2,603.5 168.7,603.7 170.3,604 171.9,604.2 173.4,604.5 175,604.7 176.6,604.9 178.1,605.2 179.7,605.4 181.3,605.7 182.4,605.8 182.8,605.9 184.4,606.2 186,606.4 187.5,606.6 189.1,606.8 190.7,607.1 192.3,607.3 192.3,607.3 193.8,607.5 195.4,607.7 197,608 198.5,608.2 200.1,608.4 201.7,608.6 203.2,608.8 204.8,609 205.8,609.2 206.4,609.3 207.8,609.5 207.9,609.5 209.5,609.7 211.1,609.9 212.6,610.1 214.2,610.3 215.8,610.5 217.3,610.8 218.9,611 220.5,611.2 222,611.4 223.1,611.5 223.6,611.6 225.2,611.8 226.7,612 228.3,612.2 229.9,612.4 231.4,612.6 231.4,612.6 233,612.8 234.6,613 236.1,613.2 237.7,613.4 238.9,613.6 239.3,613.6 240.8,613.8 242.4,614 244,614.2 245.5,614.4 247.1,614.6 248.7,614.8 250.3,615 251.8,615.2 253.2,615.4 253.4,615.4 255,615.6 256.5,615.9 256.8,615.9 258.1,616.1 259.7,616.3 261.2,616.5 262.8,616.7 264.4,616.9 265.9,617.1 267.5,617.3 269.1,617.5 270.6,617.8 272.2,618 273.8,618.2 275.3,618.4 276.9,618.6 278.5,618.8 278.6,618.8 280,619 281.6,619.2 282.2,619.2 283.2,619.3 284.7,619.5 286.3,619.7 287.9,619.9 289.4,620.1 291,620.3 292.6,620.5 294.1,620.7 295.7,620.9 296.3,621 297.3,621.1 298.8,621.3 300.4,621.5 302,621.7 303.5,621.9 305.1,622.1 306.7,622.4 307.7,622.5 308.2,622.6 309.8,622.8 311.4,623 311.6,623 313,623.2 314.5,623.4 316.1,623.6 317.7,623.8 319.2,624.1 320.8,624.3 322.4,624.5 323.9,624.7 325.5,624.9 327.1,625.1 328.1,625.3 328.6,625.4 330.2,625.6 331.8,625.8 333.3,626.1 333.3,626.1 334.9,626.3 336.5,626.5 338,626.8 339.6,627 339.6,627 341.2,627.3 342.7,627.5 344.3,627.7 345.9,628 347.4,628.2 349,628.5 350.6,628.7 350.7,628.8 351.1,628.8 352.1,629 353.7,629.4 355.3,629.7 356.6,630 356.8,630 358.4,630.3 360,630.6 361.5,630.9 362.8,631.2 363,631.3 363.1,631.3 364.7,631.7 366.2,632.1 367.8,632.5 369.2,632.9 369.4,633 370.9,633.5 372.5,634.2 373,634.5 373.3,634.6 374.1,635.1 375.1,635.8 375.3,635.9 375.7,635.9 377.2,635.9 378.8,635.9 380.4,635.9 381.9,635.9 383.5,635.9"/>
<polyline fill="none" stroke="none" marker-start="url(#sb)" marker-mid="url(#sb)" marker-end="url(#sb)" points="35.5,378.5 35.9,378.5 36.2,378.5 36.6,378.5 36.9,378.5 37.3,378.5 37.7,378.5 38,378.5 38.4,378.5 38.7,403 39.1,422.6 39.5,438.5 39.8,451.8 40.2,462.9 40.6,472.5 40.9,480.8 41.3,488 41.7,494.4 42,500.1 42.4,505.2 42.8,509.7 43.1,513.8 43.5,517.6 43.9,521 44.2,524.1 44.6,527 45,529.6 45.3,532.1 45.7,534.4 46.1,536.5 46.4,538.5 46.8,540.3 47.2,542.1 47.5,543.7 47.9,545.2 48.2,546.7 48.6,548 49,549.3 49.3,550.5 49.7,551.7 50.1,552.8 50.4,553.8 50.8,554.8 51.2,555.8 52.7,559.4 54.3,562.3 55.9,564.8 57.4,566.9 59,568.7 60.6,570.2 62.1,571.7 63.7,573 65.3,574.2 66.9,575.3 68.4,576.4 70,577.5 71.6,578.5 73.1,579.5 74.7,580.4 76.3,581.3 77.8,582.2 79.4,583 81,583.7 82.5,584.4 84.1,585.1 85.7,585.8 87.2,586.4 88.8,587 90.4,587.5 91.9,588.1 95.4,589.1 98.8,590.1 102.3,591 105.7,591.8 109.2,592.6 112.6,593.3 116.1,594 119.5,594.7 123,595.3 126.4,596 129.9,596.6 133.3,597.3 136.8,598 140.2,598.7 143.7,599.4 147.1,600 150.6,600.7 154,601.3 157.5,601.9 160.9,602.5 164.4,603.1 167.8,603.6 171.2,604.1 174.7,604.7 178.1,605.2 181.6,605.7 185,606.2 188.5,606.8 191.9,607.3 195.4,607.7 198.8,608.2 202.3,608.7 205.7,609.2 209.2,609.7 212.6,610.1 218.6,610.9 224.9,611.7 231.1,612.6 237.4,613.4 243.7,614.2 249.9,615 256.2,615.8 262.5,616.7 268.7,617.5 275,618.3 281.3,619.1 287.6,619.9 293.8,620.7 300.1,621.5 306.4,622.3 312.6,623.2 318.9,624 325.2,624.9 331.4,625.8 337.7,626.7 344,627.7 350.3,628.7 356.5,630 362.8,631.2 369.1,632.9 375.3,635.9 381.6,635.9"/>
<g clip-path="url(#clipd)">
<polyline fill="none" stroke="#008000" stroke-width="1.1" stroke-linejoin="round" points="456.6,375.5 456.8,375.5 457,375.5 457.2,375.5 457.4,375.5 457.6,375.5 457.8,375.5 458,375.5 458.2,375.5 458.4,375.5 458.6,375.5 458.8,375.5 459,375.5 459.2,375.5 459.4,375.5 459.6,375.5 459.8,385.6 460,398.8 460.2,410.6 460.4,421 460.6,430.5 460.8,439 461,446.8 461.2,453.9 461.4,460.4 461.6,466.4 461.8,471.9 462,477 462.2,481.8 462.4,486.2 462.6,490.3 462.8,494.2 463,497.8 463.2,501.2 463.4,504.4 463.6,507.4 463.8,510.3 464,513 464.2,515.5 464.4,517.9 464.6,520.3 464.8,522.4 465,524.5 465.2,526.5 465.4,528.4 465.6,530.2 465.8,532 466,533.6 466.2,535.2 466.4,536.7 466.6,538.2 466.8,539.6 467,541 467.2,542.3 467.4,543.5 467.6,544.7 467.8,545.9 468,547 468.2,548.1 468.4,549.2 468.6,550.2 468.8,551.1 469,552.1 469.2,553 469.4,553.9 469.6,554.8 469.8,555.6 470,556.4 470.2,557.2 470.4,558 470.6,558.7 470.8,559.4 471,560.1 471.2,560.8 471.4,561.5 471.6,562.1 471.9,562.8 472.1,563.4 472.3,564 472.5,564.6 472.7,565.1 472.9,565.7 473.1,566.2 473.3,566.7 473.5,567.3 473.7,567.8 473.9,568.3 474.1,568.7 474.3,569.2 474.5,569.7 474.7,570.1 474.9,570.6 475.1,571 475.3,571.4 475.5,571.8 475.7,572.2 475.9,572.6 476.1,573 476.3,573.4 476.5,573.7 476.7,574.1 476.9,574.5 477.1,574.8 477.3,575.2 477.5,575.5 477.7,575.9 477.9,576.2 478.1,576.6 478.3,576.9 478.5,577.2 478.7,577.5 478.9,577.8 479.1,578.1 479.3,578.4 479.5,578.7 479.7,579 479.9,579.3 480.1,579.6 480.3,579.8 480.5,580.1 480.7,580.4 480.9,580.6 481.1,580.9 481.3,581.1 481.5,581.4 481.7,581.6 481.9,581.9 482.1,582.1 482.3,582.3 482.5,582.5 482.7,582.8 482.9,583 483.1,583.2 483.3,583.4 483.5,583.6 483.7,583.9 483.9,584.1 484.1,584.3 484.3,584.5 484.5,584.7 484.7,584.9 484.9,585 485.1,585.2 485.3,585.4 485.5,585.6 485.7,585.8 485.9,586 486.1,586.2 486.3,586.3 486.5,586.5 486.7,586.7 486.9,586.8 487.1,587 487.3,587.2 487.5,587.3 487.7,587.5 487.9,587.6 488.1,587.8 488.3,588 488.5,588.1 488.7,588.3 488.9,588.4 489.1,588.6 489.3,588.7 489.5,588.8 489.7,589 489.9,589.1 490.1,589.3 490.3,589.4 490.5,589.5 490.7,589.7 490.9,589.8 491.1,589.9 491.3,590.1 491.5,590.2 491.7,590.3 491.9,590.4 492.1,590.6 492.3,590.7 492.5,590.8 492.7,590.9 492.9,591 493.1,591.2 493.3,591.3 493.5,591.4 493.7,591.5 493.9,591.6 494.1,591.7 494.3,591.8 494.5,592 494.7,592.1 494.9,592.2 495.1,592.3 495.3,592.4 495.5,592.5 495.7,592.6 495.9,592.7 496.1,592.8 496.3,592.9 496.5,593 498.1,593.7 499.6,594.4 501.2,595 502.8,595.6 504.3,596.2 505.9,596.7 507.4,597.2 509,597.7 510.5,598.1 512.1,598.5 513.6,598.9 515.2,599.3 516.7,599.7 518.3,600 519.9,600.3 521.4,600.6 523,600.9 524.5,601.2 526.1,601.5 527.6,601.8 529.2,602 530.7,602.3 532.3,602.5 533.9,602.7 535.4,602.9 537,603.1 538.5,603.3 540.1,603.5 541.6,603.7 543.2,603.9 544.7,604.1 546.3,604.3 547.9,604.4 549.4,604.6 551,604.8 552.5,604.9 554.1,605.1 555.6,605.2 557.2,605.4 558.7,605.5 560.3,605.6 561.8,605.8 563.4,605.9 565,606 566.5,606.1 568.1,606.3 569.6,606.4 571.2,606.5 572.7,606.6 574.3,606.7 575.8,606.8 577.4,606.9 579,607 580.5,607.1 582.1,607.2 583.6,607.3 585.2,607.4 586.7,607.5 588.3,607.6 589.8,607.7 591.4,607.8 592.9,607.9 594.5,608 596.1,608.1 597.6,608.2 599.2,608.3 600.7,608.3 602.3,608.4 603.8,608.5 605.4,608.6 606.9,608.7 608.5,608.7 610.1,608.8 611.6,608.9 613.2,609 614.7,609 616.3,609.1 617.8,609.2 619.4,609.3 620.9,609.3 622.5,609.4 624.1,609.5 625.6,609.5 627.2,609.6 628.7,609.7 630.3,609.7 631.8,609.8 633.4,609.9 634.9,609.9 636.5,610 638,610.1 639.6,610.1 641.2,610.2 642.7,610.3 644.3,610.3 645.8,610.4 647.4,610.4 648.9,610.5 650.5,610.6 652,610.6 653.6,610.7 655.2,610.7 656.7,610.8 658.3,610.8 659.8,610.9 661.4,611 662.9,611 664.5,611.1 666,611.1 667.6,611.2 669.1,611.2 670.7,611.3 672.3,611.3 673.8,611.4 675.4,611.4 676.9,611.5 678.5,611.5 680,611.6 681.6,611.6 683.1,611.7 684.7,611.7 686.3,611.8 687.8,611.8 689.4,611.9 690.9,611.9 692.5,612 694,612 695.6,612.1 697.1,612.1 698.7,612.2 700.3,612.2 701.8,612.3 703.4,612.3 704.9,612.4 706.5,612.4 708,612.5 709.6,612.5 711.1,612.6 712.7,612.6 714.2,612.7 715.8,612.7 717.4,612.7 718.9,612.8 720.5,612.8 722,612.9 723.6,612.9 725.1,613 726.7,613 728.2,613.1 729.8,613.1 731.4,613.1 732.9,613.2 734.5,613.2 736,613.3 737.6,613.3 739.1,613.4 740.7,613.4 742.2,613.5 743.8,613.5 745.4,613.5 746.9,613.6 748.5,613.6 750,613.7 751.6,613.7 753.1,613.7 754.7,613.8 756.2,613.8 757.8,613.9 759.3,613.9 760.9,614 762.5,614 764,614 765.6,614.1 767.1,614.1 768.7,614.2 770.2,614.2 771.8,614.2 773.3,614.3 774.9,614.3 776.5,614.4 778,614.4 779.6,614.4 781.1,614.5 782.7,614.5 784.2,614.6 785.8,614.6 787.3,614.6 788.9,614.7 790.4,614.7 792,614.8 793.6,614.8 795.1,614.8 796.7,614.9 798.2,614.9 799.8,614.9 801.3,615 802.9,615 804.4,615.1 806,615.1"/>
<polyline fill="none" stroke="#008000" stroke-width="1.1" stroke-dasharray="3.7,1.6" points="456.6,375.5 456.8,375.5 457,375.5 457.2,375.5 457.4,375.5 457.6,375.5 457.8,375.5 458,375.5 458.2,375.5 458.4,375.5 458.6,375.5 458.8,375.5 459,375.5 459.2,375.5 459.4,375.5 459.6,375.5 459.8,385.6 460,398.8 460.2,410.6 460.4,421 460.6,430.5 460.8,439 461,446.8 461.2,453.9 461.4,460.4 461.6,466.4 461.8,471.9 462,477 462.2,481.8 462.4,486.2 462.6,490.3 462.8,494.2 463,497.8 463.2,501.2 463.4,504.4 463.6,507.4 463.8,510.3 464,513 464.2,515.5 464.4,517.9 464.6,520.3 464.8,522.4 465,524.5 465.2,526.5 465.4,528.4 465.6,530.2 465.8,532 466,533.6 466.2,535.2 466.4,536.7 466.6,538.2 466.8,539.6 467,541 467.2,542.3 467.4,543.5 467.6,544.7 467.8,545.9 468,547 468.2,548.1 468.4,549.2 468.6,550.2 468.8,551.1 469,552.1 469.2,553 469.4,553.9 469.6,554.8 469.8,555.6 470,556.4 470.2,557.2 470.4,558 470.6,558.7 470.8,559.4 471,560.1 471.2,560.8 471.4,561.5 471.6,562.1 471.9,562.8 472.1,563.4 472.3,564 472.5,564.6 472.7,565.1 472.9,565.7 473.1,566.2 473.3,566.7 473.5,567.3 473.7,567.8 473.9,568.3 474.1,568.7 474.3,569.2 474.5,569.7 474.7,570.1 474.9,570.6 475.1,571 475.3,571.4 475.5,571.8 475.7,572.2 475.9,572.6 476.1,573 476.3,573.4 476.5,573.7 476.7,574.1 476.9,574.5 477.1,574.8 477.3,575.1 477.5,575.5 477.7,575.8 477.9,576.1 478.1,576.5 478.3,576.8 478.5,577.1 478.7,577.4 478.9,577.7 479.1,577.9 479.3,578.2 479.5,578.5 479.7,578.8 479.9,579.1 480.1,579.3 480.3,579.6 480.5,579.8 480.7,580.1 480.9,580.3 481.1,580.6 481.3,580.8 481.5,581.1 481.7,581.3 481.9,581.5 482.1,581.7 482.3,582 482.5,582.2 482.7,582.4 482.9,582.6 483.1,582.8 483.3,583 483.5,583.2 483.7,583.4 483.9,583.6 484.1,583.8 484.3,584 484.5,584.2 484.7,584.4 484.9,584.5 485.1,584.7 485.3,584.9 485.5,585.1 485.7,585.2 485.9,585.4 486.1,585.6 486.3,585.7 486.5,585.9 486.7,586.1 486.9,586.2 487.1,586.4 487.3,586.5 487.5,586.7 487.7,586.8 487.9,587 488.1,587.1 488.3,587.3 488.5,587.4 488.7,587.6 488.9,587.7 489.1,587.8 489.3,588 489.5,588.1 489.7,588.2 489.9,588.4 490.1,588.5 490.3,588.6 490.5,588.8 490.7,588.9 490.9,589 491.1,589.1 491.3,589.3 491.5,589.4 491.7,589.5 491.9,589.6 492.1,589.7 492.3,589.8 492.5,589.9 492.7,590.1 492.9,590.2 493.1,590.3 493.3,590.4 493.5,590.5 493.7,590.6 493.9,590.7 494.1,590.8 494.3,590.9 494.5,591 494.7,591.1 494.9,591.2 495.1,591.3 495.3,591.4 495.5,591.5 495.7,591.6 495.9,591.7 496.1,591.8 496.3,591.9 496.5,592 498.1,592.6 499.6,593.3 501.2,593.9 502.8,594.4 504.3,594.9 505.9,595.4 507.4,595.8 509,596.2 510.5,596.6 512.1,597 513.6,597.4 515.2,597.7 516.7,598 518.3,598.3 519.9,598.6 521.4,598.9 523,599.1 524.5,599.4 526.1,599.6 527.6,599.9 529.2,600.1 530.7,600.3 532.3,600.5 533.9,600.7 535.4,600.9 537,601 538.5,601.2 540.1,601.4 541.6,601.5 543.2,601.7 544.7,601.8 546.3,602 547.9,602.1 549.4,602.2 551,602.4 552.5,602.5 554.1,602.6 555.6,602.7 557.2,602.8 558.7,603 560.3,603.1 561.8,603.2 563.4,603.3 565,603.4 566.5,603.5 568.1,603.5 569.6,603.6 571.2,603.7 572.7,603.8 574.3,603.9 575.8,604 577.4,604 579,604.1 580.5,604.2 582.1,604.3 583.6,604.3 585.2,604.4 586.7,604.5 588.3,604.5 589.8,604.6 591.4,604.7 592.9,604.7 594.5,604.8 596.1,604.8 597.6,604.9 599.2,605 600.7,605 602.3,605.1 603.8,605.1 605.4,605.2 606.9,605.2 608.5,605.3 610.1,605.3 611.6,605.4 613.2,605.4 614.7,605.4 616.3,605.5 617.8,605.5 619.4,605.6 620.9,605.6 622.5,605.7 624.1,605.7 625.6,605.7 627.2,605.8 628.7,605.8 630.3,605.9 631.8,605.9 633.4,605.9 634.9,606 636.5,606 638,606 639.6,606.1 641.2,606.1 642.7,606.1 644.3,606.2 645.8,606.2 647.4,606.2 648.9,606.3 650.5,606.3 652,606.3 653.6,606.3 655.2,606.4 656.7,606.4 658.3,606.4 659.8,606.5 661.4,606.5 662.9,606.5 664.5,606.5 666,606.6 667.6,606.6 669.1,606.6 670.7,606.6 672.3,606.7 673.8,606.7 675.4,606.7 676.9,606.7 678.5,606.8 680,606.8 681.6,606.8 683.1,606.8 684.7,606.8 686.3,606.9 687.8,606.9 689.4,606.9 690.9,606.9 692.5,607 694,607 695.6,607 697.1,607 698.7,607 700.3,607 701.8,607.1 703.4,607.1 704.9,607.1 706.5,607.1 708,607.1 709.6,607.2 711.1,607.2 712.7,607.2 714.2,607.2 715.8,607.2 717.4,607.2 718.9,607.3 720.5,607.3 722,607.3 723.6,607.3 725.1,607.3 726.7,607.3 728.2,607.4 729.8,607.4 731.4,607.4 732.9,607.4 734.5,607.4 736,607.4 737.6,607.4 739.1,607.5 740.7,607.5 742.2,607.5 743.8,607.5 745.4,607.5 746.9,607.5 748.5,607.5 750,607.5 751.6,607.6 753.1,607.6 754.7,607.6 756.2,607.6 757.8,607.6 759.3,607.6 760.9,607.6 762.5,607.6 764,607.7 765.6,607.7 767.1,607.7 768.7,607.7 770.2,607.7 771.8,607.7 773.3,607.7 774.9,607.7 776.5,607.8 778,607.8 779.6,607.8 781.1,607.8 782.7,607.8 784.2,607.8 785.8,607.8 787.3,607.8 788.9,607.8 790.4,607.8 792,607.9 793.6,607.9 795.1,607.9 796.7,607.9 798.2,607.9 799.8,607.9 801.3,607.9 802.9,607.9 804.4,607.9 806,607.9"/>
<polyline fill="none" stroke="#ff0000" stroke-width="1.1" stroke-linejoin="round" points="456.6,375.5 456.8,375.5 457,375.5 457.2,375.5 457.4,375.5 457.6,375.5 457.8,375.5 458,375.5 458.2,375.5 458.4,375.5 458.6,375.5 458.8,375.5 459,375.5 459.2,375.5 459.4,375.5 459.6,375.5 459.8,375.5 460,375.5 460.2,375.5 460.4,375.5 460.6,375.5 460.8,375.5 461,375.5 461.2,375.5 461.4,375.5 461.6,375.5 461.8,375.5 462,375.5 462.2,375.5 462.4,375.5 462.6,375.5 462.8,377.7 463,385 463.2,391.8 463.4,398.2 463.6,404.2 463.8,409.9 464,415.3 464.2,420.4 464.4,425.2 464.6,429.9 464.8,434.2 465,438.4 465.2,442.4 465.4,446.2 465.6,449.8 465.8,453.3 466,456.6 466.2,459.8 466.4,462.8 466.6,465.8 466.8,468.6 467,471.3 467.2,473.9 467.4,476.4 467.6,478.8 467.8,481.1 468,483.4 468.2,485.6 468.4,487.7 468.6,489.7 468.8,491.6 469,493.5 469.2,495.4 469.4,497.2 469.6,498.9 469.8,500.6 470,502.2 470.2,503.8 470.4,505.3 470.6,506.8 470.8,508.2 471,509.6 471.2,511 471.4,512.3 471.6,513.6 471.9,514.9 472.1,516.1 472.3,517.3 472.5,518.5 472.7,519.6 472.9,520.7 473.1,521.8 473.3,522.9 473.5,523.9 473.7,524.9 473.9,525.9 474.1,526.8 474.3,527.8 474.5,528.7 474.7,529.6 474.9,530.5 475.1,531.3 475.3,532.2 475.5,533 475.7,533.8 475.9,534.6 476.1,535.3 476.3,536.1 476.5,536.8 476.7,537.6 476.9,538.3 477.1,539 477.3,539.7 477.5,540.4 477.7,541.1 477.9,541.7 478.1,542.4 478.3,543 478.5,543.6 478.7,544.2 478.9,544.8 479.1,545.4 479.3,546 479.5,546.6 479.7,547.1 479.9,547.7 480.1,548.2 480.3,548.8 480.5,549.3 480.7,549.8 480.9,550.3 481.1,550.8 481.3,551.3 481.5,551.8 481.7,552.2 481.9,552.7 482.1,553.2 482.3,553.6 482.5,554.1 482.7,554.5 482.9,554.9 483.1,555.4 483.3,555.8 483.5,556.2 483.7,556.6 483.9,557 484.1,557.4 484.3,557.8 484.5,558.2 484.7,558.6 484.9,558.9 485.1,559.3 485.3,559.7 485.5,560 485.7,560.4 485.9,560.7 486.1,561.1 486.3,561.4 486.5,561.8 486.7,562.1 486.9,562.4 487.1,562.7 487.3,563.1 487.5,563.4 487.7,563.7 487.9,564 488.1,564.3 488.3,564.6 488.5,564.9 488.7,565.2 488.9,565.5 489.1,565.8 489.3,566 489.5,566.3 489.7,566.6 489.9,566.9 490.1,567.1 490.3,567.4 490.5,567.7 490.7,567.9 490.9,568.2 491.1,568.4 491.3,568.7 491.5,568.9 491.7,569.2 491.9,569.4 492.1,569.6 492.3,569.9 492.5,570.1 492.7,570.3 492.9,570.6 493.1,570.8 493.3,571 493.5,571.2 493.7,571.5 493.9,571.7 494.1,571.9 494.3,572.1 494.5,572.3 494.7,572.5 494.9,572.7 495.1,572.9 495.3,573.1 495.5,573.3 495.7,573.5 495.9,573.7 496.1,573.9 496.3,574.1 496.5,574.3 498.1,575.7 499.6,577 501.2,578.2 502.8,579.4 504.3,580.4 505.9,581.5 507.4,582.4 509,583.3 510.5,584.1 512.1,584.9 513.6,585.7 515.2,586.4 516.7,587 518.3,587.7 519.9,588.3 521.4,588.9 523,589.4 524.5,590 526.1,590.5 527.6,591 529.2,591.4 530.7,591.9 532.3,592.3 533.9,592.7 535.4,593.1 537,593.5 538.5,593.9 540.1,594.3 541.6,594.6 543.2,595 544.7,595.3 546.3,595.6 547.9,595.9 549.4,596.2 551,596.5 552.5,596.8 554.1,597 555.6,597.3 557.2,597.5 558.7,597.8 560.3,598 561.8,598.3 563.4,598.5 565,598.7 566.5,598.9 568.1,599.2 569.6,599.4 571.2,599.6 572.7,599.8 574.3,600 575.8,600.1 577.4,600.3 579,600.5 580.5,600.7 582.1,600.9 583.6,601 585.2,601.2 586.7,601.4 588.3,601.5 589.8,601.7 591.4,601.8 592.9,602 594.5,602.1 596.1,602.3 597.6,602.4 599.2,602.6 600.7,602.7 602.3,602.8 603.8,603 605.4,603.1 606.9,603.2 608.5,603.4 610.1,603.5 611.6,603.6 613.2,603.7 614.7,603.8 616.3,604 617.8,604.1 619.4,604.2 620.9,604.3 622.5,604.4 624.1,604.5 625.6,604.6 627.2,604.7 628.7,604.8 630.3,605 631.8,605.1 633.4,605.2 634.9,605.3 636.5,605.4 638,605.5 639.6,605.5 641.2,605.6 642.7,605.7 644.3,605.8 645.8,605.9 647.4,606 648.9,606.1 650.5,606.2 652,606.3 653.6,606.4 655.2,606.5 656.7,606.5 658.3,606.6 659.8,606.7 661.4,606.8 662.9,606.9 664.5,607 666,607 667.6,607.1 669.1,607.2 670.7,607.3 672.3,607.3 673.8,607.4 675.4,607.5 676.9,607.6 678.5,607.7 680,607.7 681.6,607.8 683.1,607.9 684.7,607.9 686.3,608 687.8,608.1 689.4,608.2 690.9,608.2 692.5,608.3 694,608.4 695.6,608.4 697.1,608.5 698.7,608.6 700.3,608.6 701.8,608.7 703.4,608.8 704.9,608.8 706.5,608.9 708,609 709.6,609 711.1,609.1 712.7,609.2 714.2,609.2 715.8,609.3 717.4,609.3 718.9,609.4 720.5,609.5 722,609.5 723.6,609.6 725.1,609.6 726.7,609.7 728.2,609.8 729.8,609.8 731.4,609.9 732.9,609.9 734.5,610 736,610.1 737.6,610.1 739.1,610.2 740.7,610.2 742.2,610.3 743.8,610.3 745.4,610.4 746.9,610.5 748.5,610.5 750,610.6 751.6,610.6 753.1,610.7 754.7,610.7 756.2,610.8 757.8,610.8 759.3,610.9 760.9,610.9 762.5,611 764,611 765.6,611.1 767.1,611.2 768.7,611.2 770.2,611.3 771.8,611.3 773.3,611.4 774.9,611.4 776.5,611.5 778,611.5 779.6,611.6 781.1,611.6 782.7,611.7 784.2,611.7 785.8,611.8 787.3,611.8 788.9,611.9 790.4,611.9 792,612 793.6,612 795.1,612.1 796.7,612.1 798.2,612.2 799.8,612.2 801.3,612.2 802.9,612.3 804.4,612.3 806,612.4"/>
<polyline fill="none" stroke="#ff0000" stroke-width="1.1" stroke-dasharray="3.7,1.6" points="456.6,375.5 456.8,375.5 457,375.5 457.2,375.5 457.4,375.5 457.6,375.5 457.8,375.5 458,375.5 458.2,375.5 458.4,375.5 458.6,375.5 458.8,375.5 459,375.5 459.2,375.5 459.4,375.5 459.6,375.5 459.8,375.5 460,375.5 460.2,375.5 460.4,375.5 460.6,375.5 460.8,375.5 461,375.5 461.2,375.5 461.4,375.5 461.6,375.5 461.8,375.5 462,375.5 462.2,375.5 462.4,375.5 462.6,375.5 462.8,377.7 463,385 463.2,391.8 463.4,398.2 463.6,404.2 463.8,409.9 464,415.3 464.2,420.4 464.4,425.2 464.6,429.9 464.8,434.2 465,438.4 465.2,442.4 465.4,446.2 465.6,449.8 465.8,453.3 466,456.6 466.2,459.8 466.4,462.8 466.6,465.8 466.8,468.6 467,471.3 467.2,473.9 467.4,476.4 467.6,478.8 467.8,481.1 468,483.4 468.2,485.6 468.4,487.7 468.6,489.7 468.8,491.6 469,493.5 469.2,495.4 469.4,497.2 469.6,498.9 469.8,500.6 470,502.2 470.2,503.8 470.4,505.3 470.6,506.8 470.8,508.2 471,509.6 471.2,511 471.4,512.3 471.6,513.6 471.9,514.9 472.1,516.1 472.3,517.3 472.5,518.5 472.7,519.6 472.9,520.7 473.1,521.8 473.3,522.9 473.5,523.9 473.7,524.9 473.9,525.9 474.1,526.8 474.3,527.8 474.5,528.7 474.7,529.6 474.9,530.5 475.1,531.3 475.3,532.2 475.5,533 475.7,533.8 475.9,534.6 476.1,535.3 476.3,536.1 476.5,536.8 476.7,537.6 476.9,538.3 477.1,539 477.3,539.6 477.5,540.3 477.7,541 477.9,541.6 478.1,542.3 478.3,542.9 478.5,543.5 478.7,544.1 478.9,544.7 479.1,545.2 479.3,545.8 479.5,546.4 479.7,546.9 479.9,547.5 480.1,548 480.3,548.5 480.5,549 480.7,549.5 480.9,550 481.1,550.5 481.3,551 481.5,551.5 481.7,551.9 481.9,552.4 482.1,552.8 482.3,553.3 482.5,553.7 482.7,554.1 482.9,554.5 483.1,555 483.3,555.4 483.5,555.8 483.7,556.2 483.9,556.6 484.1,556.9 484.3,557.3 484.5,557.7 484.7,558.1 484.9,558.4 485.1,558.8 485.3,559.1 485.5,559.5 485.7,559.8 485.9,560.2 486.1,560.5 486.3,560.8 486.5,561.2 486.7,561.5 486.9,561.8 487.1,562.1 487.3,562.4 487.5,562.7 487.7,563 487.9,563.3 488.1,563.6 488.3,563.9 488.5,564.2 488.7,564.5 488.9,564.8 489.1,565 489.3,565.3 489.5,565.6 489.7,565.8 489.9,566.1 490.1,566.4 490.3,566.6 490.5,566.9 490.7,567.1 490.9,567.4 491.1,567.6 491.3,567.9 491.5,568.1 491.7,568.3 491.9,568.6 492.1,568.8 492.3,569 492.5,569.2 492.7,569.5 492.9,569.7 493.1,569.9 493.3,570.1 493.5,570.3 493.7,570.5 493.9,570.8 494.1,571 494.3,571.2 494.5,571.4 494.7,571.6 494.9,571.8 495.1,572 495.3,572.2 495.5,572.3 495.7,572.5 495.9,572.7 496.1,572.9 496.3,573.1 496.5,573.3 498.1,574.6 499.6,575.9 501.2,577.1 502.8,578.1 504.3,579.2 505.9,580.1 507.4,581 509,581.8 510.5,582.6 512.1,583.4 513.6,584.1 515.2,584.8 516.7,585.4 518.3,586 519.9,586.6 521.4,587.1 523,587.7 524.5,588.1 526.1,588.6 527.6,589.1 529.2,589.5 530.7,589.9 532.3,590.3 533.9,590.7 535.4,591.1 537,591.4 538.5,591.8 540.1,592.1 541.6,592.4 543.2,592.7 544.7,593 546.3,593.3 547.9,593.6 549.4,593.8 551,594.1 552.5,594.3 554.1,594.6 555.6,594.8 557.2,595 558.7,595.3 560.3,595.5 561.8,595.7 563.4,595.9 565,596.1 566.5,596.3 568.1,596.4 569.6,596.6 571.2,596.8 572.7,597 574.3,597.1 575.8,597.3 577.4,597.4 579,597.6 580.5,597.7 582.1,597.9 583.6,598 585.2,598.2 586.7,598.3 588.3,598.4 589.8,598.5 591.4,598.7 592.9,598.8 594.5,598.9 596.1,599 597.6,599.1 599.2,599.3 600.7,599.4 602.3,599.5 603.8,599.6 605.4,599.7 606.9,599.8 608.5,599.9 610.1,600 611.6,600.1 613.2,600.2 614.7,600.2 616.3,600.3 617.8,600.4 619.4,600.5 620.9,600.6 622.5,600.7 624.1,600.8 625.6,600.8 627.2,600.9 628.7,601 630.3,601.1 631.8,601.1 633.4,601.2 634.9,601.3 636.5,601.4 638,601.4 639.6,601.5 641.2,601.6 642.7,601.6 644.3,601.7 645.8,601.7 647.4,601.8 648.9,601.9 650.5,601.9 652,602 653.6,602 655.2,602.1 656.7,602.2 658.3,602.2 659.8,602.3 661.4,602.3 662.9,602.4 664.5,602.4 666,602.5 667.6,602.5 669.1,602.6 670.7,602.6 672.3,602.7 673.8,602.7 675.4,602.8 676.9,602.8 678.5,602.9 680,602.9 681.6,603 683.1,603 684.7,603 686.3,603.1 687.8,603.1 689.4,603.2 690.9,603.2 692.5,603.3 694,603.3 695.6,603.3 697.1,603.4 698.7,603.4 700.3,603.4 701.8,603.5 703.4,603.5 704.9,603.6 706.5,603.6 708,603.6 709.6,603.7 711.1,603.7 712.7,603.7 714.2,603.8 715.8,603.8 717.4,603.8 718.9,603.9 720.5,603.9 722,603.9 723.6,604 725.1,604 726.7,604 728.2,604.1 729.8,604.1 731.4,604.1 732.9,604.1 734.5,604.2 736,604.2 737.6,604.2 739.1,604.3 740.7,604.3 742.2,604.3 743.8,604.3 745.4,604.4 746.9,604.4 748.5,604.4 750,604.4 751.6,604.5 753.1,604.5 754.7,604.5 756.2,604.6 757.8,604.6 759.3,604.6 760.9,604.6 762.5,604.6 764,604.7 765.6,604.7 767.1,604.7 768.7,604.7 770.2,604.8 771.8,604.8 773.3,604.8 774.9,604.8 776.5,604.9 778,604.9 779.6,604.9 781.1,604.9 782.7,604.9 784.2,605 785.8,605 787.3,605 788.9,605 790.4,605 792,605.1 793.6,605.1 795.1,605.1 796.7,605.1 798.2,605.1 799.8,605.2 801.3,605.2 802.9,605.2 804.4,605.2 806,605.2"/>
<polyline fill="none" stroke="#0000ff" stroke-width="1.1" stroke-linejoin="round" points="456.6,375.5 456.8,375.5 457,375.5 457.2,375.5 457.4,375.5 457.6,375.5 457.8,375.5 458,375.5 458.2,375.5 458.4,375.5 458.6,375.5 458.8,375.5 459,375.5 459.2,375.5 459.4,375.5 459.6,375.5 459.8,375.5 460,375.5 460.2,375.5 460.4,375.5 460.6,375.5 460.8,375.5 461,375.5 461.2,375.5 461.4,375.5 461.6,375.5 461.8,375.5 462,375.5 462.2,375.5 462.4,375.5 462.6,375.5 462.8,375.5 463,375.5 463.2,375.5 463.4,375.5 463.6,375.5 463.8,375.5 464,375.5 464.2,375.5 464.4,375.5 464.6,375.5 464.8,375.5 465,375.5 465.2,375.5 465.4,375.5 465.6,375.5 465.8,375.5 466,375.5 466.2,375.5 466.4,375.5 466.6,375.5 466.8,375.5 467,375.5 467.2,375.5 467.4,375.5 467.6,375.5 467.8,375.5 468,375.5 468.2,375.5 468.4,375.5 468.6,375.5 468.8,375.5 469,378.7 469.2,382.4 469.4,385.9 469.6,389.3 469.8,392.7 470,395.9 470.2,399 470.4,402 470.6,405 470.8,407.8 471,410.6 471.2,413.3 471.4,416 471.6,418.5 471.9,421 472.1,423.5 472.3,425.8 472.5,428.1 472.7,430.4 472.9,432.6 473.1,434.7 473.3,436.8 473.5,438.9 473.7,440.9 473.9,442.8 474.1,444.7 474.3,446.6 474.5,448.4 474.7,450.2 474.9,451.9 475.1,453.6 475.3,455.3 475.5,456.9 475.7,458.5 475.9,460 476.1,461.6 476.3,463.1 476.5,464.5 476.7,466.1 476.9,467.6 477.1,469.1 477.3,470.5 477.5,471.9 477.7,473.2 477.9,474.5 478.1,475.8 478.3,477.1 478.5,478.3 478.7,479.5 478.9,480.7 479.1,481.9 479.3,483.1 479.5,484.2 479.7,485.3 479.9,486.4 480.1,487.5 480.3,488.5 480.5,489.6 480.7,490.6 480.9,491.6 481.1,492.6 481.3,493.5 481.5,494.5 481.7,495.4 481.9,496.3 482.1,497.3 482.3,498.1 482.5,499 482.7,499.9 482.9,500.7 483.1,501.6 483.3,502.4 483.5,503.2 483.7,504 483.9,504.8 484.1,505.6 484.3,506.4 484.5,507.1 484.7,507.9 484.9,508.6 485.1,509.3 485.3,510.1 485.5,510.8 485.7,511.5 485.9,512.1 486.1,512.8 486.3,513.5 486.5,514.1 486.7,514.8 486.9,515.4 487.1,516.1 487.3,516.7 487.5,517.3 487.7,517.9 487.9,518.5 488.1,519.1 488.3,519.7 488.5,520.3 488.7,520.9 488.9,521.4 489.1,522 489.3,522.5 489.5,523.1 489.7,523.6 489.9,524.1 490.1,524.7 490.3,525.2 490.5,525.7 490.7,526.2 490.9,526.7 491.1,527.2 491.3,527.7 491.5,528.2 491.7,528.7 491.9,529.1 492.1,529.6 492.3,530.1 492.5,530.5 492.7,531 492.9,531.4 493.1,531.9 493.3,532.3 493.5,532.7 493.7,533.2 493.9,533.6 494.1,534 494.3,534.4 494.5,534.8 494.7,535.2 494.9,535.6 495.1,536 495.3,536.4 495.5,536.8 495.7,537.2 495.9,537.6 496.1,538 496.3,538.3 496.5,538.7 498.1,541.5 499.6,544 501.2,546.4 502.8,548.6 504.3,550.7 505.9,552.7 507.4,554.5 509,556.2 510.5,557.9 512.1,559.4 513.6,560.9 515.2,562.3 516.7,563.6 518.3,564.8 519.9,566 521.4,567.1 523,568.2 524.5,569.3 526.1,570.2 527.6,571.2 529.2,572.1 530.7,573 532.3,573.8 533.9,574.6 535.4,575.4 537,576.1 538.5,576.9 540.1,577.5 541.6,578.2 543.2,578.9 544.7,579.5 546.3,580.1 547.9,580.7 549.4,581.2 551,581.8 552.5,582.3 554.1,582.8 555.6,583.3 557.2,583.8 558.7,584.3 560.3,584.7 561.8,585.2 563.4,585.6 565,586 566.5,586.4 568.1,586.8 569.6,587.2 571.2,587.6 572.7,588 574.3,588.3 575.8,588.7 577.4,589 579,589.3 580.5,589.7 582.1,590 583.6,590.3 585.2,590.6 586.7,590.9 588.3,591.2 589.8,591.5 591.4,591.8 592.9,592 594.5,592.3 596.1,592.6 597.6,592.8 599.2,593.1 600.7,593.3 602.3,593.6 603.8,593.8 605.4,594 606.9,594.3 608.5,594.5 610.1,594.7 611.6,594.9 613.2,595.1 614.7,595.3 616.3,595.5 617.8,595.7 619.4,595.9 620.9,596.1 622.5,596.3 624.1,596.5 625.6,596.7 627.2,596.9 628.7,597.1 630.3,597.2 631.8,597.4 633.4,597.6 634.9,597.7 636.5,597.9 638,598.1 639.6,598.2 641.2,598.4 642.7,598.5 644.3,598.7 645.8,598.8 647.4,599 648.9,599.1 650.5,599.3 652,599.4 653.6,599.6 655.2,599.7 656.7,599.8 658.3,600 659.8,600.1 661.4,600.2 662.9,600.4 664.5,600.5 666,600.6 667.6,600.8 669.1,600.9 670.7,601 672.3,601.1 673.8,601.2 675.4,601.4 676.9,601.5 678.5,601.6 680,601.7 681.6,601.8 683.1,601.9 684.7,602 686.3,602.1 687.8,602.3 689.4,602.4 690.9,602.5 692.5,602.6 694,602.7 695.6,602.8 697.1,602.9 698.7,603 700.3,603.1 701.8,603.2 703.4,603.3 704.9,603.4 706.5,603.4 708,603.5 709.6,603.6 711.1,603.7 712.7,603.8 714.2,603.9 715.8,604 717.4,604.1 718.9,604.2 720.5,604.2 722,604.3 723.6,604.4 725.1,604.5 726.7,604.6 728.2,604.7 729.8,604.7 731.4,604.8 732.9,604.9 734.5,605 736,605.1 737.6,605.1 739.1,605.2 740.7,605.3 742.2,605.4 743.8,605.4 745.4,605.5 746.9,605.6 748.5,605.7 750,605.7 751.6,605.8 753.1,605.9 754.7,605.9 756.2,606 757.8,606.1 759.3,606.2 760.9,606.2 762.5,606.3 764,606.4 765.6,606.4 767.1,606.5 768.7,606.6 770.2,606.6 771.8,606.7 773.3,606.8 774.9,606.8 776.5,606.9 778,606.9 779.6,607 781.1,607.1 782.7,607.1 784.2,607.2 785.8,607.2 787.3,607.3 788.9,607.4 790.4,607.4 792,607.5 793.6,607.5 795.1,607.6 796.7,607.7 798.2,607.7 799.8,607.8 801.3,607.8 802.9,607.9 804.4,607.9 806,608"/>
<polyline fill="none" stroke="#0000ff" stroke-width="1.1" stroke-dasharray="3.7,1.6" points="456.6,375.5 456.8,375.5 457,375.5 457.2,375.5 457.4,375.5 457.6,375.5 457.8,375.5 458,375.5 458.2,375.5 458.4,375.5 458.6,375.5 458.8,375.5 459,375.5 459.2,375.5 459.4,375.5 459.6,375.5 459.8,375.5 460,375.5 460.2,375.5 460.4,375.5 460.6,375.5 460.8,375.5 461,375.5 461.2,375.5 461.4,375.5 461.6,375.5 461.8,375.5 462,375.5 462.2,375.5 462.4,375.5 462.6,375.5 462.8,375.5 463,375.5 463.2,375.5 463.4,375.5 463.6,375.5 463.8,375.5 464,375.5 464.2,375.5 464.4,375.5 464.6,375.5 464.8,375.5 465,375.5 465.2,375.5 465.4,375.5 465.6,375.5 465.8,375.5 466,375.5 466.2,375.5 466.4,375.5 466.6,375.5 466.8,375.5 467,375.5 467.2,375.5 467.4,375.5 467.6,375.5 467.8,375.5 468,375.5 468.2,375.5 468.4,375.5 468.6,375.5 468.8,375.5 469,378.7 469.2,382.4 469.4,385.9 469.6,389.3 469.8,392.7 470,395.9 470.2,399 470.4,402 470.6,405 470.8,407.8 471,410.6 471.2,413.3 471.4,416 471.6,418.5 471.9,421 472.1,423.5 472.3,425.8 472.5,428.1 472.7,430.4 472.9,432.6 473.1,434.7 473.3,436.8 473.5,438.9 473.7,440.9 473.9,442.8 474.1,444.7 474.3,446.6 474.5,448.4 474.7,450.2 474.9,451.9 475.1,453.6 475.3,455.3 475.5,456.9 475.7,458.5 475.9,460 476.1,461.6 476.3,463.1 476.5,464.5 476.7,466 476.9,467.4 477.1,468.8 477.3,470.1 477.5,471.5 477.7,472.8 477.9,474 478.1,475.3 478.3,476.5 478.5,477.7 478.7,478.9 478.9,480.1 479.1,481.2 479.3,482.4 479.5,483.5 479.7,484.5 479.9,485.6 480.1,486.7 480.3,487.7 480.5,488.7 480.7,489.7 480.9,490.7 481.1,491.6 481.3,492.6 481.5,493.5 481.7,494.4 481.9,495.3 482.1,496.2 482.3,497.1 482.5,498 482.7,498.8 482.9,499.7 483.1,500.5 483.3,501.3 483.5,502.1 483.7,502.9 483.9,503.7 484.1,504.4 484.3,505.2 484.5,505.9 484.7,506.6 484.9,507.4 485.1,508.1 485.3,508.8 485.5,509.5 485.7,510.1 485.9,510.8 486.1,511.5 486.3,512.1 486.5,512.8 486.7,513.4 486.9,514 487.1,514.7 487.3,515.3 487.5,515.9 487.7,516.5 487.9,517.1 488.1,517.7 488.3,518.2 488.5,518.8 488.7,519.4 488.9,519.9 489.1,520.4 489.3,521 489.5,521.5 489.7,522 489.9,522.6 490.1,523.1 490.3,523.6 490.5,524.1 490.7,524.6 490.9,525.1 491.1,525.6 491.3,526 491.5,526.5 491.7,527 491.9,527.4 492.1,527.9 492.3,528.3 492.5,528.8 492.7,529.2 492.9,529.7 493.1,530.1 493.3,530.5 493.5,531 493.7,531.4 493.9,531.8 494.1,532.2 494.3,532.6 494.5,533 494.7,533.4 494.9,533.8 495.1,534.2 495.3,534.6 495.5,534.9 495.7,535.3 495.9,535.7 496.1,536.1 496.3,536.4 496.5,536.8 498.1,539.5 499.6,542 501.2,544.3 502.8,546.4 504.3,548.4 505.9,550.3 507.4,552.1 509,553.8 510.5,555.3 512.1,556.8 513.6,558.2 515.2,559.6 516.7,560.8 518.3,562 519.9,563.2 521.4,564.2 523,565.3 524.5,566.3 526.1,567.2 527.6,568.1 529.2,569 530.7,569.8 532.3,570.6 533.9,571.3 535.4,572.1 537,572.8 538.5,573.4 540.1,574.1 541.6,574.7 543.2,575.3 544.7,575.9 546.3,576.5 547.9,577 549.4,577.5 551,578 552.5,578.5 554.1,579 555.6,579.5 557.2,579.9 558.7,580.3 560.3,580.8 561.8,581.2 563.4,581.6 565,581.9 566.5,582.3 568.1,582.7 569.6,583 571.2,583.4 572.7,583.7 574.3,584 575.8,584.4 577.4,584.7 579,585 580.5,585.3 582.1,585.5 583.6,585.8 585.2,586.1 586.7,586.4 588.3,586.6 589.8,586.9 591.4,587.1 592.9,587.4 594.5,587.6 596.1,587.8 597.6,588.1 599.2,588.3 600.7,588.5 602.3,588.7 603.8,588.9 605.4,589.1 606.9,589.3 608.5,589.5 610.1,589.7 611.6,589.9 613.2,590.1 614.7,590.2 616.3,590.4 617.8,590.6 619.4,590.8 620.9,590.9 622.5,591.1 624.1,591.2 625.6,591.4 627.2,591.6 628.7,591.7 630.3,591.9 631.8,592 633.4,592.1 634.9,592.3 636.5,592.4 638,592.6 639.6,592.7 641.2,592.8 642.7,593 644.3,593.1 645.8,593.2 647.4,593.3 648.9,593.5 650.5,593.6 652,593.7 653.6,593.8 655.2,593.9 656.7,594 658.3,594.1 659.8,594.3 661.4,594.4 662.9,594.5 664.5,594.6 666,594.7 667.6,594.8 669.1,594.9 670.7,595 672.3,595.1 673.8,595.2 675.4,595.2 676.9,595.3 678.5,595.4 680,595.5 681.6,595.6 683.1,595.7 684.7,595.8 686.3,595.9 687.8,596 689.4,596 690.9,596.1 692.5,596.2 694,596.3 695.6,596.4 697.1,596.4 698.7,596.5 700.3,596.6 701.8,596.7 703.4,596.7 704.9,596.8 706.5,596.9 708,596.9 709.6,597 711.1,597.1 712.7,597.2 714.2,597.2 715.8,597.3 717.4,597.4 718.9,597.4 720.5,597.5 722,597.5 723.6,597.6 725.1,597.7 726.7,597.7 728.2,597.8 729.8,597.8 731.4,597.9 732.9,598 734.5,598 736,598.1 737.6,598.1 739.1,598.2 740.7,598.3 742.2,598.3 743.8,598.4 745.4,598.4 746.9,598.5 748.5,598.5 750,598.6 751.6,598.6 753.1,598.7 754.7,598.7 756.2,598.8 757.8,598.8 759.3,598.9 760.9,598.9 762.5,599 764,599 765.6,599.1 767.1,599.1 768.7,599.2 770.2,599.2 771.8,599.2 773.3,599.3 774.9,599.3 776.5,599.4 778,599.4 779.6,599.5 781.1,599.5 782.7,599.5 784.2,599.6 785.8,599.6 787.3,599.7 788.9,599.7 790.4,599.7 792,599.8 793.6,599.8 795.1,599.9 796.7,599.9 798.2,599.9 799.8,600 801.3,600 802.9,600.1 804.4,600.1 806,600.1"/>
</g>
<path d="M471.2 436.7L477.6 443.1M471.2 443.1L477.6 436.7" stroke="#0000ff" stroke-width="2.0" fill="none"/>
<path d="M478.6 491.3L485.0 497.7M478.6 497.7L485.0 491.3" stroke="#0000ff" stroke-width="2.0" fill="none"/>
<path d="M511.0 558.4L517.4 564.8M511.0 564.8L517.4 558.4" stroke="#0000ff" stroke-width="2.0" fill="none"/>
<path d="M607.4 592.5L613.8 598.9M607.4 598.9L613.8 592.5" stroke="#0000ff" stroke-width="2.0" fill="none"/>
<path d="M768.8 605.4L775.2 611.8M768.8 611.8L775.2 605.4" stroke="#0000ff" stroke-width="2.0" fill="none"/>
<path d="M465.9 490.6L472.3 497.0M465.9 497.0L472.3 490.6" stroke="#ff0000" stroke-width="2.0" fill="none"/>
<path d="M482.2 555.9L488.6 562.3M482.2 562.3L488.6 555.9" stroke="#ff0000" stroke-width="2.0" fill="none"/>
<path d="M514.6 584.2L521.0 590.6M514.6 590.6L521.0 584.2" stroke="#ff0000" stroke-width="2.0" fill="none"/>
<path d="M610.1 600.7L616.5 607.1M610.1 607.1L616.5 600.7" stroke="#ff0000" stroke-width="2.0" fill="none"/>
<path d="M770.9 607.6L777.3 614.0M770.9 614.0L777.3 607.6" stroke="#ff0000" stroke-width="2.0" fill="none"/>
<path d="M459.2 490.1L465.6 496.5M459.2 496.5L465.6 490.1" stroke="#008000" stroke-width="2.0" fill="none"/>
<path d="M467.6 555.3L474.0 561.7M467.6 561.7L474.0 555.3" stroke="#008000" stroke-width="2.0" fill="none"/>
<path d="M483.3 583.0L489.7 589.4M483.3 589.4L489.7 583.0" stroke="#008000" stroke-width="2.0" fill="none"/>
<path d="M515.8 596.2L522.2 602.6M515.8 602.6L522.2 596.2" stroke="#008000" stroke-width="2.0" fill="none"/>
<path d="M612.1 605.6L618.5 612.0M612.1 612.0L618.5 605.6" stroke="#008000" stroke-width="2.0" fill="none"/>
<path d="M772.3 610.3L778.7 616.7M772.3 616.7L778.7 610.3" stroke="#008000" stroke-width="2.0" fill="none"/>
<text transform="translate(37.4 313.2) scale(1.11 1)" font-family="Liberation Sans, sans-serif" font-size="8.5" text-anchor="middle" fill="#000">0.0</text>
<text transform="translate(87.3 313.2) scale(1.11 1)" font-family="Liberation Sans, sans-serif" font-size="8.5" text-anchor="middle" fill="#000">0.1</text>
<text transform="translate(137.2 313.2) scale(1.11 1)" font-family="Liberation Sans, sans-serif" font-size="8.5" text-anchor="middle" fill="#000">0.2</text>
<text transform="translate(187.1 313.2) scale(1.11 1)" font-family="Liberation Sans, sans-serif" font-size="8.5" text-anchor="middle" fill="#000">0.3</text>
<text transform="translate(236.9 313.2) scale(1.11 1)" font-family="Liberation Sans, sans-serif" font-size="8.5" text-anchor="middle" fill="#000">0.4</text>
<text transform="translate(286.8 313.2) scale(1.11 1)" font-family="Liberation Sans, sans-serif" font-size="8.5" text-anchor="middle" fill="#000">0.5</text>
<text transform="translate(336.7 313.2) scale(1.11 1)" font-family="Liberation Sans, sans-serif" font-size="8.5" text-anchor="middle" fill="#000">0.6</text>
<text transform="translate(35.8 307.5) scale(1.11 1)" font-family="Liberation Sans, sans-serif" font-size="8.5" text-anchor="end" fill="#000">0.00</text>
<text transform="translate(35.8 239.8) scale(1.11 1)" font-family="Liberation Sans, sans-serif" font-size="8.5" text-anchor="end" fill="#000">0.05</text>
<text transform="translate(35.8 172.0) scale(1.11 1)" font-family="Liberation Sans, sans-serif" font-size="8.5" text-anchor="end" fill="#000">0.10</text>
<text transform="translate(35.8 104.3) scale(1.11 1)" font-family="Liberation Sans, sans-serif" font-size="8.5" text-anchor="end" fill="#000">0.15</text>
<text transform="translate(35.8 36.6) scale(1.11 1)" font-family="Liberation Sans, sans-serif" font-size="8.5" text-anchor="end" fill="#000">0.20</text>
<path d="M37.4 304.4v-3.3M37.4 33.5v3.3M87.3 304.4v-3.3M87.3 33.5v3.3M137.2 304.4v-3.3M137.2 33.5v3.3M187.1 304.4v-3.3M187.1 33.5v3.3M236.9 304.4v-3.3M236.9 33.5v3.3M286.8 304.4v-3.3M286.8 33.5v3.3M336.7 304.4v-3.3M336.7 33.5v3.3M37.4 304.4h3.3M386.6 304.4h-3.3M37.4 236.7h3.3M386.6 236.7h-3.3M37.4 168.9h3.3M386.6 168.9h-3.3M37.4 101.2h3.3M386.6 101.2h-3.3M37.4 33.5h3.3M386.6 33.5h-3.3" stroke="#000" stroke-width="0.5" fill="none"/>
<rect x="37.4" y="33.5" width="349.2" height="270.9" fill="none" stroke="#000" stroke-width="0.85"/>
<text transform="translate(460.6 313.1) scale(1.11 1)" font-family="Liberation Sans, sans-serif" font-size="8.5" text-anchor="middle" fill="#000">0.0</text>
<text transform="translate(510.6 313.1) scale(1.11 1)" font-family="Liberation Sans, sans-serif" font-size="8.5" text-anchor="middle" fill="#000">0.1</text>
<text transform="translate(560.6 313.1) scale(1.11 1)" font-family="Liberation Sans, sans-serif" font-size="8.5" text-anchor="middle" fill="#000">0.2</text>
<text transform="translate(610.6 313.1) scale(1.11 1)" font-family="Liberation Sans, sans-serif" font-size="8.5" text-anchor="middle" fill="#000">0.3</text>
<text transform="translate(660.5 313.1) scale(1.11 1)" font-family="Liberation Sans, sans-serif" font-size="8.5" text-anchor="middle" fill="#000">0.4</text>
<text transform="translate(710.5 313.1) scale(1.11 1)" font-family="Liberation Sans, sans-serif" font-size="8.5" text-anchor="middle" fill="#000">0.5</text>
<text transform="translate(760.5 313.1) scale(1.11 1)" font-family="Liberation Sans, sans-serif" font-size="8.5" text-anchor="middle" fill="#000">0.6</text>
<text transform="translate(459.0 307.4) scale(1.11 1)" font-family="Liberation Sans, sans-serif" font-size="8.5" text-anchor="end" fill="#000">0.000</text>
<text transform="translate(459.0 268.8) scale(1.11 1)" font-family="Liberation Sans, sans-serif" font-size="8.5" text-anchor="end" fill="#000">0.005</text>
<text transform="translate(459.0 230.2) scale(1.11 1)" font-family="Liberation Sans, sans-serif" font-size="8.5" text-anchor="end" fill="#000">0.010</text>
<text transform="translate(459.0 191.6) scale(1.11 1)" font-family="Liberation Sans, sans-serif" font-size="8.5" text-anchor="end" fill="#000">0.015</text>
<text transform="translate(459.0 152.9) scale(1.11 1)" font-family="Liberation Sans, sans-serif" font-size="8.5" text-anchor="end" fill="#000">0.020</text>
<text transform="translate(459.0 114.3) scale(1.11 1)" font-family="Liberation Sans, sans-serif" font-size="8.5" text-anchor="end" fill="#000">0.025</text>
<text transform="translate(459.0 75.7) scale(1.11 1)" font-family="Liberation Sans, sans-serif" font-size="8.5" text-anchor="end" fill="#000">0.030</text>
<text transform="translate(459.0 37.1) scale(1.11 1)" font-family="Liberation Sans, sans-serif" font-size="8.5" text-anchor="end" fill="#000">0.035</text>
<path d="M460.6 304.3v-3.3M460.6 34.0v3.3M510.6 304.3v-3.3M510.6 34.0v3.3M560.6 304.3v-3.3M560.6 34.0v3.3M610.6 304.3v-3.3M610.6 34.0v3.3M660.5 304.3v-3.3M660.5 34.0v3.3M710.5 304.3v-3.3M710.5 34.0v3.3M760.5 304.3v-3.3M760.5 34.0v3.3M460.6 304.3h3.3M810.5 304.3h-3.3M460.6 265.7h3.3M810.5 265.7h-3.3M460.6 227.1h3.3M810.5 227.1h-3.3M460.6 188.5h3.3M810.5 188.5h-3.3M460.6 149.8h3.3M810.5 149.8h-3.3M460.6 111.2h3.3M810.5 111.2h-3.3M460.6 72.6h3.3M810.5 72.6h-3.3M460.6 34.0h3.3M810.5 34.0h-3.3" stroke="#000" stroke-width="0.5" fill="none"/>
<rect x="460.6" y="34.0" width="349.9" height="270.3" fill="none" stroke="#3a3a3a" stroke-width="0.85"/>
<text transform="translate(35.5 644.7) scale(1.11 1)" font-family="Liberation Sans, sans-serif" font-size="8.5" text-anchor="middle" fill="#000">0.0</text>
<text transform="translate(87.8 644.7) scale(1.11 1)" font-family="Liberation Sans, sans-serif" font-size="8.5" text-anchor="middle" fill="#000">0.1</text>
<text transform="translate(140.0 644.7) scale(1.11 1)" font-family="Liberation Sans, sans-serif" font-size="8.5" text-anchor="middle" fill="#000">0.2</text>
<text transform="translate(192.3 644.7) scale(1.11 1)" font-family="Liberation Sans, sans-serif" font-size="8.5" text-anchor="middle" fill="#000">0.3</text>
<text transform="translate(244.5 644.7) scale(1.11 1)" font-family="Liberation Sans, sans-serif" font-size="8.5" text-anchor="middle" fill="#000">0.4</text>
<text transform="translate(296.8 644.7) scale(1.11 1)" font-family="Liberation Sans, sans-serif" font-size="8.5" text-anchor="middle" fill="#000">0.5</text>
<text transform="translate(349.0 644.7) scale(1.11 1)" font-family="Liberation Sans, sans-serif" font-size="8.5" text-anchor="middle" fill="#000">0.6</text>
<text transform="translate(33.9 639.0) scale(1.11 1)" font-family="Liberation Sans, sans-serif" font-size="8.5" text-anchor="end" fill="#000">0.0</text>
<text transform="translate(33.9 587.5) scale(1.11 1)" font-family="Liberation Sans, sans-serif" font-size="8.5" text-anchor="end" fill="#000">0.2</text>
<text transform="translate(33.9 536.0) scale(1.11 1)" font-family="Liberation Sans, sans-serif" font-size="8.5" text-anchor="end" fill="#000">0.4</text>
<text transform="translate(33.9 484.6) scale(1.11 1)" font-family="Liberation Sans, sans-serif" font-size="8.5" text-anchor="end" fill="#000">0.6</text>
<text transform="translate(33.9 433.1) scale(1.11 1)" font-family="Liberation Sans, sans-serif" font-size="8.5" text-anchor="end" fill="#000">0.8</text>
<text transform="translate(33.9 381.6) scale(1.11 1)" font-family="Liberation Sans, sans-serif" font-size="8.5" text-anchor="end" fill="#000">1.0</text>
<path d="M35.5 635.9v-3.3M35.5 365.4v3.3M87.8 635.9v-3.3M87.8 365.4v3.3M140.0 635.9v-3.3M140.0 365.4v3.3M192.3 635.9v-3.3M192.3 365.4v3.3M244.5 635.9v-3.3M244.5 365.4v3.3M296.8 635.9v-3.3M296.8 365.4v3.3M349.0 635.9v-3.3M349.0 365.4v3.3M35.5 635.9h3.3M384.9 635.9h-3.3M35.5 584.4h3.3M384.9 584.4h-3.3M35.5 532.9h3.3M384.9 532.9h-3.3M35.5 481.5h3.3M384.9 481.5h-3.3M35.5 430.0h3.3M384.9 430.0h-3.3M35.5 378.5h3.3M384.9 378.5h-3.3" stroke="#000" stroke-width="0.5" fill="none"/>
<rect x="35.5" y="365.4" width="349.4" height="270.5" fill="none" stroke="#1a1a1a" stroke-width="0.85"/>
<text transform="translate(456.6 642.0) scale(1.11 1)" font-family="Liberation Sans, sans-serif" font-size="8.5" text-anchor="middle" fill="#000">0.000</text>
<text transform="translate(506.5 642.0) scale(1.11 1)" font-family="Liberation Sans, sans-serif" font-size="8.5" text-anchor="middle" fill="#000">0.005</text>
<text transform="translate(556.4 642.0) scale(1.11 1)" font-family="Liberation Sans, sans-serif" font-size="8.5" text-anchor="middle" fill="#000">0.010</text>
<text transform="translate(606.3 642.0) scale(1.11 1)" font-family="Liberation Sans, sans-serif" font-size="8.5" text-anchor="middle" fill="#000">0.015</text>
<text transform="translate(656.3 642.0) scale(1.11 1)" font-family="Liberation Sans, sans-serif" font-size="8.5" text-anchor="middle" fill="#000">0.020</text>
<text transform="translate(706.2 642.0) scale(1.11 1)" font-family="Liberation Sans, sans-serif" font-size="8.5" text-anchor="middle" fill="#000">0.025</text>
<text transform="translate(756.1 642.0) scale(1.11 1)" font-family="Liberation Sans, sans-serif" font-size="8.5" text-anchor="middle" fill="#000">0.030</text>
<text transform="translate(795.0 642.0) scale(1.11 1)" font-family="Liberation Sans, sans-serif" font-size="8.5" text-anchor="start" fill="#000">0.0355</text>
<text transform="translate(455.0 636.3) scale(1.11 1)" font-family="Liberation Sans, sans-serif" font-size="8.5" text-anchor="end" fill="#000">0.0</text>
<text transform="translate(455.0 584.8) scale(1.11 1)" font-family="Liberation Sans, sans-serif" font-size="8.5" text-anchor="end" fill="#000">0.2</text>
<text transform="translate(455.0 533.2) scale(1.11 1)" font-family="Liberation Sans, sans-serif" font-size="8.5" text-anchor="end" fill="#000">0.4</text>
<text transform="translate(455.0 481.7) scale(1.11 1)" font-family="Liberation Sans, sans-serif" font-size="8.5" text-anchor="end" fill="#000">0.6</text>
<text transform="translate(455.0 430.1) scale(1.11 1)" font-family="Liberation Sans, sans-serif" font-size="8.5" text-anchor="end" fill="#000">0.8</text>
<text transform="translate(455.0 378.6) scale(1.11 1)" font-family="Liberation Sans, sans-serif" font-size="8.5" text-anchor="end" fill="#000">1.0</text>
<path d="M456.6 633.2v-3.3M456.6 363.1v3.3M506.5 633.2v-3.3M506.5 363.1v3.3M556.4 633.2v-3.3M556.4 363.1v3.3M606.3 633.2v-3.3M606.3 363.1v3.3M656.3 633.2v-3.3M656.3 363.1v3.3M706.2 633.2v-3.3M706.2 363.1v3.3M756.1 633.2v-3.3M756.1 363.1v3.3M806.0 633.2v-3.3M806.0 363.1v3.3M456.6 633.2h3.3M806.0 633.2h-3.3M456.6 581.7h3.3M806.0 581.7h-3.3M456.6 530.1h3.3M806.0 530.1h-3.3M456.6 478.6h3.3M806.0 478.6h-3.3M456.6 427.0h3.3M806.0 427.0h-3.3M456.6 375.5h3.3M806.0 375.5h-3.3" stroke="#000" stroke-width="0.5" fill="none"/>
<rect x="456.6" y="363.1" width="349.4" height="270.1" fill="none" stroke="#2a2a2a" stroke-width="0.85"/>
<text x="38.2" y="16.6" font-family="Liberation Serif, serif" font-size="24.5" text-anchor="start" textLength="27.0" lengthAdjust="spacingAndGlyphs" >(a)</text>
<text x="461.0" y="16.6" font-family="Liberation Serif, serif" font-size="24.5" text-anchor="start" textLength="28.5" lengthAdjust="spacingAndGlyphs" >(b)</text>
<text x="35.4" y="352.2" font-family="Liberation Serif, serif" font-size="24.5" text-anchor="start" textLength="27.0" lengthAdjust="spacingAndGlyphs" >(c)</text>
<text x="456.0" y="352.6" font-family="Liberation Serif, serif" font-size="24.5" text-anchor="start" textLength="30.0" lengthAdjust="spacingAndGlyphs" >(d)</text>
<text x="78.7" y="248.7" font-family="Liberation Serif, serif" font-size="13.2" text-anchor="start" textLength="68.0" lengthAdjust="spacingAndGlyphs" ><tspan font-style="italic">V</tspan><tspan font-style="italic" font-size="9.2" dy="2.8">f</tspan><tspan font-style="italic" dy="-2.8"> / V</tspan><tspan font-style="italic" font-size="9.2" dy="2.8">g0</tspan><tspan dy="-2.8" font-size="14.0"> =0.9</tspan></text>
<rect x="80.0" y="261.3" width="15.5" height="26.6" rx="7.5" ry="8.8" fill="none" stroke="#000" stroke-width="1.2"/>
<path d="M87.7 255.0V261.3" stroke="#000" stroke-width="1" fill="none"/>
<text x="161.3" y="232.0" font-family="Liberation Serif, serif" font-size="13.2" text-anchor="start" textLength="68.0" lengthAdjust="spacingAndGlyphs" ><tspan font-style="italic">V</tspan><tspan font-style="italic" font-size="9.2" dy="2.8">f</tspan><tspan font-style="italic" dy="-2.8"> / V</tspan><tspan font-style="italic" font-size="9.2" dy="2.8">g0</tspan><tspan dy="-2.8" font-size="14.0"> =0.8</tspan></text>
<rect x="160.4" y="246.9" width="15.7" height="27.3" rx="7.5" ry="8.8" fill="none" stroke="#000" stroke-width="1.2"/>
<path d="M168.2 240.8V246.9" stroke="#000" stroke-width="1" fill="none"/>
<text x="285.6" y="209.6" font-family="Liberation Serif, serif" font-size="13.2" text-anchor="start" textLength="68.0" lengthAdjust="spacingAndGlyphs" ><tspan font-style="italic">V</tspan><tspan font-style="italic" font-size="9.2" dy="2.8">f</tspan><tspan font-style="italic" dy="-2.8"> / V</tspan><tspan font-style="italic" font-size="9.2" dy="2.8">g0</tspan><tspan dy="-2.8" font-size="14.0"> =0.7</tspan></text>
<rect x="284.4" y="225.4" width="15.8" height="27.3" rx="7.6" ry="8.9" fill="none" stroke="#000" stroke-width="1.2"/>
<path d="M292.0 219.3V225.4" stroke="#000" stroke-width="1" fill="none"/>
<text x="704.0" y="65.3" font-family="Liberation Serif, serif" font-size="13.2" text-anchor="start" textLength="68.0" lengthAdjust="spacingAndGlyphs" ><tspan font-style="italic">V</tspan><tspan font-style="italic" font-size="9.2" dy="2.8">f</tspan><tspan font-style="italic" dy="-2.8"> / V</tspan><tspan font-style="italic" font-size="9.2" dy="2.8">g0</tspan><tspan dy="-2.8" font-size="14.0"> =0.7</tspan></text>
<rect x="702.0" y="83.0" width="28.7" height="49.2" rx="14.1" ry="15.4" fill="none" stroke="#000" stroke-width="1.2"/>
<path d="M715.6 72.6V83.0" stroke="#000" stroke-width="1" fill="none"/>
<text x="580.3" y="202.8" font-family="Liberation Serif, serif" font-size="13.2" text-anchor="start" textLength="68.0" lengthAdjust="spacingAndGlyphs" ><tspan font-style="italic">V</tspan><tspan font-style="italic" font-size="9.2" dy="2.8">f</tspan><tspan font-style="italic" dy="-2.8"> / V</tspan><tspan font-style="italic" font-size="9.2" dy="2.8">g0</tspan><tspan dy="-2.8" font-size="14.0"> =0.8</tspan></text>
<rect x="580.3" y="218.2" width="15.3" height="26.7" rx="7.4" ry="8.7" fill="none" stroke="#000" stroke-width="1.2"/>
<path d="M588.1 211.8V218.2" stroke="#000" stroke-width="1" fill="none"/>
<text x="500.7" y="264.9" font-family="Liberation Serif, serif" font-size="13.2" text-anchor="start" textLength="68.0" lengthAdjust="spacingAndGlyphs" ><tspan font-style="italic">V</tspan><tspan font-style="italic" font-size="9.2" dy="2.8">f</tspan><tspan font-style="italic" dy="-2.8"> / V</tspan><tspan font-style="italic" font-size="9.2" dy="2.8">g0</tspan><tspan dy="-2.8" font-size="14.0"> =0.9</tspan></text>
<rect x="506.1" y="278.2" width="10.8" height="18.4" rx="5.1" ry="6.4" fill="none" stroke="#000" stroke-width="1.2"/>
<path d="M511.3 274.0V278.2" stroke="#000" stroke-width="1" fill="none"/>
<text x="77.4" y="546.8" font-family="Liberation Serif, serif" font-size="13.2" text-anchor="start" textLength="68.0" lengthAdjust="spacingAndGlyphs" ><tspan font-style="italic">V</tspan><tspan font-style="italic" font-size="9.2" dy="2.8">f</tspan><tspan font-style="italic" dy="-2.8"> / V</tspan><tspan font-style="italic" font-size="9.2" dy="2.8">g0</tspan><tspan dy="-2.8" font-size="14.0"> =0.9</tspan></text>
<path d="M98.9 552.8L74.3 614.4" stroke="#000" stroke-width="1"/>
<ellipse cx="71.6" cy="623.2" rx="3.8" ry="7.0" fill="none" stroke="#000" stroke-width="1.3"/>
<text x="151.7" y="566.2" font-family="Liberation Serif, serif" font-size="13.2" text-anchor="start" textLength="68.0" lengthAdjust="spacingAndGlyphs" ><tspan font-style="italic">V</tspan><tspan font-style="italic" font-size="9.2" dy="2.8">f</tspan><tspan font-style="italic" dy="-2.8"> / V</tspan><tspan font-style="italic" font-size="9.2" dy="2.8">g0</tspan><tspan dy="-2.8" font-size="14.0"> =0.8</tspan></text>
<path d="M166.7 572.3L150.9 613.7" stroke="#000" stroke-width="1"/>
<ellipse cx="149.4" cy="621.6" rx="3.9" ry="7.0" fill="none" stroke="#000" stroke-width="1.3"/>
<text x="259.0" y="578.0" font-family="Liberation Serif, serif" font-size="13.2" text-anchor="start" textLength="68.0" lengthAdjust="spacingAndGlyphs" ><tspan font-style="italic">V</tspan><tspan font-style="italic" font-size="9.2" dy="2.8">f</tspan><tspan font-style="italic" dy="-2.8"> / V</tspan><tspan font-style="italic" font-size="9.2" dy="2.8">g0</tspan><tspan dy="-2.8" font-size="14.0"> =0.7</tspan></text>
<path d="M275.6 582.7L265.9 606.3" stroke="#000" stroke-width="1"/>
<ellipse cx="264.6" cy="616.4" rx="3.8" ry="6.9" fill="none" stroke="#000" stroke-width="1.3"/>
<path d="M37.4 45.1H208.2M37.4 110.5H245.9M37.4 180.1H85.6" stroke="#000" stroke-width="1.1" stroke-dasharray="2.3,1.0" fill="none"/>
<text x="99.9" y="59.3" font-family="Liberation Serif, serif" font-size="12.6" text-anchor="start" textLength="114.3" lengthAdjust="spacingAndGlyphs" ><tspan font-style="italic">A</tspan><tspan font-size="7.8" dy="2.2">act</tspan><tspan font-style="italic" dy="-2.2">/A</tspan><tspan font-style="italic" font-size="8.6" dy="2.6"> 0</tspan><tspan font-style="italic" dy="-2.6"> (V</tspan><tspan font-style="italic" font-size="8.6" dy="2.6"> f</tspan><tspan font-style="italic" dy="-2.6">/V</tspan><tspan font-style="italic" font-size="8.6" dy="2.6">g0</tspan><tspan dy="-2.6">=0.7</tspan><tspan font-style="italic">)</tspan></text>
<text x="149.1" y="124.3" font-family="Liberation Serif, serif" font-size="12.6" text-anchor="start" textLength="113.9" lengthAdjust="spacingAndGlyphs" ><tspan font-style="italic">A</tspan><tspan font-size="7.8" dy="2.2">act</tspan><tspan font-style="italic" dy="-2.2">/A</tspan><tspan font-style="italic" font-size="8.6" dy="2.6"> 0</tspan><tspan font-style="italic" dy="-2.6"> (V</tspan><tspan font-style="italic" font-size="8.6" dy="2.6"> f</tspan><tspan font-style="italic" dy="-2.6">/V</tspan><tspan font-style="italic" font-size="8.6" dy="2.6">g0</tspan><tspan dy="-2.6">=0.8</tspan><tspan font-style="italic">)</tspan></text>
<text x="52.0" y="193.1" font-family="Liberation Serif, serif" font-size="12.6" text-anchor="start" textLength="39.3" lengthAdjust="spacingAndGlyphs" ><tspan font-style="italic">A</tspan><tspan font-size="7.8" dy="2.2">act</tspan><tspan font-style="italic" dy="-2.2">/A</tspan><tspan font-style="italic" font-size="8.6" dy="2.6"> 0</tspan></text>
<rect x="271.1" y="44.5" width="104.7" height="69.6" rx="0" fill="#fff" stroke="#444" stroke-width="0.8"/>
<circle cx="282.6" cy="55.6" r="2.3" fill="#0000ff" stroke="#000" stroke-width="0.4"/>
<rect x="288.7" y="53.3" width="4.6" height="4.6" fill="#0000ff" stroke="#000" stroke-width="0.4"/>
<path d="M299.5 52.6l1.7 3l-1.7 3l-1.7 -3z" fill="#0000ff" stroke="#000" stroke-width="0.4"/>
<text x="310.6" y="59.2" font-family="Liberation Serif, serif" font-size="11.6" text-anchor="start" textLength="53.3" lengthAdjust="spacingAndGlyphs" >&#916;/<tspan font-style="italic">&#955;</tspan><tspan dx="1.5">=</tspan>0.02</text>
<circle cx="282.6" cy="80.1" r="2.3" fill="#ff0000" stroke="#000" stroke-width="0.4"/>
<rect x="288.7" y="77.8" width="4.6" height="4.6" fill="#ff0000" stroke="#000" stroke-width="0.4"/>
<path d="M299.5 77.1l1.7 3l-1.7 3l-1.7 -3z" fill="#ff0000" stroke="#000" stroke-width="0.4"/>
<text x="310.6" y="83.7" font-family="Liberation Serif, serif" font-size="11.6" text-anchor="start" textLength="52.8" lengthAdjust="spacingAndGlyphs" >&#916;/<tspan font-style="italic">&#955;</tspan><tspan dx="1.5">=</tspan>0.01</text>
<circle cx="282.6" cy="104.1" r="2.3" fill="#008000" stroke="#000" stroke-width="0.4"/>
<rect x="288.7" y="101.8" width="4.6" height="4.6" fill="#008000" stroke="#000" stroke-width="0.4"/>
<path d="M299.5 101.1l1.7 3l-1.7 3l-1.7 -3z" fill="#008000" stroke="#000" stroke-width="0.4"/>
<text x="310.6" y="107.7" font-family="Liberation Serif, serif" font-size="11.6" text-anchor="start" textLength="58.8" lengthAdjust="spacingAndGlyphs" >&#916;/<tspan font-style="italic">&#955;</tspan><tspan dx="1.5">=</tspan>0.005</text>
<rect x="627.7" y="223.2" width="104.8" height="70.4" rx="1.5" fill="#fff" stroke="#444" stroke-width="0.8"/>
<circle cx="638.7" cy="234.6" r="2.3" fill="#0000ff" stroke="#000" stroke-width="0.4"/>
<rect x="645.1" y="232.3" width="4.6" height="4.6" fill="#0000ff" stroke="#000" stroke-width="0.4"/>
<path d="M656.1 231.6l1.7 3l-1.7 3l-1.7 -3z" fill="#0000ff" stroke="#000" stroke-width="0.4"/>
<text x="667.2" y="238.2" font-family="Liberation Serif, serif" font-size="11.6" text-anchor="start" textLength="53.3" lengthAdjust="spacingAndGlyphs" >&#916;/<tspan font-style="italic">&#955;</tspan><tspan dx="1.5">=</tspan>0.02</text>
<circle cx="638.7" cy="259.2" r="2.3" fill="#ff0000" stroke="#000" stroke-width="0.4"/>
<rect x="645.1" y="256.9" width="4.6" height="4.6" fill="#ff0000" stroke="#000" stroke-width="0.4"/>
<path d="M656.1 256.2l1.7 3l-1.7 3l-1.7 -3z" fill="#ff0000" stroke="#000" stroke-width="0.4"/>
<text x="667.2" y="262.8" font-family="Liberation Serif, serif" font-size="11.6" text-anchor="start" textLength="52.8" lengthAdjust="spacingAndGlyphs" >&#916;/<tspan font-style="italic">&#955;</tspan><tspan dx="1.5">=</tspan>0.01</text>
<circle cx="638.7" cy="283.3" r="2.3" fill="#008000" stroke="#000" stroke-width="0.4"/>
<rect x="645.1" y="281.0" width="4.6" height="4.6" fill="#008000" stroke="#000" stroke-width="0.4"/>
<path d="M656.1 280.3l1.7 3l-1.7 3l-1.7 -3z" fill="#008000" stroke="#000" stroke-width="0.4"/>
<text x="667.2" y="286.9" font-family="Liberation Serif, serif" font-size="11.6" text-anchor="start" textLength="58.8" lengthAdjust="spacingAndGlyphs" >&#916;/<tspan font-style="italic">&#955;</tspan><tspan dx="1.5">=</tspan>0.005</text>
<rect x="269.2" y="379.0" width="104.4" height="70.7" rx="0" fill="#fff" stroke="#444" stroke-width="0.8"/>
<circle cx="280.2" cy="390.0" r="2.3" fill="#0000ff" stroke="#000" stroke-width="0.4"/>
<rect x="286.5" y="387.7" width="4.6" height="4.6" fill="#0000ff" stroke="#000" stroke-width="0.4"/>
<path d="M297.5 387.0l1.7 3l-1.7 3l-1.7 -3z" fill="#0000ff" stroke="#000" stroke-width="0.4"/>
<text x="308.7" y="393.6" font-family="Liberation Serif, serif" font-size="11.6" text-anchor="start" textLength="53.3" lengthAdjust="spacingAndGlyphs" >&#916;/<tspan font-style="italic">&#955;</tspan><tspan dx="1.5">=</tspan>0.02</text>
<circle cx="280.2" cy="415.0" r="2.3" fill="#ff0000" stroke="#000" stroke-width="0.4"/>
<rect x="286.5" y="412.7" width="4.6" height="4.6" fill="#ff0000" stroke="#000" stroke-width="0.4"/>
<path d="M297.5 412.0l1.7 3l-1.7 3l-1.7 -3z" fill="#ff0000" stroke="#000" stroke-width="0.4"/>
<text x="308.7" y="418.6" font-family="Liberation Serif, serif" font-size="11.6" text-anchor="start" textLength="52.8" lengthAdjust="spacingAndGlyphs" >&#916;/<tspan font-style="italic">&#955;</tspan><tspan dx="1.5">=</tspan>0.01</text>
<circle cx="280.2" cy="438.6" r="2.3" fill="#008000" stroke="#000" stroke-width="0.4"/>
<rect x="286.5" y="436.3" width="4.6" height="4.6" fill="#008000" stroke="#000" stroke-width="0.4"/>
<path d="M297.5 435.6l1.7 3l-1.7 3l-1.7 -3z" fill="#008000" stroke="#000" stroke-width="0.4"/>
<text x="308.7" y="442.2" font-family="Liberation Serif, serif" font-size="11.6" text-anchor="start" textLength="58.8" lengthAdjust="spacingAndGlyphs" >&#916;/<tspan font-style="italic">&#955;</tspan><tspan dx="1.5">=</tspan>0.005</text>
<rect x="683.5" y="373.0" width="106.9" height="78.9" rx="2" fill="#fff" stroke="#444" stroke-width="0.8"/>
<path d="M692.1 378.4H707.5" stroke="#0000ff" stroke-width="1.1"/>
<path d="M692.1 384.1H707.5" stroke="#0000ff" stroke-width="1.1" stroke-dasharray="3.4,1.6"/>
<path d="M697.2 388.9L702.4 394.1M697.2 394.1L702.4 388.9" stroke="#0000ff" stroke-width="1.9" fill="none"/>
<text x="719.7" y="389.3" font-family="Liberation Serif, serif" font-size="11.6" text-anchor="start" textLength="53.3" lengthAdjust="spacingAndGlyphs" >&#916;/<tspan font-style="italic">&#955;</tspan><tspan dx="1.5">=</tspan>0.02</text>
<path d="M692.1 404.9H707.5" stroke="#ff0000" stroke-width="1.1"/>
<path d="M692.1 410.0H707.5" stroke="#ff0000" stroke-width="1.1" stroke-dasharray="3.4,1.6"/>
<path d="M697.2 415.1L702.4 420.3M697.2 420.3L702.4 415.1" stroke="#ff0000" stroke-width="1.9" fill="none"/>
<text x="719.7" y="415.8" font-family="Liberation Serif, serif" font-size="11.6" text-anchor="start" textLength="52.3" lengthAdjust="spacingAndGlyphs" >&#916;/<tspan font-style="italic">&#955;</tspan><tspan dx="1.5">=</tspan>0.01</text>
<path d="M692.1 430.5H707.5" stroke="#008000" stroke-width="1.1"/>
<path d="M692.1 435.6H707.5" stroke="#008000" stroke-width="1.1" stroke-dasharray="3.4,1.6"/>
<path d="M697.2 441.3L702.4 446.5M697.2 446.5L702.4 441.3" stroke="#008000" stroke-width="1.9" fill="none"/>
<text x="719.7" y="441.4" font-family="Liberation Serif, serif" font-size="11.6" text-anchor="start" textLength="58.8" lengthAdjust="spacingAndGlyphs" >&#916;/<tspan font-style="italic">&#955;</tspan><tspan dx="1.5">=</tspan>0.005</text>
<rect x="637.7" y="463.3" width="151.8" height="84.0" rx="2" fill="#fff" stroke="#444" stroke-width="0.8"/>
<path d="M642 469.8H658.5" stroke="#0000ff" stroke-width="1.1"/>
<path d="M642 474.7H658.5" stroke="#ff0000" stroke-width="1.1"/>
<path d="M642 479.5H658.5" stroke="#008000" stroke-width="1.1"/>
<path d="M642 493.2H658.5" stroke="#0000ff" stroke-width="1.1" stroke-dasharray="1.9,1.5"/>
<path d="M642 498.0H658.5" stroke="#ff0000" stroke-width="1.1" stroke-dasharray="1.9,1.5"/>
<path d="M642 503.1H658.5" stroke="#008000" stroke-width="1.1" stroke-dasharray="1.9,1.5"/>
<path d="M647.9 519.0L653.1 524.2M647.9 524.2L653.1 519.0" stroke="#0000ff" stroke-width="1.9" fill="none"/>
<path d="M647.9 528.4L653.1 533.6M647.9 533.6L653.1 528.4" stroke="#ff0000" stroke-width="1.9" fill="none"/>
<path d="M647.9 538.1L653.1 543.3M647.9 543.3L653.1 538.1" stroke="#008000" stroke-width="1.9" fill="none"/>
<text x="665.6" y="477.5" font-family="Liberation Serif, serif" font-size="11.8" text-anchor="start" textLength="106.8" lengthAdjust="spacingAndGlyphs" >Frictionless simulation</text>
<text x="665.6" y="501.1" font-family="Liberation Serif, serif" font-size="11.8" text-anchor="start" textLength="119.6" lengthAdjust="spacingAndGlyphs" >Analytical approximation</text>
<text x="665.6" y="533.6" font-family="Liberation Serif, serif" font-size="11.8" text-anchor="start" textLength="97.4" lengthAdjust="spacingAndGlyphs" >Frictional simulation</text>
<text x="467.2" y="45.8" font-family="Liberation Serif, serif" font-size="9.6" text-anchor="start" textLength="47.4" lengthAdjust="spacingAndGlyphs" >Kuznetsov's</text>
<text x="467.2" y="58.0" font-family="Liberation Serif, serif" font-size="9.6" text-anchor="start" textLength="57.8" lengthAdjust="spacingAndGlyphs" >approximation</text>
<text x="469.0" y="70.9" font-family="Liberation Serif, serif" font-size="9.6" text-anchor="start" textLength="52.2" lengthAdjust="spacingAndGlyphs" ><tspan font-style="italic">(V</tspan><tspan font-style="italic" font-size="6.6" dy="1.8">f</tspan><tspan font-style="italic" dy="-1.8"> /V</tspan><tspan font-style="italic" font-size="6.6" dy="1.8">g0</tspan><tspan dy="-1.8">=0.7)</tspan></text>
<path d="M493.9 75.0L511.5 93.2" stroke="#000" stroke-width="1" fill="none"/>
<path d="M513.6 95.4L507.2 91.9L510.2 88.9Z" fill="#000"/>
<text x="186.5" y="329.2" font-family="Liberation Serif, serif" font-size="15" text-anchor="start" textLength="37.9" lengthAdjust="spacingAndGlyphs" ><tspan font-style="italic">p</tspan><tspan font-size="10.5" dy="2.6">0</tspan><tspan dy="-2.6">/</tspan><tspan font-style="italic">E</tspan><tspan font-size="10.5" dy="-5.5">*</tspan></text>
<text x="627.0" y="328.2" font-family="Liberation Serif, serif" font-size="15" text-anchor="start" textLength="37.9" lengthAdjust="spacingAndGlyphs" ><tspan font-style="italic">p</tspan><tspan font-size="10.5" dy="2.6">0</tspan><tspan dy="-2.6">/</tspan><tspan font-style="italic">E</tspan><tspan font-size="10.5" dy="-5.5">*</tspan></text>
<text x="178.8" y="663.0" font-family="Liberation Serif, serif" font-size="15" text-anchor="start" textLength="37.9" lengthAdjust="spacingAndGlyphs" ><tspan font-style="italic">p</tspan><tspan font-size="10.5" dy="2.6">0</tspan><tspan dy="-2.6">/</tspan><tspan font-style="italic">E</tspan><tspan font-size="10.5" dy="-5.5">*</tspan></text>
<text x="617.6" y="661.2" font-family="Liberation Serif, serif" font-size="15" text-anchor="start" textLength="37.9" lengthAdjust="spacingAndGlyphs" ><tspan font-style="italic">p</tspan><tspan font-size="10.5" dy="2.6">0</tspan><tspan dy="-2.6">/</tspan><tspan font-style="italic">E</tspan><tspan font-size="10.5" dy="-5.5">*</tspan></text>
<g transform="translate(11.5 186.7) rotate(-90)">
<text x="0.0" y="0.0" font-family="Liberation Serif, serif" font-size="15" text-anchor="start" textLength="33.0" lengthAdjust="spacingAndGlyphs" ><tspan font-style="italic">A</tspan>/<tspan font-style="italic">A</tspan><tspan font-size="10.5" dy="2.6">0</tspan></text>
</g>
<g transform="translate(13.5 530.7) rotate(-90)">
<text x="0.0" y="0.0" font-family="Liberation Serif, serif" font-size="15" text-anchor="start" textLength="57.5" lengthAdjust="spacingAndGlyphs" ><tspan font-style="italic">&#956;</tspan><tspan font-style="italic" font-size="10.5" dy="2.8">glob</tspan><tspan dy="-2.8">/</tspan><tspan font-style="italic">&#956;</tspan><tspan font-style="italic" font-size="10.5" dy="2.8">loc</tspan></text>
</g>
<g transform="translate(433.0 529.0) rotate(-90)">
<text x="0.0" y="0.0" font-family="Liberation Serif, serif" font-size="15" text-anchor="start" textLength="57.5" lengthAdjust="spacingAndGlyphs" ><tspan font-style="italic">&#956;</tspan><tspan font-style="italic" font-size="10.5" dy="2.8">glob</tspan><tspan dy="-2.8">/</tspan><tspan font-style="italic">&#956;</tspan><tspan font-style="italic" font-size="10.5" dy="2.8">loc</tspan></text>
</g>
<g transform="translate(416.0 214.0) rotate(-90)">
<path d="M11.6 -20.6C10.6 -23.4 8.2 -22.6 7.6 -17.5L4.6 4.5C4.0 9.6 1.6 10.4 0.6 7.6" stroke="#000" stroke-width="1.15" fill="none" stroke-linecap="round"/>
<circle cx="11.3" cy="-20.3" r="0.95" fill="#000"/><circle cx="0.9" cy="7.3" r="0.95" fill="#000"/>
<text x="4.9" y="14.4" font-family="Liberation Serif, serif" font-size="11" text-anchor="start" >&#915;<tspan font-size="7" dy="2.0">c</tspan></text>
<text x="18.2" y="0.0" font-family="Liberation Serif, serif" font-size="15" text-anchor="start" textLength="97.3" lengthAdjust="spacingAndGlyphs" >|<tspan font-style="italic">&#963;</tspan><tspan font-style="italic" font-size="10.5" dy="2.6">n</tspan><tspan dy="-2.6">| </tspan><tspan font-style="italic">dx </tspan>/(<tspan font-style="italic">E</tspan><tspan font-size="10.5" dy="-5.5">*</tspan><tspan dy="5.5"> </tspan><tspan font-style="italic">&#955;</tspan>)</text>
</g>
</svg>
</body></html>
